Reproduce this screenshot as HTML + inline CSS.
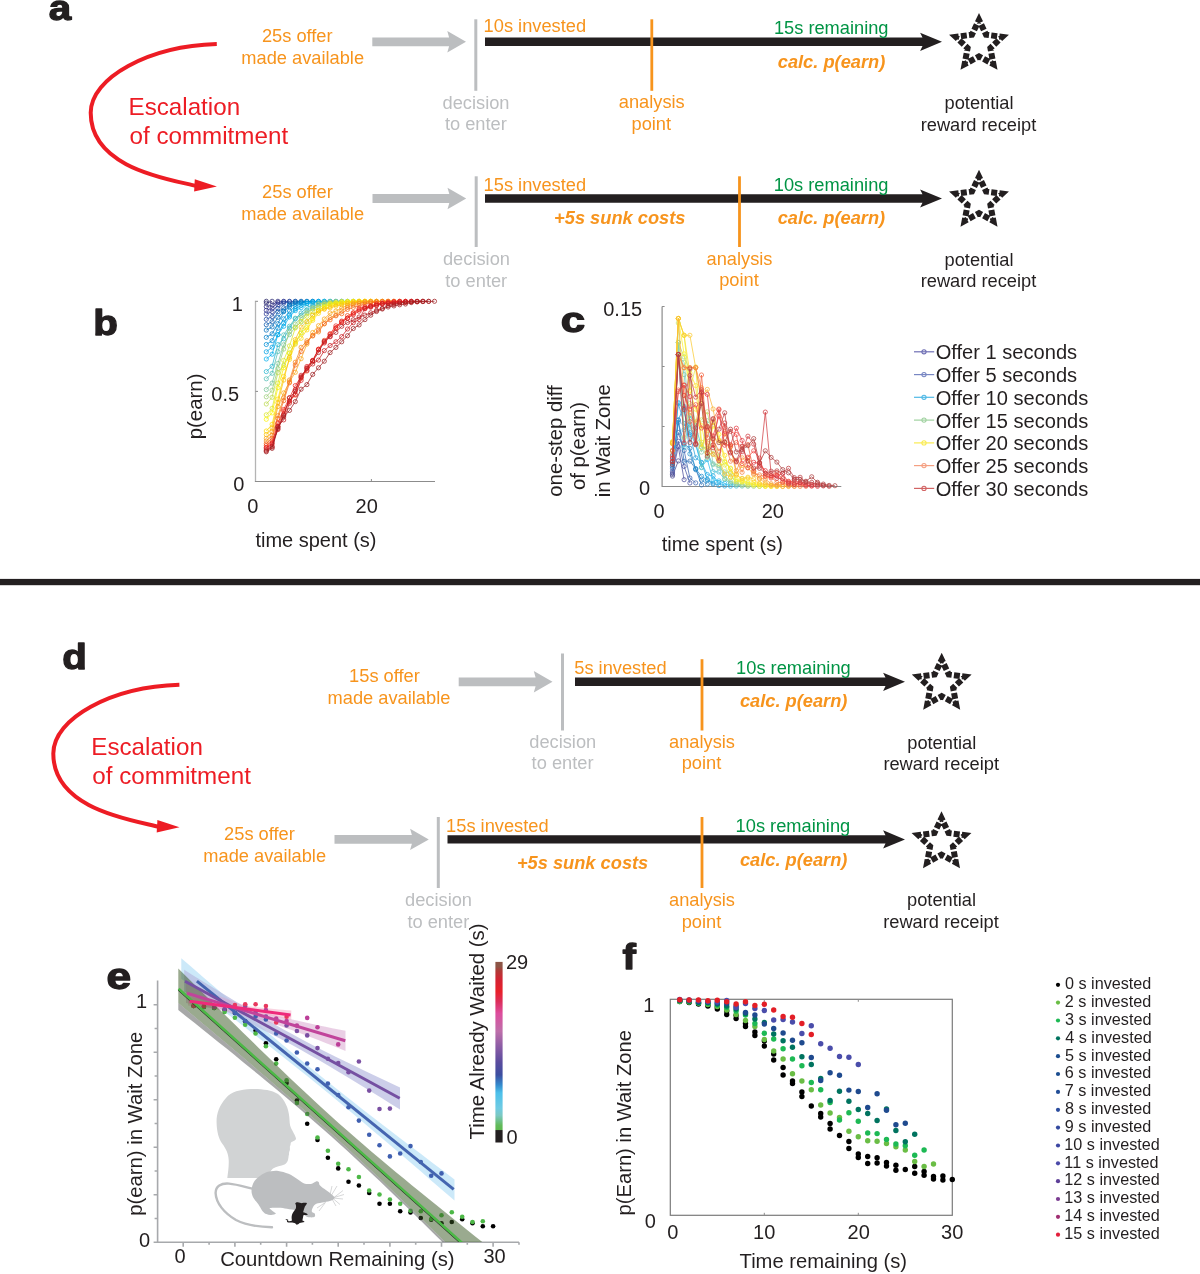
<!DOCTYPE html><html><head><meta charset="utf-8"><style>html,body{margin:0;padding:0;background:#fff;}svg{display:block;will-change:transform}</style></head><body>
<svg width="1200" height="1274" viewBox="0 0 1200 1274" font-family="Liberation Sans, sans-serif">
<rect width="1200" height="1274" fill="#fff"/>
<text transform="translate(50.00,19.60) scale(1.12,1)" x="-1.05" y="0" font-size="36" font-weight="bold" fill="#231F20" stroke="#231F20" stroke-width="1.3" stroke-linejoin="round">a</text>
<g transform="translate(0,0)">
<path d="M216.8,44 C148.8,46.04 90.7,77.53 90.7,112.8 C90.7,168.45 169.0,179.15 196.5,186" fill="none" stroke="#ED1C24" stroke-width="4"/>
<path d="M216.9,186.5 L194.8,179.3 L194.1,191.6 Z" fill="#ED1C24"/>
</g>
<text x="128.50" y="114.80" font-size="24.2" fill="#ED1C24" >Escalation</text>
<text x="129.50" y="143.50" font-size="24.2" fill="#ED1C24" >of commitment</text>
<text x="261.90" y="41.90" font-size="18.25" fill="#F7941D" >25s offer</text>
<text x="241.30" y="63.70" font-size="18.25" fill="#F7941D" >made available</text>
<path d="M372.3,37.4 L449.10,37.4 L447.30,31.099999999999998 L466,41.8 L447.30,52.5 L449.10,46.199999999999996 L372.3,46.199999999999996 Z" fill="#BCBEC0"/>
<rect x="474.30" y="19.30" width="3" height="71.50" fill="#BCBEC0"/>
<text x="442.57" y="108.60" font-size="18.25" fill="#BCBEC0" >decision</text>
<text x="444.90" y="130.10" font-size="18.25" fill="#BCBEC0" >to enter</text>
<path d="M485,37.599999999999994 L922.50,37.599999999999994 L920.10,32.699999999999996 L942,41.8 L920.10,50.9 L922.50,46.0 L485,46.0 Z" fill="#231F20"/>
<text x="483.60" y="31.80" font-size="18.25" fill="#F7941D" >10s invested</text>
<rect x="650.40" y="19.30" width="2.8" height="71.50" fill="#F7941D"/>
<text x="618.82" y="108.30" font-size="18.25" fill="#F7941D" >analysis</text>
<text x="631.52" y="129.70" font-size="18.25" fill="#F7941D" >point</text>
<text x="773.90" y="34.20" font-size="18.25" fill="#009444" >15s remaining</text>
<text x="777.75" y="67.90" font-size="18.25" font-weight="bold" font-style="italic" fill="#F7941D" >calc. p(earn)</text>
<path d="M980.763,23.598 L986.053,34.692 L1002.301,36.829 L990.413,48.108 L993.401,64.221 L979.000,56.400 L964.599,64.221 L967.587,48.108 L955.699,36.829 L971.947,34.692 L979.000,19.900 L980.763,23.598" fill="none" stroke="#231F20" stroke-width="6.0" stroke-miterlimit="10" stroke-dasharray="0 1.097 6.0 1.097"/>
<text x="944.55" y="109.10" font-size="18.25" fill="#231F20" >potential</text>
<text x="920.67" y="130.70" font-size="18.25" fill="#231F20" >reward receipt</text>
<text x="262.10" y="198.30" font-size="18.25" fill="#F7941D" >25s offer</text>
<text x="241.30" y="220.10" font-size="18.25" fill="#F7941D" >made available</text>
<path d="M372.5,194.1 L449.30,194.1 L447.50,187.8 L466.2,198.5 L447.50,209.2 L449.30,202.9 L372.5,202.9 Z" fill="#BCBEC0"/>
<rect x="474.70" y="176.30" width="3" height="70.70" fill="#BCBEC0"/>
<text x="442.97" y="265.00" font-size="18.25" fill="#BCBEC0" >decision</text>
<text x="445.30" y="286.50" font-size="18.25" fill="#BCBEC0" >to enter</text>
<path d="M485,194.3 L922.50,194.3 L920.10,189.4 L942,198.5 L920.10,207.6 L922.50,202.7 L485,202.7 Z" fill="#231F20"/>
<text x="483.60" y="190.80" font-size="18.25" fill="#F7941D" >15s invested</text>
<text x="554.10" y="224.20" font-size="18.25" font-weight="bold" font-style="italic" fill="#F7941D" >+5s sunk costs</text>
<rect x="738.10" y="176.30" width="2.8" height="70.70" fill="#F7941D"/>
<text x="706.52" y="265.00" font-size="18.25" fill="#F7941D" >analysis</text>
<text x="719.23" y="286.40" font-size="18.25" fill="#F7941D" >point</text>
<text x="773.80" y="190.70" font-size="18.25" fill="#009444" >10s remaining</text>
<text x="777.65" y="223.80" font-size="18.25" font-weight="bold" font-style="italic" fill="#F7941D" >calc. p(earn)</text>
<path d="M980.763,180.398 L986.053,191.492 L1002.301,193.629 L990.413,204.908 L993.401,221.021 L979.000,213.200 L964.599,221.021 L967.587,204.908 L955.699,193.629 L971.947,191.492 L979.000,176.700 L980.763,180.398" fill="none" stroke="#231F20" stroke-width="6.0" stroke-miterlimit="10" stroke-dasharray="0 1.097 6.0 1.097"/>
<text x="944.55" y="265.60" font-size="18.25" fill="#231F20" >potential</text>
<text x="920.67" y="287.20" font-size="18.25" fill="#231F20" >reward receipt</text>
<rect x="0" y="578.9" width="1200" height="6.3" fill="#231F20"/>
<text transform="translate(63.75,668.75) scale(1.12,1)" x="-1.45" y="0" font-size="36" font-weight="bold" fill="#231F20" stroke="#231F20" stroke-width="1.3" stroke-linejoin="round">d</text>
<g transform="translate(-37.4,640.8)">
<path d="M216.8,44 C148.8,46.04 90.7,77.53 90.7,112.8 C90.7,168.45 169.0,179.15 196.5,186" fill="none" stroke="#ED1C24" stroke-width="4"/>
<path d="M216.9,186.5 L194.8,179.3 L194.1,191.6 Z" fill="#ED1C24"/>
</g>
<text x="91.25" y="755.30" font-size="24.2" fill="#ED1C24" >Escalation</text>
<text x="92.25" y="784.30" font-size="24.2" fill="#ED1C24" >of commitment</text>
<text x="349.10" y="682.00" font-size="18.25" fill="#F7941D" >15s offer</text>
<text x="327.60" y="703.80" font-size="18.25" fill="#F7941D" >made available</text>
<path d="M458.7,677.4 L535.60,677.4 L533.80,671.0999999999999 L552.5,681.8 L533.80,692.5 L535.60,686.1999999999999 L458.7,686.1999999999999 Z" fill="#BCBEC0"/>
<rect x="561.00" y="653.50" width="3" height="77.00" fill="#BCBEC0"/>
<text x="529.27" y="747.50" font-size="18.25" fill="#BCBEC0" >decision</text>
<text x="531.60" y="769.00" font-size="18.25" fill="#BCBEC0" >to enter</text>
<path d="M575,677.5999999999999 L885.50,677.5999999999999 L883.10,672.6999999999999 L905,681.8 L883.10,690.9 L885.50,686.0 L575,686.0 Z" fill="#231F20"/>
<text x="574.25" y="674.20" font-size="18.25" fill="#F7941D" >5s invested</text>
<rect x="700.60" y="659.20" width="2.8" height="71.30" fill="#F7941D"/>
<text x="669.02" y="748.00" font-size="18.25" fill="#F7941D" >analysis</text>
<text x="681.73" y="769.40" font-size="18.25" fill="#F7941D" >point</text>
<text x="736.10" y="674.20" font-size="18.25" fill="#009444" >10s remaining</text>
<text x="739.95" y="707.10" font-size="18.25" font-weight="bold" font-style="italic" fill="#F7941D" >calc. p(earn)</text>
<path d="M943.463,663.398 L948.753,674.492 L965.001,676.629 L953.113,687.908 L956.101,704.021 L941.700,696.200 L927.299,704.021 L930.287,687.908 L918.399,676.629 L934.647,674.492 L941.700,659.700 L943.463,663.398" fill="none" stroke="#231F20" stroke-width="6.0" stroke-miterlimit="10" stroke-dasharray="0 1.097 6.0 1.097"/>
<text x="907.25" y="748.70" font-size="18.25" fill="#231F20" >potential</text>
<text x="883.38" y="770.30" font-size="18.25" fill="#231F20" >reward receipt</text>
<text x="224.10" y="840.00" font-size="18.25" fill="#F7941D" >25s offer</text>
<text x="203.30" y="861.80" font-size="18.25" fill="#F7941D" >made available</text>
<path d="M334.5,835.0 L411.90,835.0 L410.10,828.6999999999999 L428.8,839.4 L410.10,850.1 L411.90,843.8 L334.5,843.8 Z" fill="#BCBEC0"/>
<rect x="436.80" y="817.00" width="3" height="71.00" fill="#BCBEC0"/>
<text x="405.07" y="906.20" font-size="18.25" fill="#BCBEC0" >decision</text>
<text x="407.40" y="927.70" font-size="18.25" fill="#BCBEC0" >to enter</text>
<path d="M447.5,835.1999999999999 L885.50,835.1999999999999 L883.10,830.3 L905,839.4 L883.10,848.5 L885.50,843.6 L447.5,843.6 Z" fill="#231F20"/>
<text x="446.10" y="831.80" font-size="18.25" fill="#F7941D" >15s invested</text>
<text x="516.90" y="869.30" font-size="18.25" font-weight="bold" font-style="italic" fill="#F7941D" >+5s sunk costs</text>
<rect x="700.60" y="817.00" width="2.8" height="71.00" fill="#F7941D"/>
<text x="669.02" y="906.20" font-size="18.25" fill="#F7941D" >analysis</text>
<text x="681.73" y="927.60" font-size="18.25" fill="#F7941D" >point</text>
<text x="735.60" y="831.80" font-size="18.25" fill="#009444" >10s remaining</text>
<text x="739.95" y="865.90" font-size="18.25" font-weight="bold" font-style="italic" fill="#F7941D" >calc. p(earn)</text>
<path d="M943.263,821.898 L948.553,832.992 L964.801,835.129 L952.913,846.408 L955.901,862.521 L941.500,854.700 L927.099,862.521 L930.087,846.408 L918.199,835.129 L934.447,832.992 L941.500,818.200 L943.263,821.898" fill="none" stroke="#231F20" stroke-width="6.0" stroke-miterlimit="10" stroke-dasharray="0 1.097 6.0 1.097"/>
<text x="907.05" y="906.20" font-size="18.25" fill="#231F20" >potential</text>
<text x="883.17" y="927.80" font-size="18.25" fill="#231F20" >reward receipt</text>
<text transform="translate(95.75,335.25) scale(1.12,1)" x="-2.35" y="0" font-size="36" font-weight="bold" fill="#231F20" stroke="#231F20" stroke-width="1.3" stroke-linejoin="round">b</text>
<path d="M255.5,300.8 L255.5,481.5" fill="none" stroke="#B4B4B4" stroke-width="1.3"/>
<path d="M254.9,481.5 L435,481.5" fill="none" stroke="#8C8C8C" stroke-width="1.2"/>
<path d="M255.5,391.4 h2.5 M255.5,301.3 h2.5 M371.4,481.5 v-2.5" stroke="#8C8C8C" stroke-width="1"/>
<text x="231.70" y="311.00" font-size="20" fill="#231F20" >1</text>
<text x="211.35" y="401.20" font-size="20" fill="#231F20" >0.5</text>
<text x="233.30" y="491.00" font-size="20" fill="#231F20" >0</text>
<text x="247.35" y="513.00" font-size="20" fill="#231F20" >0</text>
<text x="355.60" y="513.00" font-size="20" fill="#231F20" >20</text>
<text x="255.40" y="546.70" font-size="20" fill="#231F20" >time spent (s)</text>
<text transform="translate(202.30,406.40) rotate(-90)" x="-32.88" y="0" font-size="20.4" fill="#231F20">p(earn)</text>
<path d="M266.3,301.3" fill="none" stroke="#262262" stroke-width="0.75"/>
<path d="M268.4,301.3 a2.1,2.1 0 1,0 -4.2,0 a2.1,2.1 0 1,0 4.2,0 " fill="none" stroke="#262262" stroke-width="0.75"/>
<path d="M266.3,303.1 L272.1,301.3" fill="none" stroke="#28266F" stroke-width="0.75"/>
<path d="M268.4,303.1 a2.1,2.1 0 1,0 -4.2,0 a2.1,2.1 0 1,0 4.2,0 M274.2,301.3 a2.1,2.1 0 1,0 -4.2,0 a2.1,2.1 0 1,0 4.2,0 " fill="none" stroke="#28266F" stroke-width="0.75"/>
<path d="M266.3,306.7 L272.1,305.1 L277.9,301.3" fill="none" stroke="#2A2A7C" stroke-width="0.75"/>
<path d="M268.4,306.7 a2.1,2.1 0 1,0 -4.2,0 a2.1,2.1 0 1,0 4.2,0 M274.2,305.1 a2.1,2.1 0 1,0 -4.2,0 a2.1,2.1 0 1,0 4.2,0 M280.0,301.3 a2.1,2.1 0 1,0 -4.2,0 a2.1,2.1 0 1,0 4.2,0 " fill="none" stroke="#2A2A7C" stroke-width="0.75"/>
<path d="M266.3,310.3 L272.1,308.3 L277.9,302.3 L283.7,301.3" fill="none" stroke="#2D2E8A" stroke-width="0.75"/>
<path d="M268.4,310.3 a2.1,2.1 0 1,0 -4.2,0 a2.1,2.1 0 1,0 4.2,0 M274.2,308.3 a2.1,2.1 0 1,0 -4.2,0 a2.1,2.1 0 1,0 4.2,0 M280.0,302.3 a2.1,2.1 0 1,0 -4.2,0 a2.1,2.1 0 1,0 4.2,0 M285.8,301.3 a2.1,2.1 0 1,0 -4.2,0 a2.1,2.1 0 1,0 4.2,0 " fill="none" stroke="#2D2E8A" stroke-width="0.75"/>
<path d="M266.3,313.9 L272.1,311.6 L277.9,304.8 L283.7,301.8 L289.5,301.3" fill="none" stroke="#293896" stroke-width="0.75"/>
<path d="M268.4,313.9 a2.1,2.1 0 1,0 -4.2,0 a2.1,2.1 0 1,0 4.2,0 M274.2,311.6 a2.1,2.1 0 1,0 -4.2,0 a2.1,2.1 0 1,0 4.2,0 M280.0,304.8 a2.1,2.1 0 1,0 -4.2,0 a2.1,2.1 0 1,0 4.2,0 M285.8,301.8 a2.1,2.1 0 1,0 -4.2,0 a2.1,2.1 0 1,0 4.2,0 M291.6,301.3 a2.1,2.1 0 1,0 -4.2,0 a2.1,2.1 0 1,0 4.2,0 " fill="none" stroke="#293896" stroke-width="0.75"/>
<path d="M266.3,319.3 L272.1,316.6 L277.9,308.5 L283.7,303.1 L289.5,301.8 L295.3,301.3" fill="none" stroke="#1D4AA2" stroke-width="0.75"/>
<path d="M268.4,319.3 a2.1,2.1 0 1,0 -4.2,0 a2.1,2.1 0 1,0 4.2,0 M274.2,316.6 a2.1,2.1 0 1,0 -4.2,0 a2.1,2.1 0 1,0 4.2,0 M280.0,308.5 a2.1,2.1 0 1,0 -4.2,0 a2.1,2.1 0 1,0 4.2,0 M285.8,303.1 a2.1,2.1 0 1,0 -4.2,0 a2.1,2.1 0 1,0 4.2,0 M291.6,301.8 a2.1,2.1 0 1,0 -4.2,0 a2.1,2.1 0 1,0 4.2,0 M297.4,301.3 a2.1,2.1 0 1,0 -4.2,0 a2.1,2.1 0 1,0 4.2,0 " fill="none" stroke="#1D4AA2" stroke-width="0.75"/>
<path d="M266.3,324.7 L272.1,321.7 L277.9,311.8 L283.7,308.0 L289.5,304.2 L295.3,301.5 L301.1,301.3" fill="none" stroke="#105CAE" stroke-width="0.75"/>
<path d="M268.4,324.7 a2.1,2.1 0 1,0 -4.2,0 a2.1,2.1 0 1,0 4.2,0 M274.2,321.7 a2.1,2.1 0 1,0 -4.2,0 a2.1,2.1 0 1,0 4.2,0 M280.0,311.8 a2.1,2.1 0 1,0 -4.2,0 a2.1,2.1 0 1,0 4.2,0 M285.8,308.0 a2.1,2.1 0 1,0 -4.2,0 a2.1,2.1 0 1,0 4.2,0 M291.6,304.2 a2.1,2.1 0 1,0 -4.2,0 a2.1,2.1 0 1,0 4.2,0 M297.4,301.5 a2.1,2.1 0 1,0 -4.2,0 a2.1,2.1 0 1,0 4.2,0 M303.2,301.3 a2.1,2.1 0 1,0 -4.2,0 a2.1,2.1 0 1,0 4.2,0 " fill="none" stroke="#105CAE" stroke-width="0.75"/>
<path d="M266.3,330.1 L272.1,326.9 L277.9,317.3 L283.7,310.9 L289.5,305.1 L295.3,302.6 L301.1,301.7 L306.9,301.3" fill="none" stroke="#036EB9" stroke-width="0.75"/>
<path d="M268.4,330.1 a2.1,2.1 0 1,0 -4.2,0 a2.1,2.1 0 1,0 4.2,0 M274.2,326.9 a2.1,2.1 0 1,0 -4.2,0 a2.1,2.1 0 1,0 4.2,0 M280.0,317.3 a2.1,2.1 0 1,0 -4.2,0 a2.1,2.1 0 1,0 4.2,0 M285.8,310.9 a2.1,2.1 0 1,0 -4.2,0 a2.1,2.1 0 1,0 4.2,0 M291.6,305.1 a2.1,2.1 0 1,0 -4.2,0 a2.1,2.1 0 1,0 4.2,0 M297.4,302.6 a2.1,2.1 0 1,0 -4.2,0 a2.1,2.1 0 1,0 4.2,0 M303.2,301.7 a2.1,2.1 0 1,0 -4.2,0 a2.1,2.1 0 1,0 4.2,0 M309.0,301.3 a2.1,2.1 0 1,0 -4.2,0 a2.1,2.1 0 1,0 4.2,0 " fill="none" stroke="#036EB9" stroke-width="0.75"/>
<path d="M266.3,337.3 L272.1,333.8 L277.9,323.7 L283.7,311.7 L289.5,306.8 L295.3,304.2 L301.1,302.6 L306.9,301.7 L312.7,301.3" fill="none" stroke="#007EC7" stroke-width="0.75"/>
<path d="M268.4,337.3 a2.1,2.1 0 1,0 -4.2,0 a2.1,2.1 0 1,0 4.2,0 M274.2,333.8 a2.1,2.1 0 1,0 -4.2,0 a2.1,2.1 0 1,0 4.2,0 M280.0,323.7 a2.1,2.1 0 1,0 -4.2,0 a2.1,2.1 0 1,0 4.2,0 M285.8,311.7 a2.1,2.1 0 1,0 -4.2,0 a2.1,2.1 0 1,0 4.2,0 M291.6,306.8 a2.1,2.1 0 1,0 -4.2,0 a2.1,2.1 0 1,0 4.2,0 M297.4,304.2 a2.1,2.1 0 1,0 -4.2,0 a2.1,2.1 0 1,0 4.2,0 M303.2,302.6 a2.1,2.1 0 1,0 -4.2,0 a2.1,2.1 0 1,0 4.2,0 M309.0,301.7 a2.1,2.1 0 1,0 -4.2,0 a2.1,2.1 0 1,0 4.2,0 M314.8,301.3 a2.1,2.1 0 1,0 -4.2,0 a2.1,2.1 0 1,0 4.2,0 " fill="none" stroke="#007EC7" stroke-width="0.75"/>
<path d="M266.3,344.5 L272.1,340.7 L277.9,328.2 L283.7,318.8 L289.5,311.0 L295.3,306.6 L301.1,303.0 L306.9,301.9 L312.7,301.4 L318.5,301.3" fill="none" stroke="#008FD5" stroke-width="0.75"/>
<path d="M268.4,344.5 a2.1,2.1 0 1,0 -4.2,0 a2.1,2.1 0 1,0 4.2,0 M274.2,340.7 a2.1,2.1 0 1,0 -4.2,0 a2.1,2.1 0 1,0 4.2,0 M280.0,328.2 a2.1,2.1 0 1,0 -4.2,0 a2.1,2.1 0 1,0 4.2,0 M285.8,318.8 a2.1,2.1 0 1,0 -4.2,0 a2.1,2.1 0 1,0 4.2,0 M291.6,311.0 a2.1,2.1 0 1,0 -4.2,0 a2.1,2.1 0 1,0 4.2,0 M297.4,306.6 a2.1,2.1 0 1,0 -4.2,0 a2.1,2.1 0 1,0 4.2,0 M303.2,303.0 a2.1,2.1 0 1,0 -4.2,0 a2.1,2.1 0 1,0 4.2,0 M309.0,301.9 a2.1,2.1 0 1,0 -4.2,0 a2.1,2.1 0 1,0 4.2,0 M314.8,301.4 a2.1,2.1 0 1,0 -4.2,0 a2.1,2.1 0 1,0 4.2,0 M320.6,301.3 a2.1,2.1 0 1,0 -4.2,0 a2.1,2.1 0 1,0 4.2,0 " fill="none" stroke="#008FD5" stroke-width="0.75"/>
<path d="M266.3,351.8 L272.1,347.2 L277.9,334.6 L283.7,323.3 L289.5,315.2 L295.3,308.9 L301.1,305.3 L306.9,303.5 L312.7,302.0 L318.5,301.4 L324.3,301.3" fill="none" stroke="#00A0E3" stroke-width="0.75"/>
<path d="M268.4,351.8 a2.1,2.1 0 1,0 -4.2,0 a2.1,2.1 0 1,0 4.2,0 M274.2,347.2 a2.1,2.1 0 1,0 -4.2,0 a2.1,2.1 0 1,0 4.2,0 M280.0,334.6 a2.1,2.1 0 1,0 -4.2,0 a2.1,2.1 0 1,0 4.2,0 M285.8,323.3 a2.1,2.1 0 1,0 -4.2,0 a2.1,2.1 0 1,0 4.2,0 M291.6,315.2 a2.1,2.1 0 1,0 -4.2,0 a2.1,2.1 0 1,0 4.2,0 M297.4,308.9 a2.1,2.1 0 1,0 -4.2,0 a2.1,2.1 0 1,0 4.2,0 M303.2,305.3 a2.1,2.1 0 1,0 -4.2,0 a2.1,2.1 0 1,0 4.2,0 M309.0,303.5 a2.1,2.1 0 1,0 -4.2,0 a2.1,2.1 0 1,0 4.2,0 M314.8,302.0 a2.1,2.1 0 1,0 -4.2,0 a2.1,2.1 0 1,0 4.2,0 M320.6,301.4 a2.1,2.1 0 1,0 -4.2,0 a2.1,2.1 0 1,0 4.2,0 M326.4,301.3 a2.1,2.1 0 1,0 -4.2,0 a2.1,2.1 0 1,0 4.2,0 " fill="none" stroke="#00A0E3" stroke-width="0.75"/>
<path d="M266.3,359.0 L272.1,354.2 L277.9,334.8 L283.7,326.3 L289.5,317.0 L295.3,310.6 L301.1,307.7 L306.9,303.6 L312.7,302.7 L318.5,301.8 L324.3,301.3 L330.1,301.3" fill="none" stroke="#05AFEC" stroke-width="0.75"/>
<path d="M268.4,359.0 a2.1,2.1 0 1,0 -4.2,0 a2.1,2.1 0 1,0 4.2,0 M274.2,354.2 a2.1,2.1 0 1,0 -4.2,0 a2.1,2.1 0 1,0 4.2,0 M280.0,334.8 a2.1,2.1 0 1,0 -4.2,0 a2.1,2.1 0 1,0 4.2,0 M285.8,326.3 a2.1,2.1 0 1,0 -4.2,0 a2.1,2.1 0 1,0 4.2,0 M291.6,317.0 a2.1,2.1 0 1,0 -4.2,0 a2.1,2.1 0 1,0 4.2,0 M297.4,310.6 a2.1,2.1 0 1,0 -4.2,0 a2.1,2.1 0 1,0 4.2,0 M303.2,307.7 a2.1,2.1 0 1,0 -4.2,0 a2.1,2.1 0 1,0 4.2,0 M309.0,303.6 a2.1,2.1 0 1,0 -4.2,0 a2.1,2.1 0 1,0 4.2,0 M314.8,302.7 a2.1,2.1 0 1,0 -4.2,0 a2.1,2.1 0 1,0 4.2,0 M320.6,301.8 a2.1,2.1 0 1,0 -4.2,0 a2.1,2.1 0 1,0 4.2,0 M326.4,301.3 a2.1,2.1 0 1,0 -4.2,0 a2.1,2.1 0 1,0 4.2,0 M332.2,301.3 a2.1,2.1 0 1,0 -4.2,0 a2.1,2.1 0 1,0 4.2,0 " fill="none" stroke="#05AFEC" stroke-width="0.75"/>
<path d="M266.3,371.6 L272.1,366.3 L277.9,344.6 L283.7,338.8 L289.5,328.1 L295.3,318.9 L301.1,313.0 L306.9,307.3 L312.7,305.1 L318.5,302.9 L324.3,301.8 L330.1,301.4 L335.9,301.3" fill="none" stroke="#2BB6D0" stroke-width="0.75"/>
<path d="M268.4,371.6 a2.1,2.1 0 1,0 -4.2,0 a2.1,2.1 0 1,0 4.2,0 M274.2,366.3 a2.1,2.1 0 1,0 -4.2,0 a2.1,2.1 0 1,0 4.2,0 M280.0,344.6 a2.1,2.1 0 1,0 -4.2,0 a2.1,2.1 0 1,0 4.2,0 M285.8,338.8 a2.1,2.1 0 1,0 -4.2,0 a2.1,2.1 0 1,0 4.2,0 M291.6,328.1 a2.1,2.1 0 1,0 -4.2,0 a2.1,2.1 0 1,0 4.2,0 M297.4,318.9 a2.1,2.1 0 1,0 -4.2,0 a2.1,2.1 0 1,0 4.2,0 M303.2,313.0 a2.1,2.1 0 1,0 -4.2,0 a2.1,2.1 0 1,0 4.2,0 M309.0,307.3 a2.1,2.1 0 1,0 -4.2,0 a2.1,2.1 0 1,0 4.2,0 M314.8,305.1 a2.1,2.1 0 1,0 -4.2,0 a2.1,2.1 0 1,0 4.2,0 M320.6,302.9 a2.1,2.1 0 1,0 -4.2,0 a2.1,2.1 0 1,0 4.2,0 M326.4,301.8 a2.1,2.1 0 1,0 -4.2,0 a2.1,2.1 0 1,0 4.2,0 M332.2,301.4 a2.1,2.1 0 1,0 -4.2,0 a2.1,2.1 0 1,0 4.2,0 M338.0,301.3 a2.1,2.1 0 1,0 -4.2,0 a2.1,2.1 0 1,0 4.2,0 " fill="none" stroke="#2BB6D0" stroke-width="0.75"/>
<path d="M266.3,378.8 L272.1,373.3 L277.9,351.7 L283.7,334.9 L289.5,326.2 L295.3,318.2 L301.1,315.4 L306.9,310.5 L312.7,307.1 L318.5,303.9 L324.3,302.2 L330.1,301.6 L335.9,301.4 L341.7,301.3" fill="none" stroke="#52BDB5" stroke-width="0.75"/>
<path d="M268.4,378.8 a2.1,2.1 0 1,0 -4.2,0 a2.1,2.1 0 1,0 4.2,0 M274.2,373.3 a2.1,2.1 0 1,0 -4.2,0 a2.1,2.1 0 1,0 4.2,0 M280.0,351.7 a2.1,2.1 0 1,0 -4.2,0 a2.1,2.1 0 1,0 4.2,0 M285.8,334.9 a2.1,2.1 0 1,0 -4.2,0 a2.1,2.1 0 1,0 4.2,0 M291.6,326.2 a2.1,2.1 0 1,0 -4.2,0 a2.1,2.1 0 1,0 4.2,0 M297.4,318.2 a2.1,2.1 0 1,0 -4.2,0 a2.1,2.1 0 1,0 4.2,0 M303.2,315.4 a2.1,2.1 0 1,0 -4.2,0 a2.1,2.1 0 1,0 4.2,0 M309.0,310.5 a2.1,2.1 0 1,0 -4.2,0 a2.1,2.1 0 1,0 4.2,0 M314.8,307.1 a2.1,2.1 0 1,0 -4.2,0 a2.1,2.1 0 1,0 4.2,0 M320.6,303.9 a2.1,2.1 0 1,0 -4.2,0 a2.1,2.1 0 1,0 4.2,0 M326.4,302.2 a2.1,2.1 0 1,0 -4.2,0 a2.1,2.1 0 1,0 4.2,0 M332.2,301.6 a2.1,2.1 0 1,0 -4.2,0 a2.1,2.1 0 1,0 4.2,0 M338.0,301.4 a2.1,2.1 0 1,0 -4.2,0 a2.1,2.1 0 1,0 4.2,0 M343.8,301.3 a2.1,2.1 0 1,0 -4.2,0 a2.1,2.1 0 1,0 4.2,0 " fill="none" stroke="#52BDB5" stroke-width="0.75"/>
<path d="M266.3,389.6 L272.1,383.1 L277.9,363.4 L283.7,344.8 L289.5,334.6 L295.3,327.2 L301.1,322.1 L306.9,312.2 L312.7,308.9 L318.5,306.1 L324.3,303.9 L330.1,301.9 L335.9,301.5 L341.7,301.3 L347.5,301.3" fill="none" stroke="#79C49A" stroke-width="0.75"/>
<path d="M268.4,389.6 a2.1,2.1 0 1,0 -4.2,0 a2.1,2.1 0 1,0 4.2,0 M274.2,383.1 a2.1,2.1 0 1,0 -4.2,0 a2.1,2.1 0 1,0 4.2,0 M280.0,363.4 a2.1,2.1 0 1,0 -4.2,0 a2.1,2.1 0 1,0 4.2,0 M285.8,344.8 a2.1,2.1 0 1,0 -4.2,0 a2.1,2.1 0 1,0 4.2,0 M291.6,334.6 a2.1,2.1 0 1,0 -4.2,0 a2.1,2.1 0 1,0 4.2,0 M297.4,327.2 a2.1,2.1 0 1,0 -4.2,0 a2.1,2.1 0 1,0 4.2,0 M303.2,322.1 a2.1,2.1 0 1,0 -4.2,0 a2.1,2.1 0 1,0 4.2,0 M309.0,312.2 a2.1,2.1 0 1,0 -4.2,0 a2.1,2.1 0 1,0 4.2,0 M314.8,308.9 a2.1,2.1 0 1,0 -4.2,0 a2.1,2.1 0 1,0 4.2,0 M320.6,306.1 a2.1,2.1 0 1,0 -4.2,0 a2.1,2.1 0 1,0 4.2,0 M326.4,303.9 a2.1,2.1 0 1,0 -4.2,0 a2.1,2.1 0 1,0 4.2,0 M332.2,301.9 a2.1,2.1 0 1,0 -4.2,0 a2.1,2.1 0 1,0 4.2,0 M338.0,301.5 a2.1,2.1 0 1,0 -4.2,0 a2.1,2.1 0 1,0 4.2,0 M343.8,301.3 a2.1,2.1 0 1,0 -4.2,0 a2.1,2.1 0 1,0 4.2,0 M349.6,301.3 a2.1,2.1 0 1,0 -4.2,0 a2.1,2.1 0 1,0 4.2,0 " fill="none" stroke="#79C49A" stroke-width="0.75"/>
<path d="M266.3,396.8 L272.1,390.2 L277.9,368.6 L283.7,349.1 L289.5,331.6 L295.3,324.1 L301.1,317.8 L306.9,313.4 L312.7,308.1 L318.5,304.1 L324.3,302.9 L330.1,302.1 L335.9,301.7 L341.7,301.4 L347.5,301.3 L353.3,301.3" fill="none" stroke="#9CCE79" stroke-width="0.75"/>
<path d="M268.4,396.8 a2.1,2.1 0 1,0 -4.2,0 a2.1,2.1 0 1,0 4.2,0 M274.2,390.2 a2.1,2.1 0 1,0 -4.2,0 a2.1,2.1 0 1,0 4.2,0 M280.0,368.6 a2.1,2.1 0 1,0 -4.2,0 a2.1,2.1 0 1,0 4.2,0 M285.8,349.1 a2.1,2.1 0 1,0 -4.2,0 a2.1,2.1 0 1,0 4.2,0 M291.6,331.6 a2.1,2.1 0 1,0 -4.2,0 a2.1,2.1 0 1,0 4.2,0 M297.4,324.1 a2.1,2.1 0 1,0 -4.2,0 a2.1,2.1 0 1,0 4.2,0 M303.2,317.8 a2.1,2.1 0 1,0 -4.2,0 a2.1,2.1 0 1,0 4.2,0 M309.0,313.4 a2.1,2.1 0 1,0 -4.2,0 a2.1,2.1 0 1,0 4.2,0 M314.8,308.1 a2.1,2.1 0 1,0 -4.2,0 a2.1,2.1 0 1,0 4.2,0 M320.6,304.1 a2.1,2.1 0 1,0 -4.2,0 a2.1,2.1 0 1,0 4.2,0 M326.4,302.9 a2.1,2.1 0 1,0 -4.2,0 a2.1,2.1 0 1,0 4.2,0 M332.2,302.1 a2.1,2.1 0 1,0 -4.2,0 a2.1,2.1 0 1,0 4.2,0 M338.0,301.7 a2.1,2.1 0 1,0 -4.2,0 a2.1,2.1 0 1,0 4.2,0 M343.8,301.4 a2.1,2.1 0 1,0 -4.2,0 a2.1,2.1 0 1,0 4.2,0 M349.6,301.3 a2.1,2.1 0 1,0 -4.2,0 a2.1,2.1 0 1,0 4.2,0 M355.4,301.3 a2.1,2.1 0 1,0 -4.2,0 a2.1,2.1 0 1,0 4.2,0 " fill="none" stroke="#9CCE79" stroke-width="0.75"/>
<path d="M266.3,404.0 L272.1,397.3 L277.9,372.8 L283.7,365.4 L289.5,352.9 L295.3,343.2 L301.1,333.2 L306.9,322.0 L312.7,314.9 L318.5,310.3 L324.3,306.7 L330.1,304.0 L335.9,303.2 L341.7,302.0 L347.5,301.5 L353.3,301.3 L359.1,301.3" fill="none" stroke="#BCD952" stroke-width="0.75"/>
<path d="M268.4,404.0 a2.1,2.1 0 1,0 -4.2,0 a2.1,2.1 0 1,0 4.2,0 M274.2,397.3 a2.1,2.1 0 1,0 -4.2,0 a2.1,2.1 0 1,0 4.2,0 M280.0,372.8 a2.1,2.1 0 1,0 -4.2,0 a2.1,2.1 0 1,0 4.2,0 M285.8,365.4 a2.1,2.1 0 1,0 -4.2,0 a2.1,2.1 0 1,0 4.2,0 M291.6,352.9 a2.1,2.1 0 1,0 -4.2,0 a2.1,2.1 0 1,0 4.2,0 M297.4,343.2 a2.1,2.1 0 1,0 -4.2,0 a2.1,2.1 0 1,0 4.2,0 M303.2,333.2 a2.1,2.1 0 1,0 -4.2,0 a2.1,2.1 0 1,0 4.2,0 M309.0,322.0 a2.1,2.1 0 1,0 -4.2,0 a2.1,2.1 0 1,0 4.2,0 M314.8,314.9 a2.1,2.1 0 1,0 -4.2,0 a2.1,2.1 0 1,0 4.2,0 M320.6,310.3 a2.1,2.1 0 1,0 -4.2,0 a2.1,2.1 0 1,0 4.2,0 M326.4,306.7 a2.1,2.1 0 1,0 -4.2,0 a2.1,2.1 0 1,0 4.2,0 M332.2,304.0 a2.1,2.1 0 1,0 -4.2,0 a2.1,2.1 0 1,0 4.2,0 M338.0,303.2 a2.1,2.1 0 1,0 -4.2,0 a2.1,2.1 0 1,0 4.2,0 M343.8,302.0 a2.1,2.1 0 1,0 -4.2,0 a2.1,2.1 0 1,0 4.2,0 M349.6,301.5 a2.1,2.1 0 1,0 -4.2,0 a2.1,2.1 0 1,0 4.2,0 M355.4,301.3 a2.1,2.1 0 1,0 -4.2,0 a2.1,2.1 0 1,0 4.2,0 M361.2,301.3 a2.1,2.1 0 1,0 -4.2,0 a2.1,2.1 0 1,0 4.2,0 " fill="none" stroke="#BCD952" stroke-width="0.75"/>
<path d="M266.3,414.8 L272.1,408.3 L277.9,383.1 L283.7,360.4 L289.5,345.9 L295.3,328.0 L301.1,321.3 L306.9,316.3 L312.7,311.4 L318.5,308.0 L324.3,304.8 L330.1,303.4 L335.9,302.6 L341.7,301.9 L347.5,301.6 L353.3,301.3 L359.1,301.3 L364.9,301.3" fill="none" stroke="#DBE52B" stroke-width="0.75"/>
<path d="M268.4,414.8 a2.1,2.1 0 1,0 -4.2,0 a2.1,2.1 0 1,0 4.2,0 M274.2,408.3 a2.1,2.1 0 1,0 -4.2,0 a2.1,2.1 0 1,0 4.2,0 M280.0,383.1 a2.1,2.1 0 1,0 -4.2,0 a2.1,2.1 0 1,0 4.2,0 M285.8,360.4 a2.1,2.1 0 1,0 -4.2,0 a2.1,2.1 0 1,0 4.2,0 M291.6,345.9 a2.1,2.1 0 1,0 -4.2,0 a2.1,2.1 0 1,0 4.2,0 M297.4,328.0 a2.1,2.1 0 1,0 -4.2,0 a2.1,2.1 0 1,0 4.2,0 M303.2,321.3 a2.1,2.1 0 1,0 -4.2,0 a2.1,2.1 0 1,0 4.2,0 M309.0,316.3 a2.1,2.1 0 1,0 -4.2,0 a2.1,2.1 0 1,0 4.2,0 M314.8,311.4 a2.1,2.1 0 1,0 -4.2,0 a2.1,2.1 0 1,0 4.2,0 M320.6,308.0 a2.1,2.1 0 1,0 -4.2,0 a2.1,2.1 0 1,0 4.2,0 M326.4,304.8 a2.1,2.1 0 1,0 -4.2,0 a2.1,2.1 0 1,0 4.2,0 M332.2,303.4 a2.1,2.1 0 1,0 -4.2,0 a2.1,2.1 0 1,0 4.2,0 M338.0,302.6 a2.1,2.1 0 1,0 -4.2,0 a2.1,2.1 0 1,0 4.2,0 M343.8,301.9 a2.1,2.1 0 1,0 -4.2,0 a2.1,2.1 0 1,0 4.2,0 M349.6,301.6 a2.1,2.1 0 1,0 -4.2,0 a2.1,2.1 0 1,0 4.2,0 M355.4,301.3 a2.1,2.1 0 1,0 -4.2,0 a2.1,2.1 0 1,0 4.2,0 M361.2,301.3 a2.1,2.1 0 1,0 -4.2,0 a2.1,2.1 0 1,0 4.2,0 M367.0,301.3 a2.1,2.1 0 1,0 -4.2,0 a2.1,2.1 0 1,0 4.2,0 " fill="none" stroke="#DBE52B" stroke-width="0.75"/>
<path d="M266.3,419.3 L272.1,412.9 L277.9,387.7 L283.7,367.8 L289.5,353.4 L295.3,341.8 L301.1,332.7 L306.9,327.7 L312.7,318.6 L318.5,310.8 L324.3,307.1 L330.1,304.3 L335.9,303.3 L341.7,302.5 L347.5,301.9 L353.3,301.6 L359.1,301.3 L364.9,301.3 L370.7,301.3" fill="none" stroke="#FBF105" stroke-width="0.75"/>
<path d="M268.4,419.3 a2.1,2.1 0 1,0 -4.2,0 a2.1,2.1 0 1,0 4.2,0 M274.2,412.9 a2.1,2.1 0 1,0 -4.2,0 a2.1,2.1 0 1,0 4.2,0 M280.0,387.7 a2.1,2.1 0 1,0 -4.2,0 a2.1,2.1 0 1,0 4.2,0 M285.8,367.8 a2.1,2.1 0 1,0 -4.2,0 a2.1,2.1 0 1,0 4.2,0 M291.6,353.4 a2.1,2.1 0 1,0 -4.2,0 a2.1,2.1 0 1,0 4.2,0 M297.4,341.8 a2.1,2.1 0 1,0 -4.2,0 a2.1,2.1 0 1,0 4.2,0 M303.2,332.7 a2.1,2.1 0 1,0 -4.2,0 a2.1,2.1 0 1,0 4.2,0 M309.0,327.7 a2.1,2.1 0 1,0 -4.2,0 a2.1,2.1 0 1,0 4.2,0 M314.8,318.6 a2.1,2.1 0 1,0 -4.2,0 a2.1,2.1 0 1,0 4.2,0 M320.6,310.8 a2.1,2.1 0 1,0 -4.2,0 a2.1,2.1 0 1,0 4.2,0 M326.4,307.1 a2.1,2.1 0 1,0 -4.2,0 a2.1,2.1 0 1,0 4.2,0 M332.2,304.3 a2.1,2.1 0 1,0 -4.2,0 a2.1,2.1 0 1,0 4.2,0 M338.0,303.3 a2.1,2.1 0 1,0 -4.2,0 a2.1,2.1 0 1,0 4.2,0 M343.8,302.5 a2.1,2.1 0 1,0 -4.2,0 a2.1,2.1 0 1,0 4.2,0 M349.6,301.9 a2.1,2.1 0 1,0 -4.2,0 a2.1,2.1 0 1,0 4.2,0 M355.4,301.6 a2.1,2.1 0 1,0 -4.2,0 a2.1,2.1 0 1,0 4.2,0 M361.2,301.3 a2.1,2.1 0 1,0 -4.2,0 a2.1,2.1 0 1,0 4.2,0 M367.0,301.3 a2.1,2.1 0 1,0 -4.2,0 a2.1,2.1 0 1,0 4.2,0 M372.8,301.3 a2.1,2.1 0 1,0 -4.2,0 a2.1,2.1 0 1,0 4.2,0 " fill="none" stroke="#FBF105" stroke-width="0.75"/>
<path d="M266.3,431.0 L272.1,424.3 L277.9,399.1 L283.7,376.4 L289.5,359.4 L295.3,344.2 L301.1,338.3 L306.9,329.9 L312.7,320.3 L318.5,313.3 L324.3,308.7 L330.1,306.5 L335.9,304.7 L341.7,303.7 L347.5,302.5 L353.3,301.9 L359.1,301.4 L364.9,301.3 L370.7,301.3 L376.5,301.3" fill="none" stroke="#FDDB07" stroke-width="0.75"/>
<path d="M268.4,431.0 a2.1,2.1 0 1,0 -4.2,0 a2.1,2.1 0 1,0 4.2,0 M274.2,424.3 a2.1,2.1 0 1,0 -4.2,0 a2.1,2.1 0 1,0 4.2,0 M280.0,399.1 a2.1,2.1 0 1,0 -4.2,0 a2.1,2.1 0 1,0 4.2,0 M285.8,376.4 a2.1,2.1 0 1,0 -4.2,0 a2.1,2.1 0 1,0 4.2,0 M291.6,359.4 a2.1,2.1 0 1,0 -4.2,0 a2.1,2.1 0 1,0 4.2,0 M297.4,344.2 a2.1,2.1 0 1,0 -4.2,0 a2.1,2.1 0 1,0 4.2,0 M303.2,338.3 a2.1,2.1 0 1,0 -4.2,0 a2.1,2.1 0 1,0 4.2,0 M309.0,329.9 a2.1,2.1 0 1,0 -4.2,0 a2.1,2.1 0 1,0 4.2,0 M314.8,320.3 a2.1,2.1 0 1,0 -4.2,0 a2.1,2.1 0 1,0 4.2,0 M320.6,313.3 a2.1,2.1 0 1,0 -4.2,0 a2.1,2.1 0 1,0 4.2,0 M326.4,308.7 a2.1,2.1 0 1,0 -4.2,0 a2.1,2.1 0 1,0 4.2,0 M332.2,306.5 a2.1,2.1 0 1,0 -4.2,0 a2.1,2.1 0 1,0 4.2,0 M338.0,304.7 a2.1,2.1 0 1,0 -4.2,0 a2.1,2.1 0 1,0 4.2,0 M343.8,303.7 a2.1,2.1 0 1,0 -4.2,0 a2.1,2.1 0 1,0 4.2,0 M349.6,302.5 a2.1,2.1 0 1,0 -4.2,0 a2.1,2.1 0 1,0 4.2,0 M355.4,301.9 a2.1,2.1 0 1,0 -4.2,0 a2.1,2.1 0 1,0 4.2,0 M361.2,301.4 a2.1,2.1 0 1,0 -4.2,0 a2.1,2.1 0 1,0 4.2,0 M367.0,301.3 a2.1,2.1 0 1,0 -4.2,0 a2.1,2.1 0 1,0 4.2,0 M372.8,301.3 a2.1,2.1 0 1,0 -4.2,0 a2.1,2.1 0 1,0 4.2,0 M378.6,301.3 a2.1,2.1 0 1,0 -4.2,0 a2.1,2.1 0 1,0 4.2,0 " fill="none" stroke="#FDDB07" stroke-width="0.75"/>
<path d="M266.3,434.6 L272.1,428.1 L277.9,402.8 L283.7,380.1 L289.5,357.4 L295.3,339.6 L301.1,327.1 L306.9,321.5 L312.7,315.2 L318.5,311.1 L324.3,309.2 L330.1,307.8 L335.9,306.1 L341.7,304.8 L347.5,303.5 L353.3,302.3 L359.1,301.9 L364.9,301.5 L370.7,301.3 L376.5,301.3 L382.3,301.3" fill="none" stroke="#FBC10F" stroke-width="0.75"/>
<path d="M268.4,434.6 a2.1,2.1 0 1,0 -4.2,0 a2.1,2.1 0 1,0 4.2,0 M274.2,428.1 a2.1,2.1 0 1,0 -4.2,0 a2.1,2.1 0 1,0 4.2,0 M280.0,402.8 a2.1,2.1 0 1,0 -4.2,0 a2.1,2.1 0 1,0 4.2,0 M285.8,380.1 a2.1,2.1 0 1,0 -4.2,0 a2.1,2.1 0 1,0 4.2,0 M291.6,357.4 a2.1,2.1 0 1,0 -4.2,0 a2.1,2.1 0 1,0 4.2,0 M297.4,339.6 a2.1,2.1 0 1,0 -4.2,0 a2.1,2.1 0 1,0 4.2,0 M303.2,327.1 a2.1,2.1 0 1,0 -4.2,0 a2.1,2.1 0 1,0 4.2,0 M309.0,321.5 a2.1,2.1 0 1,0 -4.2,0 a2.1,2.1 0 1,0 4.2,0 M314.8,315.2 a2.1,2.1 0 1,0 -4.2,0 a2.1,2.1 0 1,0 4.2,0 M320.6,311.1 a2.1,2.1 0 1,0 -4.2,0 a2.1,2.1 0 1,0 4.2,0 M326.4,309.2 a2.1,2.1 0 1,0 -4.2,0 a2.1,2.1 0 1,0 4.2,0 M332.2,307.8 a2.1,2.1 0 1,0 -4.2,0 a2.1,2.1 0 1,0 4.2,0 M338.0,306.1 a2.1,2.1 0 1,0 -4.2,0 a2.1,2.1 0 1,0 4.2,0 M343.8,304.8 a2.1,2.1 0 1,0 -4.2,0 a2.1,2.1 0 1,0 4.2,0 M349.6,303.5 a2.1,2.1 0 1,0 -4.2,0 a2.1,2.1 0 1,0 4.2,0 M355.4,302.3 a2.1,2.1 0 1,0 -4.2,0 a2.1,2.1 0 1,0 4.2,0 M361.2,301.9 a2.1,2.1 0 1,0 -4.2,0 a2.1,2.1 0 1,0 4.2,0 M367.0,301.5 a2.1,2.1 0 1,0 -4.2,0 a2.1,2.1 0 1,0 4.2,0 M372.8,301.3 a2.1,2.1 0 1,0 -4.2,0 a2.1,2.1 0 1,0 4.2,0 M378.6,301.3 a2.1,2.1 0 1,0 -4.2,0 a2.1,2.1 0 1,0 4.2,0 M384.4,301.3 a2.1,2.1 0 1,0 -4.2,0 a2.1,2.1 0 1,0 4.2,0 " fill="none" stroke="#FBC10F" stroke-width="0.75"/>
<path d="M266.3,438.3 L272.1,431.8 L277.9,406.6 L283.7,392.9 L289.5,381.9 L295.3,372.3 L301.1,358.7 L306.9,344.1 L312.7,332.5 L318.5,325.7 L324.3,319.0 L330.1,313.0 L335.9,311.1 L341.7,308.0 L347.5,305.2 L353.3,303.4 L359.1,302.2 L364.9,301.7 L370.7,301.5 L376.5,301.3 L382.3,301.3 L388.1,301.3" fill="none" stroke="#F9A717" stroke-width="0.75"/>
<path d="M268.4,438.3 a2.1,2.1 0 1,0 -4.2,0 a2.1,2.1 0 1,0 4.2,0 M274.2,431.8 a2.1,2.1 0 1,0 -4.2,0 a2.1,2.1 0 1,0 4.2,0 M280.0,406.6 a2.1,2.1 0 1,0 -4.2,0 a2.1,2.1 0 1,0 4.2,0 M285.8,392.9 a2.1,2.1 0 1,0 -4.2,0 a2.1,2.1 0 1,0 4.2,0 M291.6,381.9 a2.1,2.1 0 1,0 -4.2,0 a2.1,2.1 0 1,0 4.2,0 M297.4,372.3 a2.1,2.1 0 1,0 -4.2,0 a2.1,2.1 0 1,0 4.2,0 M303.2,358.7 a2.1,2.1 0 1,0 -4.2,0 a2.1,2.1 0 1,0 4.2,0 M309.0,344.1 a2.1,2.1 0 1,0 -4.2,0 a2.1,2.1 0 1,0 4.2,0 M314.8,332.5 a2.1,2.1 0 1,0 -4.2,0 a2.1,2.1 0 1,0 4.2,0 M320.6,325.7 a2.1,2.1 0 1,0 -4.2,0 a2.1,2.1 0 1,0 4.2,0 M326.4,319.0 a2.1,2.1 0 1,0 -4.2,0 a2.1,2.1 0 1,0 4.2,0 M332.2,313.0 a2.1,2.1 0 1,0 -4.2,0 a2.1,2.1 0 1,0 4.2,0 M338.0,311.1 a2.1,2.1 0 1,0 -4.2,0 a2.1,2.1 0 1,0 4.2,0 M343.8,308.0 a2.1,2.1 0 1,0 -4.2,0 a2.1,2.1 0 1,0 4.2,0 M349.6,305.2 a2.1,2.1 0 1,0 -4.2,0 a2.1,2.1 0 1,0 4.2,0 M355.4,303.4 a2.1,2.1 0 1,0 -4.2,0 a2.1,2.1 0 1,0 4.2,0 M361.2,302.2 a2.1,2.1 0 1,0 -4.2,0 a2.1,2.1 0 1,0 4.2,0 M367.0,301.7 a2.1,2.1 0 1,0 -4.2,0 a2.1,2.1 0 1,0 4.2,0 M372.8,301.5 a2.1,2.1 0 1,0 -4.2,0 a2.1,2.1 0 1,0 4.2,0 M378.6,301.3 a2.1,2.1 0 1,0 -4.2,0 a2.1,2.1 0 1,0 4.2,0 M384.4,301.3 a2.1,2.1 0 1,0 -4.2,0 a2.1,2.1 0 1,0 4.2,0 M390.2,301.3 a2.1,2.1 0 1,0 -4.2,0 a2.1,2.1 0 1,0 4.2,0 " fill="none" stroke="#F9A717" stroke-width="0.75"/>
<path d="M266.3,441.0 L272.1,435.5 L277.9,415.7 L283.7,397.8 L289.5,380.0 L295.3,362.2 L301.1,347.3 L306.9,340.8 L312.7,336.0 L318.5,331.9 L324.3,323.9 L330.1,317.6 L335.9,315.2 L341.7,310.9 L347.5,307.1 L353.3,304.7 L359.1,303.5 L364.9,302.4 L370.7,301.9 L376.5,301.7 L382.3,301.4 L388.1,301.3 L393.9,301.3" fill="none" stroke="#F68C1D" stroke-width="0.75"/>
<path d="M268.4,441.0 a2.1,2.1 0 1,0 -4.2,0 a2.1,2.1 0 1,0 4.2,0 M274.2,435.5 a2.1,2.1 0 1,0 -4.2,0 a2.1,2.1 0 1,0 4.2,0 M280.0,415.7 a2.1,2.1 0 1,0 -4.2,0 a2.1,2.1 0 1,0 4.2,0 M285.8,397.8 a2.1,2.1 0 1,0 -4.2,0 a2.1,2.1 0 1,0 4.2,0 M291.6,380.0 a2.1,2.1 0 1,0 -4.2,0 a2.1,2.1 0 1,0 4.2,0 M297.4,362.2 a2.1,2.1 0 1,0 -4.2,0 a2.1,2.1 0 1,0 4.2,0 M303.2,347.3 a2.1,2.1 0 1,0 -4.2,0 a2.1,2.1 0 1,0 4.2,0 M309.0,340.8 a2.1,2.1 0 1,0 -4.2,0 a2.1,2.1 0 1,0 4.2,0 M314.8,336.0 a2.1,2.1 0 1,0 -4.2,0 a2.1,2.1 0 1,0 4.2,0 M320.6,331.9 a2.1,2.1 0 1,0 -4.2,0 a2.1,2.1 0 1,0 4.2,0 M326.4,323.9 a2.1,2.1 0 1,0 -4.2,0 a2.1,2.1 0 1,0 4.2,0 M332.2,317.6 a2.1,2.1 0 1,0 -4.2,0 a2.1,2.1 0 1,0 4.2,0 M338.0,315.2 a2.1,2.1 0 1,0 -4.2,0 a2.1,2.1 0 1,0 4.2,0 M343.8,310.9 a2.1,2.1 0 1,0 -4.2,0 a2.1,2.1 0 1,0 4.2,0 M349.6,307.1 a2.1,2.1 0 1,0 -4.2,0 a2.1,2.1 0 1,0 4.2,0 M355.4,304.7 a2.1,2.1 0 1,0 -4.2,0 a2.1,2.1 0 1,0 4.2,0 M361.2,303.5 a2.1,2.1 0 1,0 -4.2,0 a2.1,2.1 0 1,0 4.2,0 M367.0,302.4 a2.1,2.1 0 1,0 -4.2,0 a2.1,2.1 0 1,0 4.2,0 M372.8,301.9 a2.1,2.1 0 1,0 -4.2,0 a2.1,2.1 0 1,0 4.2,0 M378.6,301.7 a2.1,2.1 0 1,0 -4.2,0 a2.1,2.1 0 1,0 4.2,0 M384.4,301.4 a2.1,2.1 0 1,0 -4.2,0 a2.1,2.1 0 1,0 4.2,0 M390.2,301.3 a2.1,2.1 0 1,0 -4.2,0 a2.1,2.1 0 1,0 4.2,0 M396.0,301.3 a2.1,2.1 0 1,0 -4.2,0 a2.1,2.1 0 1,0 4.2,0 " fill="none" stroke="#F68C1D" stroke-width="0.75"/>
<path d="M266.3,443.7 L272.1,438.3 L277.9,418.5 L283.7,400.7 L289.5,382.8 L295.3,365.0 L301.1,351.6 L306.9,342.6 L312.7,335.5 L318.5,330.2 L324.3,323.6 L330.1,319.8 L335.9,315.8 L341.7,313.7 L347.5,309.4 L353.3,307.4 L359.1,305.7 L364.9,304.2 L370.7,302.8 L376.5,302.2 L382.3,301.6 L388.1,301.4 L393.9,301.3 L399.7,301.3" fill="none" stroke="#F46B1F" stroke-width="0.75"/>
<path d="M268.4,443.7 a2.1,2.1 0 1,0 -4.2,0 a2.1,2.1 0 1,0 4.2,0 M274.2,438.3 a2.1,2.1 0 1,0 -4.2,0 a2.1,2.1 0 1,0 4.2,0 M280.0,418.5 a2.1,2.1 0 1,0 -4.2,0 a2.1,2.1 0 1,0 4.2,0 M285.8,400.7 a2.1,2.1 0 1,0 -4.2,0 a2.1,2.1 0 1,0 4.2,0 M291.6,382.8 a2.1,2.1 0 1,0 -4.2,0 a2.1,2.1 0 1,0 4.2,0 M297.4,365.0 a2.1,2.1 0 1,0 -4.2,0 a2.1,2.1 0 1,0 4.2,0 M303.2,351.6 a2.1,2.1 0 1,0 -4.2,0 a2.1,2.1 0 1,0 4.2,0 M309.0,342.6 a2.1,2.1 0 1,0 -4.2,0 a2.1,2.1 0 1,0 4.2,0 M314.8,335.5 a2.1,2.1 0 1,0 -4.2,0 a2.1,2.1 0 1,0 4.2,0 M320.6,330.2 a2.1,2.1 0 1,0 -4.2,0 a2.1,2.1 0 1,0 4.2,0 M326.4,323.6 a2.1,2.1 0 1,0 -4.2,0 a2.1,2.1 0 1,0 4.2,0 M332.2,319.8 a2.1,2.1 0 1,0 -4.2,0 a2.1,2.1 0 1,0 4.2,0 M338.0,315.8 a2.1,2.1 0 1,0 -4.2,0 a2.1,2.1 0 1,0 4.2,0 M343.8,313.7 a2.1,2.1 0 1,0 -4.2,0 a2.1,2.1 0 1,0 4.2,0 M349.6,309.4 a2.1,2.1 0 1,0 -4.2,0 a2.1,2.1 0 1,0 4.2,0 M355.4,307.4 a2.1,2.1 0 1,0 -4.2,0 a2.1,2.1 0 1,0 4.2,0 M361.2,305.7 a2.1,2.1 0 1,0 -4.2,0 a2.1,2.1 0 1,0 4.2,0 M367.0,304.2 a2.1,2.1 0 1,0 -4.2,0 a2.1,2.1 0 1,0 4.2,0 M372.8,302.8 a2.1,2.1 0 1,0 -4.2,0 a2.1,2.1 0 1,0 4.2,0 M378.6,302.2 a2.1,2.1 0 1,0 -4.2,0 a2.1,2.1 0 1,0 4.2,0 M384.4,301.6 a2.1,2.1 0 1,0 -4.2,0 a2.1,2.1 0 1,0 4.2,0 M390.2,301.4 a2.1,2.1 0 1,0 -4.2,0 a2.1,2.1 0 1,0 4.2,0 M396.0,301.3 a2.1,2.1 0 1,0 -4.2,0 a2.1,2.1 0 1,0 4.2,0 M401.8,301.3 a2.1,2.1 0 1,0 -4.2,0 a2.1,2.1 0 1,0 4.2,0 " fill="none" stroke="#F46B1F" stroke-width="0.75"/>
<path d="M266.3,445.5 L272.1,440.8 L277.9,426.3 L283.7,411.1 L289.5,401.3 L295.3,395.1 L301.1,378.3 L306.9,371.0 L312.7,360.9 L318.5,349.3 L324.3,340.4 L330.1,334.5 L335.9,327.9 L341.7,321.9 L347.5,315.6 L353.3,313.3 L359.1,309.7 L364.9,307.8 L370.7,306.2 L376.5,304.1 L382.3,302.9 L388.1,302.1 L393.9,301.6 L399.7,301.3 L405.5,301.3" fill="none" stroke="#F14A21" stroke-width="0.75"/>
<path d="M268.4,445.5 a2.1,2.1 0 1,0 -4.2,0 a2.1,2.1 0 1,0 4.2,0 M274.2,440.8 a2.1,2.1 0 1,0 -4.2,0 a2.1,2.1 0 1,0 4.2,0 M280.0,426.3 a2.1,2.1 0 1,0 -4.2,0 a2.1,2.1 0 1,0 4.2,0 M285.8,411.1 a2.1,2.1 0 1,0 -4.2,0 a2.1,2.1 0 1,0 4.2,0 M291.6,401.3 a2.1,2.1 0 1,0 -4.2,0 a2.1,2.1 0 1,0 4.2,0 M297.4,395.1 a2.1,2.1 0 1,0 -4.2,0 a2.1,2.1 0 1,0 4.2,0 M303.2,378.3 a2.1,2.1 0 1,0 -4.2,0 a2.1,2.1 0 1,0 4.2,0 M309.0,371.0 a2.1,2.1 0 1,0 -4.2,0 a2.1,2.1 0 1,0 4.2,0 M314.8,360.9 a2.1,2.1 0 1,0 -4.2,0 a2.1,2.1 0 1,0 4.2,0 M320.6,349.3 a2.1,2.1 0 1,0 -4.2,0 a2.1,2.1 0 1,0 4.2,0 M326.4,340.4 a2.1,2.1 0 1,0 -4.2,0 a2.1,2.1 0 1,0 4.2,0 M332.2,334.5 a2.1,2.1 0 1,0 -4.2,0 a2.1,2.1 0 1,0 4.2,0 M338.0,327.9 a2.1,2.1 0 1,0 -4.2,0 a2.1,2.1 0 1,0 4.2,0 M343.8,321.9 a2.1,2.1 0 1,0 -4.2,0 a2.1,2.1 0 1,0 4.2,0 M349.6,315.6 a2.1,2.1 0 1,0 -4.2,0 a2.1,2.1 0 1,0 4.2,0 M355.4,313.3 a2.1,2.1 0 1,0 -4.2,0 a2.1,2.1 0 1,0 4.2,0 M361.2,309.7 a2.1,2.1 0 1,0 -4.2,0 a2.1,2.1 0 1,0 4.2,0 M367.0,307.8 a2.1,2.1 0 1,0 -4.2,0 a2.1,2.1 0 1,0 4.2,0 M372.8,306.2 a2.1,2.1 0 1,0 -4.2,0 a2.1,2.1 0 1,0 4.2,0 M378.6,304.1 a2.1,2.1 0 1,0 -4.2,0 a2.1,2.1 0 1,0 4.2,0 M384.4,302.9 a2.1,2.1 0 1,0 -4.2,0 a2.1,2.1 0 1,0 4.2,0 M390.2,302.1 a2.1,2.1 0 1,0 -4.2,0 a2.1,2.1 0 1,0 4.2,0 M396.0,301.6 a2.1,2.1 0 1,0 -4.2,0 a2.1,2.1 0 1,0 4.2,0 M401.8,301.3 a2.1,2.1 0 1,0 -4.2,0 a2.1,2.1 0 1,0 4.2,0 M407.6,301.3 a2.1,2.1 0 1,0 -4.2,0 a2.1,2.1 0 1,0 4.2,0 " fill="none" stroke="#F14A21" stroke-width="0.75"/>
<path d="M266.3,447.3 L272.1,443.0 L277.9,423.2 L283.7,409.5 L289.5,397.9 L295.3,385.6 L301.1,376.8 L306.9,368.0 L312.7,360.4 L318.5,349.9 L324.3,342.0 L330.1,333.7 L335.9,325.9 L341.7,322.5 L347.5,318.1 L353.3,312.7 L359.1,308.4 L364.9,306.9 L370.7,305.6 L376.5,303.9 L382.3,303.2 L388.1,302.5 L393.9,302.1 L399.7,301.6 L405.5,301.4 L411.3,301.3" fill="none" stroke="#EE2823" stroke-width="0.75"/>
<path d="M268.4,447.3 a2.1,2.1 0 1,0 -4.2,0 a2.1,2.1 0 1,0 4.2,0 M274.2,443.0 a2.1,2.1 0 1,0 -4.2,0 a2.1,2.1 0 1,0 4.2,0 M280.0,423.2 a2.1,2.1 0 1,0 -4.2,0 a2.1,2.1 0 1,0 4.2,0 M285.8,409.5 a2.1,2.1 0 1,0 -4.2,0 a2.1,2.1 0 1,0 4.2,0 M291.6,397.9 a2.1,2.1 0 1,0 -4.2,0 a2.1,2.1 0 1,0 4.2,0 M297.4,385.6 a2.1,2.1 0 1,0 -4.2,0 a2.1,2.1 0 1,0 4.2,0 M303.2,376.8 a2.1,2.1 0 1,0 -4.2,0 a2.1,2.1 0 1,0 4.2,0 M309.0,368.0 a2.1,2.1 0 1,0 -4.2,0 a2.1,2.1 0 1,0 4.2,0 M314.8,360.4 a2.1,2.1 0 1,0 -4.2,0 a2.1,2.1 0 1,0 4.2,0 M320.6,349.9 a2.1,2.1 0 1,0 -4.2,0 a2.1,2.1 0 1,0 4.2,0 M326.4,342.0 a2.1,2.1 0 1,0 -4.2,0 a2.1,2.1 0 1,0 4.2,0 M332.2,333.7 a2.1,2.1 0 1,0 -4.2,0 a2.1,2.1 0 1,0 4.2,0 M338.0,325.9 a2.1,2.1 0 1,0 -4.2,0 a2.1,2.1 0 1,0 4.2,0 M343.8,322.5 a2.1,2.1 0 1,0 -4.2,0 a2.1,2.1 0 1,0 4.2,0 M349.6,318.1 a2.1,2.1 0 1,0 -4.2,0 a2.1,2.1 0 1,0 4.2,0 M355.4,312.7 a2.1,2.1 0 1,0 -4.2,0 a2.1,2.1 0 1,0 4.2,0 M361.2,308.4 a2.1,2.1 0 1,0 -4.2,0 a2.1,2.1 0 1,0 4.2,0 M367.0,306.9 a2.1,2.1 0 1,0 -4.2,0 a2.1,2.1 0 1,0 4.2,0 M372.8,305.6 a2.1,2.1 0 1,0 -4.2,0 a2.1,2.1 0 1,0 4.2,0 M378.6,303.9 a2.1,2.1 0 1,0 -4.2,0 a2.1,2.1 0 1,0 4.2,0 M384.4,303.2 a2.1,2.1 0 1,0 -4.2,0 a2.1,2.1 0 1,0 4.2,0 M390.2,302.5 a2.1,2.1 0 1,0 -4.2,0 a2.1,2.1 0 1,0 4.2,0 M396.0,302.1 a2.1,2.1 0 1,0 -4.2,0 a2.1,2.1 0 1,0 4.2,0 M401.8,301.6 a2.1,2.1 0 1,0 -4.2,0 a2.1,2.1 0 1,0 4.2,0 M407.6,301.4 a2.1,2.1 0 1,0 -4.2,0 a2.1,2.1 0 1,0 4.2,0 M413.4,301.3 a2.1,2.1 0 1,0 -4.2,0 a2.1,2.1 0 1,0 4.2,0 " fill="none" stroke="#EE2823" stroke-width="0.75"/>
<path d="M266.3,448.2 L272.1,443.9 L277.9,429.6 L283.7,414.4 L289.5,400.9 L295.3,394.4 L301.1,380.4 L306.9,366.5 L312.7,360.7 L318.5,349.2 L324.3,343.0 L330.1,336.8 L335.9,328.0 L341.7,321.1 L347.5,318.3 L353.3,314.7 L359.1,311.2 L364.9,308.8 L370.7,307.2 L376.5,305.6 L382.3,303.7 L388.1,303.1 L393.9,302.2 L399.7,301.6 L405.5,301.5 L411.3,301.3 L417.1,301.3" fill="none" stroke="#DF1D23" stroke-width="0.75"/>
<path d="M268.4,448.2 a2.1,2.1 0 1,0 -4.2,0 a2.1,2.1 0 1,0 4.2,0 M274.2,443.9 a2.1,2.1 0 1,0 -4.2,0 a2.1,2.1 0 1,0 4.2,0 M280.0,429.6 a2.1,2.1 0 1,0 -4.2,0 a2.1,2.1 0 1,0 4.2,0 M285.8,414.4 a2.1,2.1 0 1,0 -4.2,0 a2.1,2.1 0 1,0 4.2,0 M291.6,400.9 a2.1,2.1 0 1,0 -4.2,0 a2.1,2.1 0 1,0 4.2,0 M297.4,394.4 a2.1,2.1 0 1,0 -4.2,0 a2.1,2.1 0 1,0 4.2,0 M303.2,380.4 a2.1,2.1 0 1,0 -4.2,0 a2.1,2.1 0 1,0 4.2,0 M309.0,366.5 a2.1,2.1 0 1,0 -4.2,0 a2.1,2.1 0 1,0 4.2,0 M314.8,360.7 a2.1,2.1 0 1,0 -4.2,0 a2.1,2.1 0 1,0 4.2,0 M320.6,349.2 a2.1,2.1 0 1,0 -4.2,0 a2.1,2.1 0 1,0 4.2,0 M326.4,343.0 a2.1,2.1 0 1,0 -4.2,0 a2.1,2.1 0 1,0 4.2,0 M332.2,336.8 a2.1,2.1 0 1,0 -4.2,0 a2.1,2.1 0 1,0 4.2,0 M338.0,328.0 a2.1,2.1 0 1,0 -4.2,0 a2.1,2.1 0 1,0 4.2,0 M343.8,321.1 a2.1,2.1 0 1,0 -4.2,0 a2.1,2.1 0 1,0 4.2,0 M349.6,318.3 a2.1,2.1 0 1,0 -4.2,0 a2.1,2.1 0 1,0 4.2,0 M355.4,314.7 a2.1,2.1 0 1,0 -4.2,0 a2.1,2.1 0 1,0 4.2,0 M361.2,311.2 a2.1,2.1 0 1,0 -4.2,0 a2.1,2.1 0 1,0 4.2,0 M367.0,308.8 a2.1,2.1 0 1,0 -4.2,0 a2.1,2.1 0 1,0 4.2,0 M372.8,307.2 a2.1,2.1 0 1,0 -4.2,0 a2.1,2.1 0 1,0 4.2,0 M378.6,305.6 a2.1,2.1 0 1,0 -4.2,0 a2.1,2.1 0 1,0 4.2,0 M384.4,303.7 a2.1,2.1 0 1,0 -4.2,0 a2.1,2.1 0 1,0 4.2,0 M390.2,303.1 a2.1,2.1 0 1,0 -4.2,0 a2.1,2.1 0 1,0 4.2,0 M396.0,302.2 a2.1,2.1 0 1,0 -4.2,0 a2.1,2.1 0 1,0 4.2,0 M401.8,301.6 a2.1,2.1 0 1,0 -4.2,0 a2.1,2.1 0 1,0 4.2,0 M407.6,301.5 a2.1,2.1 0 1,0 -4.2,0 a2.1,2.1 0 1,0 4.2,0 M413.4,301.3 a2.1,2.1 0 1,0 -4.2,0 a2.1,2.1 0 1,0 4.2,0 M419.2,301.3 a2.1,2.1 0 1,0 -4.2,0 a2.1,2.1 0 1,0 4.2,0 " fill="none" stroke="#DF1D23" stroke-width="0.75"/>
<path d="M266.3,450.0 L272.1,446.3 L277.9,426.4 L283.7,419.9 L289.5,403.2 L295.3,389.8 L301.1,375.3 L306.9,370.2 L312.7,364.0 L318.5,360.1 L324.3,350.6 L330.1,345.5 L335.9,341.8 L341.7,336.6 L347.5,329.0 L353.3,322.7 L359.1,319.6 L364.9,308.4 L370.7,306.5 L376.5,305.2 L382.3,304.1 L388.1,303.6 L393.9,303.3 L399.7,302.7 L405.5,302.1 L411.3,301.8 L417.1,301.4 L422.9,301.3" fill="none" stroke="#CA1D23" stroke-width="0.75"/>
<path d="M268.4,450.0 a2.1,2.1 0 1,0 -4.2,0 a2.1,2.1 0 1,0 4.2,0 M274.2,446.3 a2.1,2.1 0 1,0 -4.2,0 a2.1,2.1 0 1,0 4.2,0 M280.0,426.4 a2.1,2.1 0 1,0 -4.2,0 a2.1,2.1 0 1,0 4.2,0 M285.8,419.9 a2.1,2.1 0 1,0 -4.2,0 a2.1,2.1 0 1,0 4.2,0 M291.6,403.2 a2.1,2.1 0 1,0 -4.2,0 a2.1,2.1 0 1,0 4.2,0 M297.4,389.8 a2.1,2.1 0 1,0 -4.2,0 a2.1,2.1 0 1,0 4.2,0 M303.2,375.3 a2.1,2.1 0 1,0 -4.2,0 a2.1,2.1 0 1,0 4.2,0 M309.0,370.2 a2.1,2.1 0 1,0 -4.2,0 a2.1,2.1 0 1,0 4.2,0 M314.8,364.0 a2.1,2.1 0 1,0 -4.2,0 a2.1,2.1 0 1,0 4.2,0 M320.6,360.1 a2.1,2.1 0 1,0 -4.2,0 a2.1,2.1 0 1,0 4.2,0 M326.4,350.6 a2.1,2.1 0 1,0 -4.2,0 a2.1,2.1 0 1,0 4.2,0 M332.2,345.5 a2.1,2.1 0 1,0 -4.2,0 a2.1,2.1 0 1,0 4.2,0 M338.0,341.8 a2.1,2.1 0 1,0 -4.2,0 a2.1,2.1 0 1,0 4.2,0 M343.8,336.6 a2.1,2.1 0 1,0 -4.2,0 a2.1,2.1 0 1,0 4.2,0 M349.6,329.0 a2.1,2.1 0 1,0 -4.2,0 a2.1,2.1 0 1,0 4.2,0 M355.4,322.7 a2.1,2.1 0 1,0 -4.2,0 a2.1,2.1 0 1,0 4.2,0 M361.2,319.6 a2.1,2.1 0 1,0 -4.2,0 a2.1,2.1 0 1,0 4.2,0 M367.0,308.4 a2.1,2.1 0 1,0 -4.2,0 a2.1,2.1 0 1,0 4.2,0 M372.8,306.5 a2.1,2.1 0 1,0 -4.2,0 a2.1,2.1 0 1,0 4.2,0 M378.6,305.2 a2.1,2.1 0 1,0 -4.2,0 a2.1,2.1 0 1,0 4.2,0 M384.4,304.1 a2.1,2.1 0 1,0 -4.2,0 a2.1,2.1 0 1,0 4.2,0 M390.2,303.6 a2.1,2.1 0 1,0 -4.2,0 a2.1,2.1 0 1,0 4.2,0 M396.0,303.3 a2.1,2.1 0 1,0 -4.2,0 a2.1,2.1 0 1,0 4.2,0 M401.8,302.7 a2.1,2.1 0 1,0 -4.2,0 a2.1,2.1 0 1,0 4.2,0 M407.6,302.1 a2.1,2.1 0 1,0 -4.2,0 a2.1,2.1 0 1,0 4.2,0 M413.4,301.8 a2.1,2.1 0 1,0 -4.2,0 a2.1,2.1 0 1,0 4.2,0 M419.2,301.4 a2.1,2.1 0 1,0 -4.2,0 a2.1,2.1 0 1,0 4.2,0 M425.0,301.3 a2.1,2.1 0 1,0 -4.2,0 a2.1,2.1 0 1,0 4.2,0 " fill="none" stroke="#CA1D23" stroke-width="0.75"/>
<path d="M266.3,450.9 L272.1,447.1 L277.9,427.3 L283.7,415.5 L289.5,397.8 L295.3,391.4 L301.1,377.2 L306.9,368.3 L312.7,361.1 L318.5,352.5 L324.3,341.4 L330.1,336.2 L335.9,332.4 L341.7,326.3 L347.5,322.5 L353.3,319.8 L359.1,317.0 L364.9,315.1 L370.7,312.8 L376.5,310.4 L382.3,308.4 L388.1,305.7 L393.9,304.4 L399.7,303.0 L405.5,302.3 L411.3,301.7 L417.1,301.5 L422.9,301.3 L428.7,301.3" fill="none" stroke="#B41E22" stroke-width="0.75"/>
<path d="M268.4,450.9 a2.1,2.1 0 1,0 -4.2,0 a2.1,2.1 0 1,0 4.2,0 M274.2,447.1 a2.1,2.1 0 1,0 -4.2,0 a2.1,2.1 0 1,0 4.2,0 M280.0,427.3 a2.1,2.1 0 1,0 -4.2,0 a2.1,2.1 0 1,0 4.2,0 M285.8,415.5 a2.1,2.1 0 1,0 -4.2,0 a2.1,2.1 0 1,0 4.2,0 M291.6,397.8 a2.1,2.1 0 1,0 -4.2,0 a2.1,2.1 0 1,0 4.2,0 M297.4,391.4 a2.1,2.1 0 1,0 -4.2,0 a2.1,2.1 0 1,0 4.2,0 M303.2,377.2 a2.1,2.1 0 1,0 -4.2,0 a2.1,2.1 0 1,0 4.2,0 M309.0,368.3 a2.1,2.1 0 1,0 -4.2,0 a2.1,2.1 0 1,0 4.2,0 M314.8,361.1 a2.1,2.1 0 1,0 -4.2,0 a2.1,2.1 0 1,0 4.2,0 M320.6,352.5 a2.1,2.1 0 1,0 -4.2,0 a2.1,2.1 0 1,0 4.2,0 M326.4,341.4 a2.1,2.1 0 1,0 -4.2,0 a2.1,2.1 0 1,0 4.2,0 M332.2,336.2 a2.1,2.1 0 1,0 -4.2,0 a2.1,2.1 0 1,0 4.2,0 M338.0,332.4 a2.1,2.1 0 1,0 -4.2,0 a2.1,2.1 0 1,0 4.2,0 M343.8,326.3 a2.1,2.1 0 1,0 -4.2,0 a2.1,2.1 0 1,0 4.2,0 M349.6,322.5 a2.1,2.1 0 1,0 -4.2,0 a2.1,2.1 0 1,0 4.2,0 M355.4,319.8 a2.1,2.1 0 1,0 -4.2,0 a2.1,2.1 0 1,0 4.2,0 M361.2,317.0 a2.1,2.1 0 1,0 -4.2,0 a2.1,2.1 0 1,0 4.2,0 M367.0,315.1 a2.1,2.1 0 1,0 -4.2,0 a2.1,2.1 0 1,0 4.2,0 M372.8,312.8 a2.1,2.1 0 1,0 -4.2,0 a2.1,2.1 0 1,0 4.2,0 M378.6,310.4 a2.1,2.1 0 1,0 -4.2,0 a2.1,2.1 0 1,0 4.2,0 M384.4,308.4 a2.1,2.1 0 1,0 -4.2,0 a2.1,2.1 0 1,0 4.2,0 M390.2,305.7 a2.1,2.1 0 1,0 -4.2,0 a2.1,2.1 0 1,0 4.2,0 M396.0,304.4 a2.1,2.1 0 1,0 -4.2,0 a2.1,2.1 0 1,0 4.2,0 M401.8,303.0 a2.1,2.1 0 1,0 -4.2,0 a2.1,2.1 0 1,0 4.2,0 M407.6,302.3 a2.1,2.1 0 1,0 -4.2,0 a2.1,2.1 0 1,0 4.2,0 M413.4,301.7 a2.1,2.1 0 1,0 -4.2,0 a2.1,2.1 0 1,0 4.2,0 M419.2,301.5 a2.1,2.1 0 1,0 -4.2,0 a2.1,2.1 0 1,0 4.2,0 M425.0,301.3 a2.1,2.1 0 1,0 -4.2,0 a2.1,2.1 0 1,0 4.2,0 M430.8,301.3 a2.1,2.1 0 1,0 -4.2,0 a2.1,2.1 0 1,0 4.2,0 " fill="none" stroke="#B41E22" stroke-width="0.75"/>
<path d="M266.3,451.8 L272.1,448.4 L277.9,428.6 L283.7,417.0 L289.5,410.4 L295.3,401.6 L301.1,389.2 L306.9,384.6 L312.7,374.4 L318.5,367.8 L324.3,361.2 L330.1,352.6 L335.9,347.4 L341.7,341.8 L347.5,335.7 L353.3,328.5 L359.1,324.9 L364.9,319.6 L370.7,315.2 L376.5,311.5 L382.3,309.0 L388.1,307.0 L393.9,305.9 L399.7,304.8 L405.5,304.0 L411.3,302.6 L417.1,301.9 L422.9,301.6 L428.7,301.4 L434.5,301.3" fill="none" stroke="#9E1F21" stroke-width="0.75"/>
<path d="M268.4,451.8 a2.1,2.1 0 1,0 -4.2,0 a2.1,2.1 0 1,0 4.2,0 M274.2,448.4 a2.1,2.1 0 1,0 -4.2,0 a2.1,2.1 0 1,0 4.2,0 M280.0,428.6 a2.1,2.1 0 1,0 -4.2,0 a2.1,2.1 0 1,0 4.2,0 M285.8,417.0 a2.1,2.1 0 1,0 -4.2,0 a2.1,2.1 0 1,0 4.2,0 M291.6,410.4 a2.1,2.1 0 1,0 -4.2,0 a2.1,2.1 0 1,0 4.2,0 M297.4,401.6 a2.1,2.1 0 1,0 -4.2,0 a2.1,2.1 0 1,0 4.2,0 M303.2,389.2 a2.1,2.1 0 1,0 -4.2,0 a2.1,2.1 0 1,0 4.2,0 M309.0,384.6 a2.1,2.1 0 1,0 -4.2,0 a2.1,2.1 0 1,0 4.2,0 M314.8,374.4 a2.1,2.1 0 1,0 -4.2,0 a2.1,2.1 0 1,0 4.2,0 M320.6,367.8 a2.1,2.1 0 1,0 -4.2,0 a2.1,2.1 0 1,0 4.2,0 M326.4,361.2 a2.1,2.1 0 1,0 -4.2,0 a2.1,2.1 0 1,0 4.2,0 M332.2,352.6 a2.1,2.1 0 1,0 -4.2,0 a2.1,2.1 0 1,0 4.2,0 M338.0,347.4 a2.1,2.1 0 1,0 -4.2,0 a2.1,2.1 0 1,0 4.2,0 M343.8,341.8 a2.1,2.1 0 1,0 -4.2,0 a2.1,2.1 0 1,0 4.2,0 M349.6,335.7 a2.1,2.1 0 1,0 -4.2,0 a2.1,2.1 0 1,0 4.2,0 M355.4,328.5 a2.1,2.1 0 1,0 -4.2,0 a2.1,2.1 0 1,0 4.2,0 M361.2,324.9 a2.1,2.1 0 1,0 -4.2,0 a2.1,2.1 0 1,0 4.2,0 M367.0,319.6 a2.1,2.1 0 1,0 -4.2,0 a2.1,2.1 0 1,0 4.2,0 M372.8,315.2 a2.1,2.1 0 1,0 -4.2,0 a2.1,2.1 0 1,0 4.2,0 M378.6,311.5 a2.1,2.1 0 1,0 -4.2,0 a2.1,2.1 0 1,0 4.2,0 M384.4,309.0 a2.1,2.1 0 1,0 -4.2,0 a2.1,2.1 0 1,0 4.2,0 M390.2,307.0 a2.1,2.1 0 1,0 -4.2,0 a2.1,2.1 0 1,0 4.2,0 M396.0,305.9 a2.1,2.1 0 1,0 -4.2,0 a2.1,2.1 0 1,0 4.2,0 M401.8,304.8 a2.1,2.1 0 1,0 -4.2,0 a2.1,2.1 0 1,0 4.2,0 M407.6,304.0 a2.1,2.1 0 1,0 -4.2,0 a2.1,2.1 0 1,0 4.2,0 M413.4,302.6 a2.1,2.1 0 1,0 -4.2,0 a2.1,2.1 0 1,0 4.2,0 M419.2,301.9 a2.1,2.1 0 1,0 -4.2,0 a2.1,2.1 0 1,0 4.2,0 M425.0,301.6 a2.1,2.1 0 1,0 -4.2,0 a2.1,2.1 0 1,0 4.2,0 M430.8,301.4 a2.1,2.1 0 1,0 -4.2,0 a2.1,2.1 0 1,0 4.2,0 M436.6,301.3 a2.1,2.1 0 1,0 -4.2,0 a2.1,2.1 0 1,0 4.2,0 " fill="none" stroke="#9E1F21" stroke-width="0.75"/>
<text transform="translate(562.50,331.50) scale(1.22,1)" x="-1.40" y="0" font-size="36" font-weight="bold" fill="#231F20" stroke="#231F20" stroke-width="1.3" stroke-linejoin="round">c</text>
<path d="M662.1,306.5 L662.1,486.5 L841.3,486.5" fill="none" stroke="#8C8C8C" stroke-width="1.2"/>
<path d="M662.1,426.5 h2.5 M662.1,366.5 h2.5 M662.1,306.5 h2.5 M777.5,486.5 v-2.5" stroke="#8C8C8C" stroke-width="1"/>
<text x="603.25" y="316.30" font-size="20" fill="#231F20" >0.15</text>
<text x="639.00" y="495.00" font-size="20" fill="#231F20" >0</text>
<text x="653.45" y="517.70" font-size="20" fill="#231F20" >0</text>
<text x="761.70" y="517.70" font-size="20" fill="#231F20" >20</text>
<text x="661.80" y="551.00" font-size="20" fill="#231F20" >time spent (s)</text>
<text transform="translate(562.00,440.60) rotate(-90)" x="-56.07" y="0" font-size="20.3" fill="#231F20">one-step diff</text>
<text transform="translate(585.00,446.20) rotate(-90)" x="-43.77" y="0" font-size="20.3" fill="#231F20">of p(earn)</text>
<text transform="translate(609.80,440.40) rotate(-90)" x="-56.80" y="0" font-size="20.3" fill="#231F20">in Wait Zone</text>
<path d="M672.5,474.5" fill="none" stroke="#484785" stroke-width="0.75"/>
<path d="M674.6,474.5 a2.1,2.1 0 1,0 -4.2,0 a2.1,2.1 0 1,0 4.2,0 " fill="none" stroke="#484785" stroke-width="0.75"/>
<path d="M672.5,476.1 L678.3,460.9" fill="none" stroke="#4A4A90" stroke-width="0.75"/>
<path d="M674.6,476.1 a2.1,2.1 0 1,0 -4.2,0 a2.1,2.1 0 1,0 4.2,0 M680.4,460.9 a2.1,2.1 0 1,0 -4.2,0 a2.1,2.1 0 1,0 4.2,0 " fill="none" stroke="#4A4A90" stroke-width="0.75"/>
<path d="M672.5,473.1 L678.3,446.7 L684.1,479.7" fill="none" stroke="#4C4E9B" stroke-width="0.75"/>
<path d="M674.6,473.1 a2.1,2.1 0 1,0 -4.2,0 a2.1,2.1 0 1,0 4.2,0 M680.4,446.7 a2.1,2.1 0 1,0 -4.2,0 a2.1,2.1 0 1,0 4.2,0 M686.2,479.7 a2.1,2.1 0 1,0 -4.2,0 a2.1,2.1 0 1,0 4.2,0 " fill="none" stroke="#4C4E9B" stroke-width="0.75"/>
<path d="M672.5,471.4 L678.3,441.2 L684.1,466.4 L689.9,483.0" fill="none" stroke="#4956A6" stroke-width="0.75"/>
<path d="M674.6,471.4 a2.1,2.1 0 1,0 -4.2,0 a2.1,2.1 0 1,0 4.2,0 M680.4,441.2 a2.1,2.1 0 1,0 -4.2,0 a2.1,2.1 0 1,0 4.2,0 M686.2,466.4 a2.1,2.1 0 1,0 -4.2,0 a2.1,2.1 0 1,0 4.2,0 M692.0,483.0 a2.1,2.1 0 1,0 -4.2,0 a2.1,2.1 0 1,0 4.2,0 " fill="none" stroke="#4956A6" stroke-width="0.75"/>
<path d="M672.5,468.5 L678.3,432.5 L684.1,450.5 L689.9,478.0 L695.7,482.9" fill="none" stroke="#3F65B0" stroke-width="0.75"/>
<path d="M674.6,468.5 a2.1,2.1 0 1,0 -4.2,0 a2.1,2.1 0 1,0 4.2,0 M680.4,432.5 a2.1,2.1 0 1,0 -4.2,0 a2.1,2.1 0 1,0 4.2,0 M686.2,450.5 a2.1,2.1 0 1,0 -4.2,0 a2.1,2.1 0 1,0 4.2,0 M692.0,478.0 a2.1,2.1 0 1,0 -4.2,0 a2.1,2.1 0 1,0 4.2,0 M697.8,482.9 a2.1,2.1 0 1,0 -4.2,0 a2.1,2.1 0 1,0 4.2,0 " fill="none" stroke="#3F65B0" stroke-width="0.75"/>
<path d="M672.5,466.5 L678.3,420.4 L684.1,461.3 L689.9,461.1 L695.7,468.8 L701.5,484.9" fill="none" stroke="#3474BA" stroke-width="0.75"/>
<path d="M674.6,466.5 a2.1,2.1 0 1,0 -4.2,0 a2.1,2.1 0 1,0 4.2,0 M680.4,420.4 a2.1,2.1 0 1,0 -4.2,0 a2.1,2.1 0 1,0 4.2,0 M686.2,461.3 a2.1,2.1 0 1,0 -4.2,0 a2.1,2.1 0 1,0 4.2,0 M692.0,461.1 a2.1,2.1 0 1,0 -4.2,0 a2.1,2.1 0 1,0 4.2,0 M697.8,468.8 a2.1,2.1 0 1,0 -4.2,0 a2.1,2.1 0 1,0 4.2,0 M703.6,484.9 a2.1,2.1 0 1,0 -4.2,0 a2.1,2.1 0 1,0 4.2,0 " fill="none" stroke="#3474BA" stroke-width="0.75"/>
<path d="M672.5,465.0 L678.3,422.3 L684.1,444.0 L689.9,448.3 L695.7,469.7 L701.5,480.1 L707.3,484.1" fill="none" stroke="#2983C4" stroke-width="0.75"/>
<path d="M674.6,465.0 a2.1,2.1 0 1,0 -4.2,0 a2.1,2.1 0 1,0 4.2,0 M680.4,422.3 a2.1,2.1 0 1,0 -4.2,0 a2.1,2.1 0 1,0 4.2,0 M686.2,444.0 a2.1,2.1 0 1,0 -4.2,0 a2.1,2.1 0 1,0 4.2,0 M692.0,448.3 a2.1,2.1 0 1,0 -4.2,0 a2.1,2.1 0 1,0 4.2,0 M697.8,469.7 a2.1,2.1 0 1,0 -4.2,0 a2.1,2.1 0 1,0 4.2,0 M703.6,480.1 a2.1,2.1 0 1,0 -4.2,0 a2.1,2.1 0 1,0 4.2,0 M709.4,484.1 a2.1,2.1 0 1,0 -4.2,0 a2.1,2.1 0 1,0 4.2,0 " fill="none" stroke="#2983C4" stroke-width="0.75"/>
<path d="M672.5,462.7 L678.3,419.8 L684.1,406.5 L689.9,453.9 L695.7,468.8 L701.5,476.3 L707.3,480.0 L713.1,484.1" fill="none" stroke="#2692CF" stroke-width="0.75"/>
<path d="M674.6,462.7 a2.1,2.1 0 1,0 -4.2,0 a2.1,2.1 0 1,0 4.2,0 M680.4,419.8 a2.1,2.1 0 1,0 -4.2,0 a2.1,2.1 0 1,0 4.2,0 M686.2,406.5 a2.1,2.1 0 1,0 -4.2,0 a2.1,2.1 0 1,0 4.2,0 M692.0,453.9 a2.1,2.1 0 1,0 -4.2,0 a2.1,2.1 0 1,0 4.2,0 M697.8,468.8 a2.1,2.1 0 1,0 -4.2,0 a2.1,2.1 0 1,0 4.2,0 M703.6,476.3 a2.1,2.1 0 1,0 -4.2,0 a2.1,2.1 0 1,0 4.2,0 M709.4,480.0 a2.1,2.1 0 1,0 -4.2,0 a2.1,2.1 0 1,0 4.2,0 M715.2,484.1 a2.1,2.1 0 1,0 -4.2,0 a2.1,2.1 0 1,0 4.2,0 " fill="none" stroke="#2692CF" stroke-width="0.75"/>
<path d="M672.5,460.8 L678.3,403.5 L684.1,423.4 L689.9,434.6 L695.7,457.8 L701.5,462.4 L707.3,479.3 L713.1,483.1 L718.9,485.6" fill="none" stroke="#26A0DB" stroke-width="0.75"/>
<path d="M674.6,460.8 a2.1,2.1 0 1,0 -4.2,0 a2.1,2.1 0 1,0 4.2,0 M680.4,403.5 a2.1,2.1 0 1,0 -4.2,0 a2.1,2.1 0 1,0 4.2,0 M686.2,423.4 a2.1,2.1 0 1,0 -4.2,0 a2.1,2.1 0 1,0 4.2,0 M692.0,434.6 a2.1,2.1 0 1,0 -4.2,0 a2.1,2.1 0 1,0 4.2,0 M697.8,457.8 a2.1,2.1 0 1,0 -4.2,0 a2.1,2.1 0 1,0 4.2,0 M703.6,462.4 a2.1,2.1 0 1,0 -4.2,0 a2.1,2.1 0 1,0 4.2,0 M709.4,479.3 a2.1,2.1 0 1,0 -4.2,0 a2.1,2.1 0 1,0 4.2,0 M715.2,483.1 a2.1,2.1 0 1,0 -4.2,0 a2.1,2.1 0 1,0 4.2,0 M721.0,485.6 a2.1,2.1 0 1,0 -4.2,0 a2.1,2.1 0 1,0 4.2,0 " fill="none" stroke="#26A0DB" stroke-width="0.75"/>
<path d="M672.5,456.5 L678.3,402.5 L684.1,410.9 L689.9,432.7 L695.7,444.5 L701.5,462.8 L707.3,474.5 L713.1,476.0 L718.9,482.6 L724.7,486.0" fill="none" stroke="#26AEE7" stroke-width="0.75"/>
<path d="M674.6,456.5 a2.1,2.1 0 1,0 -4.2,0 a2.1,2.1 0 1,0 4.2,0 M680.4,402.5 a2.1,2.1 0 1,0 -4.2,0 a2.1,2.1 0 1,0 4.2,0 M686.2,410.9 a2.1,2.1 0 1,0 -4.2,0 a2.1,2.1 0 1,0 4.2,0 M692.0,432.7 a2.1,2.1 0 1,0 -4.2,0 a2.1,2.1 0 1,0 4.2,0 M697.8,444.5 a2.1,2.1 0 1,0 -4.2,0 a2.1,2.1 0 1,0 4.2,0 M703.6,462.8 a2.1,2.1 0 1,0 -4.2,0 a2.1,2.1 0 1,0 4.2,0 M709.4,474.5 a2.1,2.1 0 1,0 -4.2,0 a2.1,2.1 0 1,0 4.2,0 M715.2,476.0 a2.1,2.1 0 1,0 -4.2,0 a2.1,2.1 0 1,0 4.2,0 M721.0,482.6 a2.1,2.1 0 1,0 -4.2,0 a2.1,2.1 0 1,0 4.2,0 M726.8,486.0 a2.1,2.1 0 1,0 -4.2,0 a2.1,2.1 0 1,0 4.2,0 " fill="none" stroke="#26AEE7" stroke-width="0.75"/>
<path d="M672.5,455.0 L678.3,357.0 L684.1,429.9 L689.9,424.4 L695.7,443.9 L701.5,467.2 L707.3,459.6 L713.1,480.0 L718.9,480.9 L724.7,483.3 L730.5,486.2" fill="none" stroke="#2ABBEE" stroke-width="0.75"/>
<path d="M674.6,455.0 a2.1,2.1 0 1,0 -4.2,0 a2.1,2.1 0 1,0 4.2,0 M680.4,357.0 a2.1,2.1 0 1,0 -4.2,0 a2.1,2.1 0 1,0 4.2,0 M686.2,429.9 a2.1,2.1 0 1,0 -4.2,0 a2.1,2.1 0 1,0 4.2,0 M692.0,424.4 a2.1,2.1 0 1,0 -4.2,0 a2.1,2.1 0 1,0 4.2,0 M697.8,443.9 a2.1,2.1 0 1,0 -4.2,0 a2.1,2.1 0 1,0 4.2,0 M703.6,467.2 a2.1,2.1 0 1,0 -4.2,0 a2.1,2.1 0 1,0 4.2,0 M709.4,459.6 a2.1,2.1 0 1,0 -4.2,0 a2.1,2.1 0 1,0 4.2,0 M715.2,480.0 a2.1,2.1 0 1,0 -4.2,0 a2.1,2.1 0 1,0 4.2,0 M721.0,480.9 a2.1,2.1 0 1,0 -4.2,0 a2.1,2.1 0 1,0 4.2,0 M726.8,483.3 a2.1,2.1 0 1,0 -4.2,0 a2.1,2.1 0 1,0 4.2,0 M732.6,486.2 a2.1,2.1 0 1,0 -4.2,0 a2.1,2.1 0 1,0 4.2,0 " fill="none" stroke="#2ABBEE" stroke-width="0.75"/>
<path d="M672.5,451.1 L678.3,342.5 L684.1,447.6 L689.9,415.5 L695.7,425.4 L701.5,447.1 L707.3,448.4 L713.1,471.6 L718.9,472.0 L724.7,479.3 L730.5,483.6 L736.3,486.1" fill="none" stroke="#4BC1D7" stroke-width="0.75"/>
<path d="M674.6,451.1 a2.1,2.1 0 1,0 -4.2,0 a2.1,2.1 0 1,0 4.2,0 M680.4,342.5 a2.1,2.1 0 1,0 -4.2,0 a2.1,2.1 0 1,0 4.2,0 M686.2,447.6 a2.1,2.1 0 1,0 -4.2,0 a2.1,2.1 0 1,0 4.2,0 M692.0,415.5 a2.1,2.1 0 1,0 -4.2,0 a2.1,2.1 0 1,0 4.2,0 M697.8,425.4 a2.1,2.1 0 1,0 -4.2,0 a2.1,2.1 0 1,0 4.2,0 M703.6,447.1 a2.1,2.1 0 1,0 -4.2,0 a2.1,2.1 0 1,0 4.2,0 M709.4,448.4 a2.1,2.1 0 1,0 -4.2,0 a2.1,2.1 0 1,0 4.2,0 M715.2,471.6 a2.1,2.1 0 1,0 -4.2,0 a2.1,2.1 0 1,0 4.2,0 M721.0,472.0 a2.1,2.1 0 1,0 -4.2,0 a2.1,2.1 0 1,0 4.2,0 M726.8,479.3 a2.1,2.1 0 1,0 -4.2,0 a2.1,2.1 0 1,0 4.2,0 M732.6,483.6 a2.1,2.1 0 1,0 -4.2,0 a2.1,2.1 0 1,0 4.2,0 M738.4,486.1 a2.1,2.1 0 1,0 -4.2,0 a2.1,2.1 0 1,0 4.2,0 " fill="none" stroke="#4BC1D7" stroke-width="0.75"/>
<path d="M672.5,450.2 L678.3,342.5 L684.1,374.6 L689.9,428.3 L695.7,433.3 L701.5,467.7 L707.3,454.0 L713.1,463.7 L718.9,465.5 L724.7,474.8 L730.5,482.9 L736.3,484.8 L742.1,486.1" fill="none" stroke="#6CC7C0" stroke-width="0.75"/>
<path d="M674.6,450.2 a2.1,2.1 0 1,0 -4.2,0 a2.1,2.1 0 1,0 4.2,0 M680.4,342.5 a2.1,2.1 0 1,0 -4.2,0 a2.1,2.1 0 1,0 4.2,0 M686.2,374.6 a2.1,2.1 0 1,0 -4.2,0 a2.1,2.1 0 1,0 4.2,0 M692.0,428.3 a2.1,2.1 0 1,0 -4.2,0 a2.1,2.1 0 1,0 4.2,0 M697.8,433.3 a2.1,2.1 0 1,0 -4.2,0 a2.1,2.1 0 1,0 4.2,0 M703.6,467.7 a2.1,2.1 0 1,0 -4.2,0 a2.1,2.1 0 1,0 4.2,0 M709.4,454.0 a2.1,2.1 0 1,0 -4.2,0 a2.1,2.1 0 1,0 4.2,0 M715.2,463.7 a2.1,2.1 0 1,0 -4.2,0 a2.1,2.1 0 1,0 4.2,0 M721.0,465.5 a2.1,2.1 0 1,0 -4.2,0 a2.1,2.1 0 1,0 4.2,0 M726.8,474.8 a2.1,2.1 0 1,0 -4.2,0 a2.1,2.1 0 1,0 4.2,0 M732.6,482.9 a2.1,2.1 0 1,0 -4.2,0 a2.1,2.1 0 1,0 4.2,0 M738.4,484.8 a2.1,2.1 0 1,0 -4.2,0 a2.1,2.1 0 1,0 4.2,0 M744.2,486.1 a2.1,2.1 0 1,0 -4.2,0 a2.1,2.1 0 1,0 4.2,0 " fill="none" stroke="#6CC7C0" stroke-width="0.75"/>
<path d="M672.5,443.1 L678.3,355.6 L684.1,362.3 L689.9,419.1 L695.7,437.2 L701.5,452.1 L707.3,420.8 L713.1,464.6 L718.9,468.0 L724.7,471.9 L730.5,473.1 L736.3,484.0 L742.1,485.0 L747.9,486.3" fill="none" stroke="#8DCDA9" stroke-width="0.75"/>
<path d="M674.6,443.1 a2.1,2.1 0 1,0 -4.2,0 a2.1,2.1 0 1,0 4.2,0 M680.4,355.6 a2.1,2.1 0 1,0 -4.2,0 a2.1,2.1 0 1,0 4.2,0 M686.2,362.3 a2.1,2.1 0 1,0 -4.2,0 a2.1,2.1 0 1,0 4.2,0 M692.0,419.1 a2.1,2.1 0 1,0 -4.2,0 a2.1,2.1 0 1,0 4.2,0 M697.8,437.2 a2.1,2.1 0 1,0 -4.2,0 a2.1,2.1 0 1,0 4.2,0 M703.6,452.1 a2.1,2.1 0 1,0 -4.2,0 a2.1,2.1 0 1,0 4.2,0 M709.4,420.8 a2.1,2.1 0 1,0 -4.2,0 a2.1,2.1 0 1,0 4.2,0 M715.2,464.6 a2.1,2.1 0 1,0 -4.2,0 a2.1,2.1 0 1,0 4.2,0 M721.0,468.0 a2.1,2.1 0 1,0 -4.2,0 a2.1,2.1 0 1,0 4.2,0 M726.8,471.9 a2.1,2.1 0 1,0 -4.2,0 a2.1,2.1 0 1,0 4.2,0 M732.6,473.1 a2.1,2.1 0 1,0 -4.2,0 a2.1,2.1 0 1,0 4.2,0 M738.4,484.0 a2.1,2.1 0 1,0 -4.2,0 a2.1,2.1 0 1,0 4.2,0 M744.2,485.0 a2.1,2.1 0 1,0 -4.2,0 a2.1,2.1 0 1,0 4.2,0 M750.0,486.3 a2.1,2.1 0 1,0 -4.2,0 a2.1,2.1 0 1,0 4.2,0 " fill="none" stroke="#8DCDA9" stroke-width="0.75"/>
<path d="M672.5,442.4 L678.3,342.5 L684.1,356.9 L689.9,370.0 L695.7,436.2 L701.5,444.7 L707.3,457.6 L713.1,451.1 L718.9,459.5 L724.7,478.8 L730.5,481.3 L736.3,483.3 L742.1,484.9 L747.9,485.8 L753.7,486.4" fill="none" stroke="#ABD58D" stroke-width="0.75"/>
<path d="M674.6,442.4 a2.1,2.1 0 1,0 -4.2,0 a2.1,2.1 0 1,0 4.2,0 M680.4,342.5 a2.1,2.1 0 1,0 -4.2,0 a2.1,2.1 0 1,0 4.2,0 M686.2,356.9 a2.1,2.1 0 1,0 -4.2,0 a2.1,2.1 0 1,0 4.2,0 M692.0,370.0 a2.1,2.1 0 1,0 -4.2,0 a2.1,2.1 0 1,0 4.2,0 M697.8,436.2 a2.1,2.1 0 1,0 -4.2,0 a2.1,2.1 0 1,0 4.2,0 M703.6,444.7 a2.1,2.1 0 1,0 -4.2,0 a2.1,2.1 0 1,0 4.2,0 M709.4,457.6 a2.1,2.1 0 1,0 -4.2,0 a2.1,2.1 0 1,0 4.2,0 M715.2,451.1 a2.1,2.1 0 1,0 -4.2,0 a2.1,2.1 0 1,0 4.2,0 M721.0,459.5 a2.1,2.1 0 1,0 -4.2,0 a2.1,2.1 0 1,0 4.2,0 M726.8,478.8 a2.1,2.1 0 1,0 -4.2,0 a2.1,2.1 0 1,0 4.2,0 M732.6,481.3 a2.1,2.1 0 1,0 -4.2,0 a2.1,2.1 0 1,0 4.2,0 M738.4,483.3 a2.1,2.1 0 1,0 -4.2,0 a2.1,2.1 0 1,0 4.2,0 M744.2,484.9 a2.1,2.1 0 1,0 -4.2,0 a2.1,2.1 0 1,0 4.2,0 M750.0,485.8 a2.1,2.1 0 1,0 -4.2,0 a2.1,2.1 0 1,0 4.2,0 M755.8,486.4 a2.1,2.1 0 1,0 -4.2,0 a2.1,2.1 0 1,0 4.2,0 " fill="none" stroke="#ABD58D" stroke-width="0.75"/>
<path d="M672.5,441.8 L678.3,323.0 L684.1,437.5 L689.9,403.5 L695.7,421.6 L701.5,419.9 L707.3,411.8 L713.1,439.3 L718.9,456.4 L724.7,462.0 L730.5,468.6 L736.3,481.6 L742.1,478.5 L747.9,483.0 L753.7,485.2 L759.5,486.4" fill="none" stroke="#C6DF6C" stroke-width="0.75"/>
<path d="M674.6,441.8 a2.1,2.1 0 1,0 -4.2,0 a2.1,2.1 0 1,0 4.2,0 M680.4,323.0 a2.1,2.1 0 1,0 -4.2,0 a2.1,2.1 0 1,0 4.2,0 M686.2,437.5 a2.1,2.1 0 1,0 -4.2,0 a2.1,2.1 0 1,0 4.2,0 M692.0,403.5 a2.1,2.1 0 1,0 -4.2,0 a2.1,2.1 0 1,0 4.2,0 M697.8,421.6 a2.1,2.1 0 1,0 -4.2,0 a2.1,2.1 0 1,0 4.2,0 M703.6,419.9 a2.1,2.1 0 1,0 -4.2,0 a2.1,2.1 0 1,0 4.2,0 M709.4,411.8 a2.1,2.1 0 1,0 -4.2,0 a2.1,2.1 0 1,0 4.2,0 M715.2,439.3 a2.1,2.1 0 1,0 -4.2,0 a2.1,2.1 0 1,0 4.2,0 M721.0,456.4 a2.1,2.1 0 1,0 -4.2,0 a2.1,2.1 0 1,0 4.2,0 M726.8,462.0 a2.1,2.1 0 1,0 -4.2,0 a2.1,2.1 0 1,0 4.2,0 M732.6,468.6 a2.1,2.1 0 1,0 -4.2,0 a2.1,2.1 0 1,0 4.2,0 M738.4,481.6 a2.1,2.1 0 1,0 -4.2,0 a2.1,2.1 0 1,0 4.2,0 M744.2,478.5 a2.1,2.1 0 1,0 -4.2,0 a2.1,2.1 0 1,0 4.2,0 M750.0,483.0 a2.1,2.1 0 1,0 -4.2,0 a2.1,2.1 0 1,0 4.2,0 M755.8,485.2 a2.1,2.1 0 1,0 -4.2,0 a2.1,2.1 0 1,0 4.2,0 M761.6,486.4 a2.1,2.1 0 1,0 -4.2,0 a2.1,2.1 0 1,0 4.2,0 " fill="none" stroke="#C6DF6C" stroke-width="0.75"/>
<path d="M672.5,443.1 L678.3,318.5 L684.1,335.3 L689.9,390.3 L695.7,366.9 L701.5,442.2 L707.3,453.0 L713.1,453.9 L718.9,463.9 L724.7,465.0 L730.5,477.2 L736.3,481.1 L742.1,482.0 L747.9,484.3 L753.7,485.1 L759.5,486.3 L765.3,486.4" fill="none" stroke="#E1E94B" stroke-width="0.75"/>
<path d="M674.6,443.1 a2.1,2.1 0 1,0 -4.2,0 a2.1,2.1 0 1,0 4.2,0 M680.4,318.5 a2.1,2.1 0 1,0 -4.2,0 a2.1,2.1 0 1,0 4.2,0 M686.2,335.3 a2.1,2.1 0 1,0 -4.2,0 a2.1,2.1 0 1,0 4.2,0 M692.0,390.3 a2.1,2.1 0 1,0 -4.2,0 a2.1,2.1 0 1,0 4.2,0 M697.8,366.9 a2.1,2.1 0 1,0 -4.2,0 a2.1,2.1 0 1,0 4.2,0 M703.6,442.2 a2.1,2.1 0 1,0 -4.2,0 a2.1,2.1 0 1,0 4.2,0 M709.4,453.0 a2.1,2.1 0 1,0 -4.2,0 a2.1,2.1 0 1,0 4.2,0 M715.2,453.9 a2.1,2.1 0 1,0 -4.2,0 a2.1,2.1 0 1,0 4.2,0 M721.0,463.9 a2.1,2.1 0 1,0 -4.2,0 a2.1,2.1 0 1,0 4.2,0 M726.8,465.0 a2.1,2.1 0 1,0 -4.2,0 a2.1,2.1 0 1,0 4.2,0 M732.6,477.2 a2.1,2.1 0 1,0 -4.2,0 a2.1,2.1 0 1,0 4.2,0 M738.4,481.1 a2.1,2.1 0 1,0 -4.2,0 a2.1,2.1 0 1,0 4.2,0 M744.2,482.0 a2.1,2.1 0 1,0 -4.2,0 a2.1,2.1 0 1,0 4.2,0 M750.0,484.3 a2.1,2.1 0 1,0 -4.2,0 a2.1,2.1 0 1,0 4.2,0 M755.8,485.1 a2.1,2.1 0 1,0 -4.2,0 a2.1,2.1 0 1,0 4.2,0 M761.6,486.3 a2.1,2.1 0 1,0 -4.2,0 a2.1,2.1 0 1,0 4.2,0 M767.4,486.4 a2.1,2.1 0 1,0 -4.2,0 a2.1,2.1 0 1,0 4.2,0 " fill="none" stroke="#E1E94B" stroke-width="0.75"/>
<path d="M672.5,443.7 L678.3,318.5 L684.1,353.9 L689.9,391.1 L695.7,409.2 L701.5,425.7 L707.3,453.2 L713.1,426.1 L718.9,434.4 L724.7,461.9 L730.5,468.1 L736.3,479.4 L742.1,481.7 L747.9,482.2 L753.7,484.4 L759.5,484.8 L765.3,486.3 L771.1,486.5" fill="none" stroke="#FCF32A" stroke-width="0.75"/>
<path d="M674.6,443.7 a2.1,2.1 0 1,0 -4.2,0 a2.1,2.1 0 1,0 4.2,0 M680.4,318.5 a2.1,2.1 0 1,0 -4.2,0 a2.1,2.1 0 1,0 4.2,0 M686.2,353.9 a2.1,2.1 0 1,0 -4.2,0 a2.1,2.1 0 1,0 4.2,0 M692.0,391.1 a2.1,2.1 0 1,0 -4.2,0 a2.1,2.1 0 1,0 4.2,0 M697.8,409.2 a2.1,2.1 0 1,0 -4.2,0 a2.1,2.1 0 1,0 4.2,0 M703.6,425.7 a2.1,2.1 0 1,0 -4.2,0 a2.1,2.1 0 1,0 4.2,0 M709.4,453.2 a2.1,2.1 0 1,0 -4.2,0 a2.1,2.1 0 1,0 4.2,0 M715.2,426.1 a2.1,2.1 0 1,0 -4.2,0 a2.1,2.1 0 1,0 4.2,0 M721.0,434.4 a2.1,2.1 0 1,0 -4.2,0 a2.1,2.1 0 1,0 4.2,0 M726.8,461.9 a2.1,2.1 0 1,0 -4.2,0 a2.1,2.1 0 1,0 4.2,0 M732.6,468.1 a2.1,2.1 0 1,0 -4.2,0 a2.1,2.1 0 1,0 4.2,0 M738.4,479.4 a2.1,2.1 0 1,0 -4.2,0 a2.1,2.1 0 1,0 4.2,0 M744.2,481.7 a2.1,2.1 0 1,0 -4.2,0 a2.1,2.1 0 1,0 4.2,0 M750.0,482.2 a2.1,2.1 0 1,0 -4.2,0 a2.1,2.1 0 1,0 4.2,0 M755.8,484.4 a2.1,2.1 0 1,0 -4.2,0 a2.1,2.1 0 1,0 4.2,0 M761.6,484.8 a2.1,2.1 0 1,0 -4.2,0 a2.1,2.1 0 1,0 4.2,0 M767.4,486.3 a2.1,2.1 0 1,0 -4.2,0 a2.1,2.1 0 1,0 4.2,0 M773.2,486.5 a2.1,2.1 0 1,0 -4.2,0 a2.1,2.1 0 1,0 4.2,0 " fill="none" stroke="#FCF32A" stroke-width="0.75"/>
<path d="M672.5,441.8 L678.3,318.5 L684.1,335.3 L689.9,373.0 L695.7,385.6 L701.5,447.4 L707.3,430.5 L713.1,422.3 L718.9,440.1 L724.7,455.3 L730.5,472.2 L736.3,474.4 L742.1,480.2 L747.9,478.0 L753.7,482.4 L759.5,483.7 L765.3,485.7 L771.1,486.3 L776.9,486.5" fill="none" stroke="#FDE12C" stroke-width="0.75"/>
<path d="M674.6,441.8 a2.1,2.1 0 1,0 -4.2,0 a2.1,2.1 0 1,0 4.2,0 M680.4,318.5 a2.1,2.1 0 1,0 -4.2,0 a2.1,2.1 0 1,0 4.2,0 M686.2,335.3 a2.1,2.1 0 1,0 -4.2,0 a2.1,2.1 0 1,0 4.2,0 M692.0,373.0 a2.1,2.1 0 1,0 -4.2,0 a2.1,2.1 0 1,0 4.2,0 M697.8,385.6 a2.1,2.1 0 1,0 -4.2,0 a2.1,2.1 0 1,0 4.2,0 M703.6,447.4 a2.1,2.1 0 1,0 -4.2,0 a2.1,2.1 0 1,0 4.2,0 M709.4,430.5 a2.1,2.1 0 1,0 -4.2,0 a2.1,2.1 0 1,0 4.2,0 M715.2,422.3 a2.1,2.1 0 1,0 -4.2,0 a2.1,2.1 0 1,0 4.2,0 M721.0,440.1 a2.1,2.1 0 1,0 -4.2,0 a2.1,2.1 0 1,0 4.2,0 M726.8,455.3 a2.1,2.1 0 1,0 -4.2,0 a2.1,2.1 0 1,0 4.2,0 M732.6,472.2 a2.1,2.1 0 1,0 -4.2,0 a2.1,2.1 0 1,0 4.2,0 M738.4,474.4 a2.1,2.1 0 1,0 -4.2,0 a2.1,2.1 0 1,0 4.2,0 M744.2,480.2 a2.1,2.1 0 1,0 -4.2,0 a2.1,2.1 0 1,0 4.2,0 M750.0,478.0 a2.1,2.1 0 1,0 -4.2,0 a2.1,2.1 0 1,0 4.2,0 M755.8,482.4 a2.1,2.1 0 1,0 -4.2,0 a2.1,2.1 0 1,0 4.2,0 M761.6,483.7 a2.1,2.1 0 1,0 -4.2,0 a2.1,2.1 0 1,0 4.2,0 M767.4,485.7 a2.1,2.1 0 1,0 -4.2,0 a2.1,2.1 0 1,0 4.2,0 M773.2,486.3 a2.1,2.1 0 1,0 -4.2,0 a2.1,2.1 0 1,0 4.2,0 M779.0,486.5 a2.1,2.1 0 1,0 -4.2,0 a2.1,2.1 0 1,0 4.2,0 " fill="none" stroke="#FDE12C" stroke-width="0.75"/>
<path d="M672.5,442.7 L678.3,318.5 L684.1,335.3 L689.9,335.3 L695.7,367.6 L701.5,403.5 L707.3,448.8 L713.1,444.8 L718.9,459.1 L724.7,474.0 L730.5,476.9 L736.3,475.1 L742.1,478.4 L747.9,477.2 L753.7,478.9 L759.5,483.6 L765.3,484.1 L771.1,485.4 L776.9,486.2 L782.7,486.5" fill="none" stroke="#FBCB33" stroke-width="0.75"/>
<path d="M674.6,442.7 a2.1,2.1 0 1,0 -4.2,0 a2.1,2.1 0 1,0 4.2,0 M680.4,318.5 a2.1,2.1 0 1,0 -4.2,0 a2.1,2.1 0 1,0 4.2,0 M686.2,335.3 a2.1,2.1 0 1,0 -4.2,0 a2.1,2.1 0 1,0 4.2,0 M692.0,335.3 a2.1,2.1 0 1,0 -4.2,0 a2.1,2.1 0 1,0 4.2,0 M697.8,367.6 a2.1,2.1 0 1,0 -4.2,0 a2.1,2.1 0 1,0 4.2,0 M703.6,403.5 a2.1,2.1 0 1,0 -4.2,0 a2.1,2.1 0 1,0 4.2,0 M709.4,448.8 a2.1,2.1 0 1,0 -4.2,0 a2.1,2.1 0 1,0 4.2,0 M715.2,444.8 a2.1,2.1 0 1,0 -4.2,0 a2.1,2.1 0 1,0 4.2,0 M721.0,459.1 a2.1,2.1 0 1,0 -4.2,0 a2.1,2.1 0 1,0 4.2,0 M726.8,474.0 a2.1,2.1 0 1,0 -4.2,0 a2.1,2.1 0 1,0 4.2,0 M732.6,476.9 a2.1,2.1 0 1,0 -4.2,0 a2.1,2.1 0 1,0 4.2,0 M738.4,475.1 a2.1,2.1 0 1,0 -4.2,0 a2.1,2.1 0 1,0 4.2,0 M744.2,478.4 a2.1,2.1 0 1,0 -4.2,0 a2.1,2.1 0 1,0 4.2,0 M750.0,477.2 a2.1,2.1 0 1,0 -4.2,0 a2.1,2.1 0 1,0 4.2,0 M755.8,478.9 a2.1,2.1 0 1,0 -4.2,0 a2.1,2.1 0 1,0 4.2,0 M761.6,483.6 a2.1,2.1 0 1,0 -4.2,0 a2.1,2.1 0 1,0 4.2,0 M767.4,484.1 a2.1,2.1 0 1,0 -4.2,0 a2.1,2.1 0 1,0 4.2,0 M773.2,485.4 a2.1,2.1 0 1,0 -4.2,0 a2.1,2.1 0 1,0 4.2,0 M779.0,486.2 a2.1,2.1 0 1,0 -4.2,0 a2.1,2.1 0 1,0 4.2,0 M784.8,486.5 a2.1,2.1 0 1,0 -4.2,0 a2.1,2.1 0 1,0 4.2,0 " fill="none" stroke="#FBCB33" stroke-width="0.75"/>
<path d="M672.5,443.6 L678.3,318.5 L684.1,395.5 L689.9,412.9 L695.7,423.0 L701.5,395.8 L707.3,389.4 L713.1,409.0 L718.9,441.0 L724.7,442.4 L730.5,446.5 L736.3,473.8 L742.1,465.6 L747.9,467.7 L753.7,474.6 L759.5,478.9 L765.3,482.9 L771.1,485.2 L776.9,485.4 L782.7,486.3 L788.5,486.5" fill="none" stroke="#FAB53A" stroke-width="0.75"/>
<path d="M674.6,443.6 a2.1,2.1 0 1,0 -4.2,0 a2.1,2.1 0 1,0 4.2,0 M680.4,318.5 a2.1,2.1 0 1,0 -4.2,0 a2.1,2.1 0 1,0 4.2,0 M686.2,395.5 a2.1,2.1 0 1,0 -4.2,0 a2.1,2.1 0 1,0 4.2,0 M692.0,412.9 a2.1,2.1 0 1,0 -4.2,0 a2.1,2.1 0 1,0 4.2,0 M697.8,423.0 a2.1,2.1 0 1,0 -4.2,0 a2.1,2.1 0 1,0 4.2,0 M703.6,395.8 a2.1,2.1 0 1,0 -4.2,0 a2.1,2.1 0 1,0 4.2,0 M709.4,389.4 a2.1,2.1 0 1,0 -4.2,0 a2.1,2.1 0 1,0 4.2,0 M715.2,409.0 a2.1,2.1 0 1,0 -4.2,0 a2.1,2.1 0 1,0 4.2,0 M721.0,441.0 a2.1,2.1 0 1,0 -4.2,0 a2.1,2.1 0 1,0 4.2,0 M726.8,442.4 a2.1,2.1 0 1,0 -4.2,0 a2.1,2.1 0 1,0 4.2,0 M732.6,446.5 a2.1,2.1 0 1,0 -4.2,0 a2.1,2.1 0 1,0 4.2,0 M738.4,473.8 a2.1,2.1 0 1,0 -4.2,0 a2.1,2.1 0 1,0 4.2,0 M744.2,465.6 a2.1,2.1 0 1,0 -4.2,0 a2.1,2.1 0 1,0 4.2,0 M750.0,467.7 a2.1,2.1 0 1,0 -4.2,0 a2.1,2.1 0 1,0 4.2,0 M755.8,474.6 a2.1,2.1 0 1,0 -4.2,0 a2.1,2.1 0 1,0 4.2,0 M761.6,478.9 a2.1,2.1 0 1,0 -4.2,0 a2.1,2.1 0 1,0 4.2,0 M767.4,482.9 a2.1,2.1 0 1,0 -4.2,0 a2.1,2.1 0 1,0 4.2,0 M773.2,485.2 a2.1,2.1 0 1,0 -4.2,0 a2.1,2.1 0 1,0 4.2,0 M779.0,485.4 a2.1,2.1 0 1,0 -4.2,0 a2.1,2.1 0 1,0 4.2,0 M784.8,486.3 a2.1,2.1 0 1,0 -4.2,0 a2.1,2.1 0 1,0 4.2,0 M790.6,486.5 a2.1,2.1 0 1,0 -4.2,0 a2.1,2.1 0 1,0 4.2,0 " fill="none" stroke="#FAB53A" stroke-width="0.75"/>
<path d="M672.5,450.2 L678.3,354.5 L684.1,367.7 L689.9,367.7 L695.7,367.7 L701.5,387.8 L707.3,443.0 L713.1,454.4 L718.9,459.0 L724.7,433.2 L730.5,445.0 L736.3,470.7 L742.1,457.8 L747.9,460.7 L753.7,471.1 L759.5,478.2 L765.3,479.0 L771.1,483.7 L776.9,485.2 L782.7,484.3 L788.5,485.9 L794.3,486.4" fill="none" stroke="#F89D3F" stroke-width="0.75"/>
<path d="M674.6,450.2 a2.1,2.1 0 1,0 -4.2,0 a2.1,2.1 0 1,0 4.2,0 M680.4,354.5 a2.1,2.1 0 1,0 -4.2,0 a2.1,2.1 0 1,0 4.2,0 M686.2,367.7 a2.1,2.1 0 1,0 -4.2,0 a2.1,2.1 0 1,0 4.2,0 M692.0,367.7 a2.1,2.1 0 1,0 -4.2,0 a2.1,2.1 0 1,0 4.2,0 M697.8,367.7 a2.1,2.1 0 1,0 -4.2,0 a2.1,2.1 0 1,0 4.2,0 M703.6,387.8 a2.1,2.1 0 1,0 -4.2,0 a2.1,2.1 0 1,0 4.2,0 M709.4,443.0 a2.1,2.1 0 1,0 -4.2,0 a2.1,2.1 0 1,0 4.2,0 M715.2,454.4 a2.1,2.1 0 1,0 -4.2,0 a2.1,2.1 0 1,0 4.2,0 M721.0,459.0 a2.1,2.1 0 1,0 -4.2,0 a2.1,2.1 0 1,0 4.2,0 M726.8,433.2 a2.1,2.1 0 1,0 -4.2,0 a2.1,2.1 0 1,0 4.2,0 M732.6,445.0 a2.1,2.1 0 1,0 -4.2,0 a2.1,2.1 0 1,0 4.2,0 M738.4,470.7 a2.1,2.1 0 1,0 -4.2,0 a2.1,2.1 0 1,0 4.2,0 M744.2,457.8 a2.1,2.1 0 1,0 -4.2,0 a2.1,2.1 0 1,0 4.2,0 M750.0,460.7 a2.1,2.1 0 1,0 -4.2,0 a2.1,2.1 0 1,0 4.2,0 M755.8,471.1 a2.1,2.1 0 1,0 -4.2,0 a2.1,2.1 0 1,0 4.2,0 M761.6,478.2 a2.1,2.1 0 1,0 -4.2,0 a2.1,2.1 0 1,0 4.2,0 M767.4,479.0 a2.1,2.1 0 1,0 -4.2,0 a2.1,2.1 0 1,0 4.2,0 M773.2,483.7 a2.1,2.1 0 1,0 -4.2,0 a2.1,2.1 0 1,0 4.2,0 M779.0,485.2 a2.1,2.1 0 1,0 -4.2,0 a2.1,2.1 0 1,0 4.2,0 M784.8,484.3 a2.1,2.1 0 1,0 -4.2,0 a2.1,2.1 0 1,0 4.2,0 M790.6,485.9 a2.1,2.1 0 1,0 -4.2,0 a2.1,2.1 0 1,0 4.2,0 M796.4,486.4 a2.1,2.1 0 1,0 -4.2,0 a2.1,2.1 0 1,0 4.2,0 " fill="none" stroke="#F89D3F" stroke-width="0.75"/>
<path d="M672.5,451.0 L678.3,354.5 L684.1,367.7 L689.9,367.7 L695.7,367.7 L701.5,397.6 L707.3,426.2 L713.1,439.4 L718.9,451.2 L724.7,442.2 L730.5,461.2 L736.3,460.3 L742.1,472.3 L747.9,458.1 L753.7,473.4 L759.5,474.9 L765.3,476.5 L771.1,477.0 L776.9,482.5 L782.7,482.6 L788.5,485.1 L794.3,486.0 L800.1,486.4" fill="none" stroke="#F58141" stroke-width="0.75"/>
<path d="M674.6,451.0 a2.1,2.1 0 1,0 -4.2,0 a2.1,2.1 0 1,0 4.2,0 M680.4,354.5 a2.1,2.1 0 1,0 -4.2,0 a2.1,2.1 0 1,0 4.2,0 M686.2,367.7 a2.1,2.1 0 1,0 -4.2,0 a2.1,2.1 0 1,0 4.2,0 M692.0,367.7 a2.1,2.1 0 1,0 -4.2,0 a2.1,2.1 0 1,0 4.2,0 M697.8,367.7 a2.1,2.1 0 1,0 -4.2,0 a2.1,2.1 0 1,0 4.2,0 M703.6,397.6 a2.1,2.1 0 1,0 -4.2,0 a2.1,2.1 0 1,0 4.2,0 M709.4,426.2 a2.1,2.1 0 1,0 -4.2,0 a2.1,2.1 0 1,0 4.2,0 M715.2,439.4 a2.1,2.1 0 1,0 -4.2,0 a2.1,2.1 0 1,0 4.2,0 M721.0,451.2 a2.1,2.1 0 1,0 -4.2,0 a2.1,2.1 0 1,0 4.2,0 M726.8,442.2 a2.1,2.1 0 1,0 -4.2,0 a2.1,2.1 0 1,0 4.2,0 M732.6,461.2 a2.1,2.1 0 1,0 -4.2,0 a2.1,2.1 0 1,0 4.2,0 M738.4,460.3 a2.1,2.1 0 1,0 -4.2,0 a2.1,2.1 0 1,0 4.2,0 M744.2,472.3 a2.1,2.1 0 1,0 -4.2,0 a2.1,2.1 0 1,0 4.2,0 M750.0,458.1 a2.1,2.1 0 1,0 -4.2,0 a2.1,2.1 0 1,0 4.2,0 M755.8,473.4 a2.1,2.1 0 1,0 -4.2,0 a2.1,2.1 0 1,0 4.2,0 M761.6,474.9 a2.1,2.1 0 1,0 -4.2,0 a2.1,2.1 0 1,0 4.2,0 M767.4,476.5 a2.1,2.1 0 1,0 -4.2,0 a2.1,2.1 0 1,0 4.2,0 M773.2,477.0 a2.1,2.1 0 1,0 -4.2,0 a2.1,2.1 0 1,0 4.2,0 M779.0,482.5 a2.1,2.1 0 1,0 -4.2,0 a2.1,2.1 0 1,0 4.2,0 M784.8,482.6 a2.1,2.1 0 1,0 -4.2,0 a2.1,2.1 0 1,0 4.2,0 M790.6,485.1 a2.1,2.1 0 1,0 -4.2,0 a2.1,2.1 0 1,0 4.2,0 M796.4,486.0 a2.1,2.1 0 1,0 -4.2,0 a2.1,2.1 0 1,0 4.2,0 M802.2,486.4 a2.1,2.1 0 1,0 -4.2,0 a2.1,2.1 0 1,0 4.2,0 " fill="none" stroke="#F58141" stroke-width="0.75"/>
<path d="M672.5,455.2 L678.3,390.0 L684.1,385.4 L689.9,421.5 L695.7,444.8 L701.5,375.0 L707.3,437.7 L713.1,419.5 L718.9,409.0 L724.7,427.6 L730.5,446.8 L736.3,442.6 L742.1,446.8 L747.9,444.5 L753.7,471.2 L759.5,462.6 L765.3,473.4 L771.1,475.8 L776.9,472.6 L782.7,478.8 L788.5,481.2 L794.3,482.9 L800.1,484.8 L805.9,486.3" fill="none" stroke="#F36543" stroke-width="0.75"/>
<path d="M674.6,455.2 a2.1,2.1 0 1,0 -4.2,0 a2.1,2.1 0 1,0 4.2,0 M680.4,390.0 a2.1,2.1 0 1,0 -4.2,0 a2.1,2.1 0 1,0 4.2,0 M686.2,385.4 a2.1,2.1 0 1,0 -4.2,0 a2.1,2.1 0 1,0 4.2,0 M692.0,421.5 a2.1,2.1 0 1,0 -4.2,0 a2.1,2.1 0 1,0 4.2,0 M697.8,444.8 a2.1,2.1 0 1,0 -4.2,0 a2.1,2.1 0 1,0 4.2,0 M703.6,375.0 a2.1,2.1 0 1,0 -4.2,0 a2.1,2.1 0 1,0 4.2,0 M709.4,437.7 a2.1,2.1 0 1,0 -4.2,0 a2.1,2.1 0 1,0 4.2,0 M715.2,419.5 a2.1,2.1 0 1,0 -4.2,0 a2.1,2.1 0 1,0 4.2,0 M721.0,409.0 a2.1,2.1 0 1,0 -4.2,0 a2.1,2.1 0 1,0 4.2,0 M726.8,427.6 a2.1,2.1 0 1,0 -4.2,0 a2.1,2.1 0 1,0 4.2,0 M732.6,446.8 a2.1,2.1 0 1,0 -4.2,0 a2.1,2.1 0 1,0 4.2,0 M738.4,442.6 a2.1,2.1 0 1,0 -4.2,0 a2.1,2.1 0 1,0 4.2,0 M744.2,446.8 a2.1,2.1 0 1,0 -4.2,0 a2.1,2.1 0 1,0 4.2,0 M750.0,444.5 a2.1,2.1 0 1,0 -4.2,0 a2.1,2.1 0 1,0 4.2,0 M755.8,471.2 a2.1,2.1 0 1,0 -4.2,0 a2.1,2.1 0 1,0 4.2,0 M761.6,462.6 a2.1,2.1 0 1,0 -4.2,0 a2.1,2.1 0 1,0 4.2,0 M767.4,473.4 a2.1,2.1 0 1,0 -4.2,0 a2.1,2.1 0 1,0 4.2,0 M773.2,475.8 a2.1,2.1 0 1,0 -4.2,0 a2.1,2.1 0 1,0 4.2,0 M779.0,472.6 a2.1,2.1 0 1,0 -4.2,0 a2.1,2.1 0 1,0 4.2,0 M784.8,478.8 a2.1,2.1 0 1,0 -4.2,0 a2.1,2.1 0 1,0 4.2,0 M790.6,481.2 a2.1,2.1 0 1,0 -4.2,0 a2.1,2.1 0 1,0 4.2,0 M796.4,482.9 a2.1,2.1 0 1,0 -4.2,0 a2.1,2.1 0 1,0 4.2,0 M802.2,484.8 a2.1,2.1 0 1,0 -4.2,0 a2.1,2.1 0 1,0 4.2,0 M808.0,486.3 a2.1,2.1 0 1,0 -4.2,0 a2.1,2.1 0 1,0 4.2,0 " fill="none" stroke="#F36543" stroke-width="0.75"/>
<path d="M672.5,458.2 L678.3,354.5 L684.1,395.4 L689.9,409.1 L695.7,404.7 L701.5,428.0 L707.3,427.9 L713.1,435.9 L718.9,416.2 L724.7,434.0 L730.5,431.4 L736.3,434.5 L742.1,463.6 L747.9,457.2 L753.7,450.8 L759.5,458.1 L765.3,476.0 L771.1,478.0 L776.9,475.5 L782.7,481.7 L788.5,481.7 L794.3,484.0 L800.1,483.2 L805.9,484.8 L811.7,486.1" fill="none" stroke="#F14944" stroke-width="0.75"/>
<path d="M674.6,458.2 a2.1,2.1 0 1,0 -4.2,0 a2.1,2.1 0 1,0 4.2,0 M680.4,354.5 a2.1,2.1 0 1,0 -4.2,0 a2.1,2.1 0 1,0 4.2,0 M686.2,395.4 a2.1,2.1 0 1,0 -4.2,0 a2.1,2.1 0 1,0 4.2,0 M692.0,409.1 a2.1,2.1 0 1,0 -4.2,0 a2.1,2.1 0 1,0 4.2,0 M697.8,404.7 a2.1,2.1 0 1,0 -4.2,0 a2.1,2.1 0 1,0 4.2,0 M703.6,428.0 a2.1,2.1 0 1,0 -4.2,0 a2.1,2.1 0 1,0 4.2,0 M709.4,427.9 a2.1,2.1 0 1,0 -4.2,0 a2.1,2.1 0 1,0 4.2,0 M715.2,435.9 a2.1,2.1 0 1,0 -4.2,0 a2.1,2.1 0 1,0 4.2,0 M721.0,416.2 a2.1,2.1 0 1,0 -4.2,0 a2.1,2.1 0 1,0 4.2,0 M726.8,434.0 a2.1,2.1 0 1,0 -4.2,0 a2.1,2.1 0 1,0 4.2,0 M732.6,431.4 a2.1,2.1 0 1,0 -4.2,0 a2.1,2.1 0 1,0 4.2,0 M738.4,434.5 a2.1,2.1 0 1,0 -4.2,0 a2.1,2.1 0 1,0 4.2,0 M744.2,463.6 a2.1,2.1 0 1,0 -4.2,0 a2.1,2.1 0 1,0 4.2,0 M750.0,457.2 a2.1,2.1 0 1,0 -4.2,0 a2.1,2.1 0 1,0 4.2,0 M755.8,450.8 a2.1,2.1 0 1,0 -4.2,0 a2.1,2.1 0 1,0 4.2,0 M761.6,458.1 a2.1,2.1 0 1,0 -4.2,0 a2.1,2.1 0 1,0 4.2,0 M767.4,476.0 a2.1,2.1 0 1,0 -4.2,0 a2.1,2.1 0 1,0 4.2,0 M773.2,478.0 a2.1,2.1 0 1,0 -4.2,0 a2.1,2.1 0 1,0 4.2,0 M779.0,475.5 a2.1,2.1 0 1,0 -4.2,0 a2.1,2.1 0 1,0 4.2,0 M784.8,481.7 a2.1,2.1 0 1,0 -4.2,0 a2.1,2.1 0 1,0 4.2,0 M790.6,481.7 a2.1,2.1 0 1,0 -4.2,0 a2.1,2.1 0 1,0 4.2,0 M796.4,484.0 a2.1,2.1 0 1,0 -4.2,0 a2.1,2.1 0 1,0 4.2,0 M802.2,483.2 a2.1,2.1 0 1,0 -4.2,0 a2.1,2.1 0 1,0 4.2,0 M808.0,484.8 a2.1,2.1 0 1,0 -4.2,0 a2.1,2.1 0 1,0 4.2,0 M813.8,486.1 a2.1,2.1 0 1,0 -4.2,0 a2.1,2.1 0 1,0 4.2,0 " fill="none" stroke="#F14944" stroke-width="0.75"/>
<path d="M672.5,458.1 L678.3,391.6 L684.1,385.0 L689.9,396.6 L695.7,443.3 L701.5,392.9 L707.3,394.4 L713.1,447.8 L718.9,409.9 L724.7,445.2 L730.5,445.0 L736.3,428.2 L742.1,440.4 L747.9,467.8 L753.7,462.3 L759.5,463.5 L765.3,470.7 L771.1,475.8 L776.9,475.9 L782.7,473.4 L788.5,482.7 L794.3,480.3 L800.1,482.8 L805.9,485.4 L811.7,485.7 L817.5,486.3" fill="none" stroke="#E43E44" stroke-width="0.75"/>
<path d="M674.6,458.1 a2.1,2.1 0 1,0 -4.2,0 a2.1,2.1 0 1,0 4.2,0 M680.4,391.6 a2.1,2.1 0 1,0 -4.2,0 a2.1,2.1 0 1,0 4.2,0 M686.2,385.0 a2.1,2.1 0 1,0 -4.2,0 a2.1,2.1 0 1,0 4.2,0 M692.0,396.6 a2.1,2.1 0 1,0 -4.2,0 a2.1,2.1 0 1,0 4.2,0 M697.8,443.3 a2.1,2.1 0 1,0 -4.2,0 a2.1,2.1 0 1,0 4.2,0 M703.6,392.9 a2.1,2.1 0 1,0 -4.2,0 a2.1,2.1 0 1,0 4.2,0 M709.4,394.4 a2.1,2.1 0 1,0 -4.2,0 a2.1,2.1 0 1,0 4.2,0 M715.2,447.8 a2.1,2.1 0 1,0 -4.2,0 a2.1,2.1 0 1,0 4.2,0 M721.0,409.9 a2.1,2.1 0 1,0 -4.2,0 a2.1,2.1 0 1,0 4.2,0 M726.8,445.2 a2.1,2.1 0 1,0 -4.2,0 a2.1,2.1 0 1,0 4.2,0 M732.6,445.0 a2.1,2.1 0 1,0 -4.2,0 a2.1,2.1 0 1,0 4.2,0 M738.4,428.2 a2.1,2.1 0 1,0 -4.2,0 a2.1,2.1 0 1,0 4.2,0 M744.2,440.4 a2.1,2.1 0 1,0 -4.2,0 a2.1,2.1 0 1,0 4.2,0 M750.0,467.8 a2.1,2.1 0 1,0 -4.2,0 a2.1,2.1 0 1,0 4.2,0 M755.8,462.3 a2.1,2.1 0 1,0 -4.2,0 a2.1,2.1 0 1,0 4.2,0 M761.6,463.5 a2.1,2.1 0 1,0 -4.2,0 a2.1,2.1 0 1,0 4.2,0 M767.4,470.7 a2.1,2.1 0 1,0 -4.2,0 a2.1,2.1 0 1,0 4.2,0 M773.2,475.8 a2.1,2.1 0 1,0 -4.2,0 a2.1,2.1 0 1,0 4.2,0 M779.0,475.9 a2.1,2.1 0 1,0 -4.2,0 a2.1,2.1 0 1,0 4.2,0 M784.8,473.4 a2.1,2.1 0 1,0 -4.2,0 a2.1,2.1 0 1,0 4.2,0 M790.6,482.7 a2.1,2.1 0 1,0 -4.2,0 a2.1,2.1 0 1,0 4.2,0 M796.4,480.3 a2.1,2.1 0 1,0 -4.2,0 a2.1,2.1 0 1,0 4.2,0 M802.2,482.8 a2.1,2.1 0 1,0 -4.2,0 a2.1,2.1 0 1,0 4.2,0 M808.0,485.4 a2.1,2.1 0 1,0 -4.2,0 a2.1,2.1 0 1,0 4.2,0 M813.8,485.7 a2.1,2.1 0 1,0 -4.2,0 a2.1,2.1 0 1,0 4.2,0 M819.6,486.3 a2.1,2.1 0 1,0 -4.2,0 a2.1,2.1 0 1,0 4.2,0 " fill="none" stroke="#E43E44" stroke-width="0.75"/>
<path d="M672.5,461.8 L678.3,354.5 L684.1,442.9 L689.9,375.5 L695.7,397.1 L701.5,389.8 L707.3,452.7 L713.1,445.0 L718.9,460.7 L724.7,423.0 L730.5,452.9 L736.3,461.9 L742.1,451.7 L747.9,436.2 L753.7,444.1 L759.5,465.8 L765.3,412.1 L771.1,473.7 L776.9,478.3 L782.7,478.6 L788.5,483.6 L794.3,484.3 L800.1,482.5 L805.9,482.9 L811.7,484.4 L817.5,483.5 L823.3,485.9" fill="none" stroke="#D23F44" stroke-width="0.75"/>
<path d="M674.6,461.8 a2.1,2.1 0 1,0 -4.2,0 a2.1,2.1 0 1,0 4.2,0 M680.4,354.5 a2.1,2.1 0 1,0 -4.2,0 a2.1,2.1 0 1,0 4.2,0 M686.2,442.9 a2.1,2.1 0 1,0 -4.2,0 a2.1,2.1 0 1,0 4.2,0 M692.0,375.5 a2.1,2.1 0 1,0 -4.2,0 a2.1,2.1 0 1,0 4.2,0 M697.8,397.1 a2.1,2.1 0 1,0 -4.2,0 a2.1,2.1 0 1,0 4.2,0 M703.6,389.8 a2.1,2.1 0 1,0 -4.2,0 a2.1,2.1 0 1,0 4.2,0 M709.4,452.7 a2.1,2.1 0 1,0 -4.2,0 a2.1,2.1 0 1,0 4.2,0 M715.2,445.0 a2.1,2.1 0 1,0 -4.2,0 a2.1,2.1 0 1,0 4.2,0 M721.0,460.7 a2.1,2.1 0 1,0 -4.2,0 a2.1,2.1 0 1,0 4.2,0 M726.8,423.0 a2.1,2.1 0 1,0 -4.2,0 a2.1,2.1 0 1,0 4.2,0 M732.6,452.9 a2.1,2.1 0 1,0 -4.2,0 a2.1,2.1 0 1,0 4.2,0 M738.4,461.9 a2.1,2.1 0 1,0 -4.2,0 a2.1,2.1 0 1,0 4.2,0 M744.2,451.7 a2.1,2.1 0 1,0 -4.2,0 a2.1,2.1 0 1,0 4.2,0 M750.0,436.2 a2.1,2.1 0 1,0 -4.2,0 a2.1,2.1 0 1,0 4.2,0 M755.8,444.1 a2.1,2.1 0 1,0 -4.2,0 a2.1,2.1 0 1,0 4.2,0 M761.6,465.8 a2.1,2.1 0 1,0 -4.2,0 a2.1,2.1 0 1,0 4.2,0 M767.4,412.1 a2.1,2.1 0 1,0 -4.2,0 a2.1,2.1 0 1,0 4.2,0 M773.2,473.7 a2.1,2.1 0 1,0 -4.2,0 a2.1,2.1 0 1,0 4.2,0 M779.0,478.3 a2.1,2.1 0 1,0 -4.2,0 a2.1,2.1 0 1,0 4.2,0 M784.8,478.6 a2.1,2.1 0 1,0 -4.2,0 a2.1,2.1 0 1,0 4.2,0 M790.6,483.6 a2.1,2.1 0 1,0 -4.2,0 a2.1,2.1 0 1,0 4.2,0 M796.4,484.3 a2.1,2.1 0 1,0 -4.2,0 a2.1,2.1 0 1,0 4.2,0 M802.2,482.5 a2.1,2.1 0 1,0 -4.2,0 a2.1,2.1 0 1,0 4.2,0 M808.0,482.9 a2.1,2.1 0 1,0 -4.2,0 a2.1,2.1 0 1,0 4.2,0 M813.8,484.4 a2.1,2.1 0 1,0 -4.2,0 a2.1,2.1 0 1,0 4.2,0 M819.6,483.5 a2.1,2.1 0 1,0 -4.2,0 a2.1,2.1 0 1,0 4.2,0 M825.4,485.9 a2.1,2.1 0 1,0 -4.2,0 a2.1,2.1 0 1,0 4.2,0 " fill="none" stroke="#D23F44" stroke-width="0.75"/>
<path d="M672.5,461.5 L678.3,354.5 L684.1,408.0 L689.9,368.7 L695.7,444.1 L701.5,391.9 L707.3,426.8 L713.1,438.5 L718.9,429.2 L724.7,412.8 L730.5,451.9 L736.3,461.2 L742.1,446.2 L747.9,461.1 L753.7,468.1 L759.5,468.3 L765.3,473.5 L771.1,471.2 L776.9,470.9 L782.7,473.2 L788.5,468.3 L794.3,477.6 L800.1,477.3 L805.9,482.0 L811.7,482.4 L817.5,485.1 L823.3,485.4 L829.1,486.3" fill="none" stroke="#BF4043" stroke-width="0.75"/>
<path d="M674.6,461.5 a2.1,2.1 0 1,0 -4.2,0 a2.1,2.1 0 1,0 4.2,0 M680.4,354.5 a2.1,2.1 0 1,0 -4.2,0 a2.1,2.1 0 1,0 4.2,0 M686.2,408.0 a2.1,2.1 0 1,0 -4.2,0 a2.1,2.1 0 1,0 4.2,0 M692.0,368.7 a2.1,2.1 0 1,0 -4.2,0 a2.1,2.1 0 1,0 4.2,0 M697.8,444.1 a2.1,2.1 0 1,0 -4.2,0 a2.1,2.1 0 1,0 4.2,0 M703.6,391.9 a2.1,2.1 0 1,0 -4.2,0 a2.1,2.1 0 1,0 4.2,0 M709.4,426.8 a2.1,2.1 0 1,0 -4.2,0 a2.1,2.1 0 1,0 4.2,0 M715.2,438.5 a2.1,2.1 0 1,0 -4.2,0 a2.1,2.1 0 1,0 4.2,0 M721.0,429.2 a2.1,2.1 0 1,0 -4.2,0 a2.1,2.1 0 1,0 4.2,0 M726.8,412.8 a2.1,2.1 0 1,0 -4.2,0 a2.1,2.1 0 1,0 4.2,0 M732.6,451.9 a2.1,2.1 0 1,0 -4.2,0 a2.1,2.1 0 1,0 4.2,0 M738.4,461.2 a2.1,2.1 0 1,0 -4.2,0 a2.1,2.1 0 1,0 4.2,0 M744.2,446.2 a2.1,2.1 0 1,0 -4.2,0 a2.1,2.1 0 1,0 4.2,0 M750.0,461.1 a2.1,2.1 0 1,0 -4.2,0 a2.1,2.1 0 1,0 4.2,0 M755.8,468.1 a2.1,2.1 0 1,0 -4.2,0 a2.1,2.1 0 1,0 4.2,0 M761.6,468.3 a2.1,2.1 0 1,0 -4.2,0 a2.1,2.1 0 1,0 4.2,0 M767.4,473.5 a2.1,2.1 0 1,0 -4.2,0 a2.1,2.1 0 1,0 4.2,0 M773.2,471.2 a2.1,2.1 0 1,0 -4.2,0 a2.1,2.1 0 1,0 4.2,0 M779.0,470.9 a2.1,2.1 0 1,0 -4.2,0 a2.1,2.1 0 1,0 4.2,0 M784.8,473.2 a2.1,2.1 0 1,0 -4.2,0 a2.1,2.1 0 1,0 4.2,0 M790.6,468.3 a2.1,2.1 0 1,0 -4.2,0 a2.1,2.1 0 1,0 4.2,0 M796.4,477.6 a2.1,2.1 0 1,0 -4.2,0 a2.1,2.1 0 1,0 4.2,0 M802.2,477.3 a2.1,2.1 0 1,0 -4.2,0 a2.1,2.1 0 1,0 4.2,0 M808.0,482.0 a2.1,2.1 0 1,0 -4.2,0 a2.1,2.1 0 1,0 4.2,0 M813.8,482.4 a2.1,2.1 0 1,0 -4.2,0 a2.1,2.1 0 1,0 4.2,0 M819.6,485.1 a2.1,2.1 0 1,0 -4.2,0 a2.1,2.1 0 1,0 4.2,0 M825.4,485.4 a2.1,2.1 0 1,0 -4.2,0 a2.1,2.1 0 1,0 4.2,0 M831.2,486.3 a2.1,2.1 0 1,0 -4.2,0 a2.1,2.1 0 1,0 4.2,0 " fill="none" stroke="#BF4043" stroke-width="0.75"/>
<path d="M672.5,464.2 L678.3,354.5 L684.1,409.6 L689.9,442.4 L695.7,428.0 L701.5,403.4 L707.3,456.2 L713.1,418.6 L718.9,442.6 L724.7,442.1 L730.5,429.2 L736.3,451.9 L742.1,449.7 L747.9,445.6 L753.7,438.6 L759.5,462.8 L765.3,450.8 L771.1,457.4 L776.9,462.1 L782.7,469.6 L788.5,472.8 L794.3,479.3 L800.1,479.4 L805.9,481.3 L811.7,476.8 L817.5,482.3 L823.3,484.1 L829.1,485.4 L834.9,485.7" fill="none" stroke="#AD4142" stroke-width="0.75"/>
<path d="M674.6,464.2 a2.1,2.1 0 1,0 -4.2,0 a2.1,2.1 0 1,0 4.2,0 M680.4,354.5 a2.1,2.1 0 1,0 -4.2,0 a2.1,2.1 0 1,0 4.2,0 M686.2,409.6 a2.1,2.1 0 1,0 -4.2,0 a2.1,2.1 0 1,0 4.2,0 M692.0,442.4 a2.1,2.1 0 1,0 -4.2,0 a2.1,2.1 0 1,0 4.2,0 M697.8,428.0 a2.1,2.1 0 1,0 -4.2,0 a2.1,2.1 0 1,0 4.2,0 M703.6,403.4 a2.1,2.1 0 1,0 -4.2,0 a2.1,2.1 0 1,0 4.2,0 M709.4,456.2 a2.1,2.1 0 1,0 -4.2,0 a2.1,2.1 0 1,0 4.2,0 M715.2,418.6 a2.1,2.1 0 1,0 -4.2,0 a2.1,2.1 0 1,0 4.2,0 M721.0,442.6 a2.1,2.1 0 1,0 -4.2,0 a2.1,2.1 0 1,0 4.2,0 M726.8,442.1 a2.1,2.1 0 1,0 -4.2,0 a2.1,2.1 0 1,0 4.2,0 M732.6,429.2 a2.1,2.1 0 1,0 -4.2,0 a2.1,2.1 0 1,0 4.2,0 M738.4,451.9 a2.1,2.1 0 1,0 -4.2,0 a2.1,2.1 0 1,0 4.2,0 M744.2,449.7 a2.1,2.1 0 1,0 -4.2,0 a2.1,2.1 0 1,0 4.2,0 M750.0,445.6 a2.1,2.1 0 1,0 -4.2,0 a2.1,2.1 0 1,0 4.2,0 M755.8,438.6 a2.1,2.1 0 1,0 -4.2,0 a2.1,2.1 0 1,0 4.2,0 M761.6,462.8 a2.1,2.1 0 1,0 -4.2,0 a2.1,2.1 0 1,0 4.2,0 M767.4,450.8 a2.1,2.1 0 1,0 -4.2,0 a2.1,2.1 0 1,0 4.2,0 M773.2,457.4 a2.1,2.1 0 1,0 -4.2,0 a2.1,2.1 0 1,0 4.2,0 M779.0,462.1 a2.1,2.1 0 1,0 -4.2,0 a2.1,2.1 0 1,0 4.2,0 M784.8,469.6 a2.1,2.1 0 1,0 -4.2,0 a2.1,2.1 0 1,0 4.2,0 M790.6,472.8 a2.1,2.1 0 1,0 -4.2,0 a2.1,2.1 0 1,0 4.2,0 M796.4,479.3 a2.1,2.1 0 1,0 -4.2,0 a2.1,2.1 0 1,0 4.2,0 M802.2,479.4 a2.1,2.1 0 1,0 -4.2,0 a2.1,2.1 0 1,0 4.2,0 M808.0,481.3 a2.1,2.1 0 1,0 -4.2,0 a2.1,2.1 0 1,0 4.2,0 M813.8,476.8 a2.1,2.1 0 1,0 -4.2,0 a2.1,2.1 0 1,0 4.2,0 M819.6,482.3 a2.1,2.1 0 1,0 -4.2,0 a2.1,2.1 0 1,0 4.2,0 M825.4,484.1 a2.1,2.1 0 1,0 -4.2,0 a2.1,2.1 0 1,0 4.2,0 M831.2,485.4 a2.1,2.1 0 1,0 -4.2,0 a2.1,2.1 0 1,0 4.2,0 M837.0,485.7 a2.1,2.1 0 1,0 -4.2,0 a2.1,2.1 0 1,0 4.2,0 " fill="none" stroke="#AD4142" stroke-width="0.75"/>
<path d="M914,351.8 H934.2" stroke="#6E6EB4" stroke-width="1.2"/>
<circle cx="924" cy="351.8" r="2.1" fill="none" stroke="#6E6EB4" stroke-width="1.1"/>
<text x="935.65" y="359.20" font-size="20.1" fill="#231F20" >Offer 1 seconds</text>
<path d="M914,374.6 H934.2" stroke="#7887C3" stroke-width="1.2"/>
<circle cx="924" cy="374.6" r="2.1" fill="none" stroke="#7887C3" stroke-width="1.1"/>
<text x="935.65" y="381.97" font-size="20.1" fill="#231F20" >Offer 5 seconds</text>
<path d="M914,397.3 H934.2" stroke="#50B9E6" stroke-width="1.2"/>
<circle cx="924" cy="397.3" r="2.1" fill="none" stroke="#50B9E6" stroke-width="1.1"/>
<text x="935.65" y="404.74" font-size="20.1" fill="#231F20" >Offer 10 seconds</text>
<path d="M914,420.1 H934.2" stroke="#A0D2A0" stroke-width="1.2"/>
<circle cx="924" cy="420.1" r="2.1" fill="none" stroke="#A0D2A0" stroke-width="1.1"/>
<text x="935.65" y="427.51" font-size="20.1" fill="#231F20" >Offer 15 seconds</text>
<path d="M914,442.9 H934.2" stroke="#FAEB50" stroke-width="1.2"/>
<circle cx="924" cy="442.9" r="2.1" fill="none" stroke="#FAEB50" stroke-width="1.1"/>
<text x="935.65" y="450.28" font-size="20.1" fill="#231F20" >Offer 20 seconds</text>
<path d="M914,465.6 H934.2" stroke="#F5A082" stroke-width="1.2"/>
<circle cx="924" cy="465.6" r="2.1" fill="none" stroke="#F5A082" stroke-width="1.1"/>
<text x="935.65" y="473.05" font-size="20.1" fill="#231F20" >Offer 25 seconds</text>
<path d="M914,488.4 H934.2" stroke="#D26464" stroke-width="1.2"/>
<circle cx="924" cy="488.4" r="2.1" fill="none" stroke="#D26464" stroke-width="1.1"/>
<text x="935.65" y="495.82" font-size="20.1" fill="#231F20" >Offer 30 seconds</text>
<text transform="translate(108.10,988.50) scale(1.23,1)" x="-1.40" y="0" font-size="36" font-weight="bold" fill="#231F20" stroke="#231F20" stroke-width="1.3" stroke-linejoin="round">e</text>
<path d="M157.6,980.5 V1242.2 H519" fill="none" stroke="#A7A9AC" stroke-width="1.6"/>
<path d="M157.6,1242.2 h-4 M157.6,1218.5 h-3 M157.6,1194.7 h-4 M157.6,1171.0 h-3 M157.6,1147.2 h-4 M157.6,1123.5 h-3 M157.6,1099.7 h-4 M157.6,1076.0 h-3 M157.6,1052.2 h-4 M157.6,1028.5 h-3 M157.6,1004.7 h-4 M183.2,1242.2 v4.5 M209.1,1242.2 v2.5 M234.9,1242.2 v4.5 M260.7,1242.2 v2.5 M286.6,1242.2 v4.5 M312.4,1242.2 v2.5 M338.2,1242.2 v4.5 M364.0,1242.2 v2.5 M389.9,1242.2 v4.5 M415.7,1242.2 v2.5 M441.5,1242.2 v4.5 M467.3,1242.2 v2.5 M493.1,1242.2 v4.5 M519.0,1242.2 v2.5 " stroke="#A7A9AC" stroke-width="1.6"/>
<text x="136.10" y="1007.90" font-size="20" fill="#231F20" >1</text>
<text x="138.90" y="1247.20" font-size="20" fill="#231F20" >0</text>
<text x="174.45" y="1263.00" font-size="20" fill="#231F20" >0</text>
<text x="483.43" y="1263.00" font-size="20" fill="#231F20" >30</text>
<text x="220.15" y="1266.00" font-size="20.3" fill="#231F20" >Countdown Remaining (s)</text>
<text transform="translate(142.00,1123.50) rotate(-90)" x="-92.33" y="0" font-size="20.3" fill="#231F20">p(earn) in Wait Zone</text>
<defs><linearGradient id="cb" x1="0" y1="1" x2="0" y2="0"><stop offset="0" stop-color="#231F20"/><stop offset="0.066" stop-color="#231F20"/><stop offset="0.072" stop-color="#5DB850"/><stop offset="0.095" stop-color="#62BA5A"/><stop offset="0.15" stop-color="#7BC8C3"/><stop offset="0.19" stop-color="#6FCBE3"/><stop offset="0.275" stop-color="#4CC0EA"/><stop offset="0.32" stop-color="#3489CC"/><stop offset="0.375" stop-color="#3D4EA0"/><stop offset="0.445" stop-color="#5A4C9E"/><stop offset="0.53" stop-color="#8A5CA5"/><stop offset="0.615" stop-color="#BD6FAA"/><stop offset="0.715" stop-color="#DD4D9D"/><stop offset="0.78" stop-color="#DC2E5B"/><stop offset="0.835" stop-color="#E8212A"/><stop offset="0.9" stop-color="#D42232"/><stop offset="0.95" stop-color="#B03A36"/><stop offset="0.975" stop-color="#8D5546"/><stop offset="1" stop-color="#8D5546"/></linearGradient><clipPath id="eclip"><rect x="158" y="940" width="400" height="302"/></clipPath></defs>
<rect x="495.4" y="961.9" width="7.2" height="180.6" fill="url(#cb)"/>
<text x="506.00" y="969.30" font-size="20" fill="#231F20" >29</text>
<text x="506.50" y="1144.00" font-size="20" fill="#231F20" >0</text>
<text transform="translate(483.70,1031.90) rotate(-90)" x="-107.65" y="0" font-size="20.4" fill="#231F20">Time Already Waited (s)</text>
<path d="M251.2,1089.1 C240,1089.5 231,1092 226,1098 C219,1106 216.3,1114 216.6,1123 C216.8,1131 218.5,1139 222.5,1144 C226,1149 228.3,1153 228.7,1160 C229,1167 228,1172 227.3,1178 L268,1178 C269,1174 270,1171 273,1168.5 C276,1166.5 281,1166 284.5,1164.5 C288,1162.5 288.3,1159 288.6,1156 C289.5,1154 288.6,1152.5 289.5,1151 C290.5,1149.5 289.3,1147 290.3,1145.5 C291,1144.2 290.2,1142.8 291.5,1142 C293,1141.3 296,1140.5 296,1138.5 C295.5,1136 292.5,1131 291,1128 C289.5,1125 289.7,1121 289.3,1117 C288.5,1108 285,1100 278,1094 C271,1090 262,1089 251.2,1089.1 Z" fill="#D1D3D4"/>
<path d="M252.40,1185.50 C252.88,1184.08 253.48,1182.43 254.50,1181.00 C255.52,1179.57 256.78,1178.25 258.50,1176.90 C260.22,1175.55 262.72,1173.85 264.80,1172.90 C266.88,1171.95 268.75,1171.53 271.00,1171.20 C273.25,1170.87 275.38,1170.48 278.30,1170.90 C281.22,1171.32 285.47,1172.43 288.50,1173.70 C291.53,1174.97 293.98,1176.92 296.50,1178.50 C299.02,1180.08 301.23,1182.28 303.60,1183.20 C305.97,1184.12 308.88,1184.17 310.70,1184.00 C312.52,1183.83 313.45,1182.67 314.50,1182.20 C315.55,1181.73 316.28,1181.20 317.00,1181.20 C317.72,1181.20 318.33,1181.53 318.80,1182.20 C319.27,1182.87 318.90,1184.10 319.80,1185.20 C320.70,1186.30 322.55,1187.55 324.20,1188.80 C325.85,1190.05 327.98,1191.25 329.70,1192.70 C331.42,1194.15 334.23,1196.18 334.50,1197.50 C334.77,1198.82 333.02,1199.82 331.30,1200.60 C329.58,1201.38 326.70,1201.67 324.20,1202.20 C321.70,1202.73 318.15,1203.00 316.30,1203.80 C314.45,1204.60 313.85,1205.72 313.10,1207.00 C312.35,1208.28 311.53,1210.40 311.80,1211.50 C312.07,1212.60 314.23,1212.72 314.70,1213.60 C315.17,1214.48 315.40,1216.18 314.60,1216.80 C313.80,1217.42 311.47,1217.48 309.90,1217.30 C308.33,1217.12 306.78,1216.75 305.20,1215.70 C303.62,1214.65 303.05,1212.07 300.40,1211.00 C297.75,1209.93 292.60,1209.83 289.30,1209.30 C286.00,1208.77 283.82,1208.02 280.60,1207.80 C277.38,1207.58 271.45,1207.57 270.00,1208.00 C268.55,1208.43 270.92,1209.47 271.90,1210.40 C272.88,1211.33 276.03,1212.85 275.90,1213.60 C275.77,1214.35 272.68,1214.82 271.10,1214.90 C269.52,1214.98 267.85,1214.77 266.40,1214.10 C264.95,1213.43 263.72,1212.48 262.40,1210.90 C261.08,1209.32 259.95,1206.70 258.50,1204.60 C257.05,1202.50 254.82,1200.15 253.70,1198.30 C252.58,1196.45 252.15,1194.97 251.80,1193.50 C251.45,1192.03 251.50,1190.83 251.60,1189.50 C251.70,1188.17 251.92,1186.92 252.40,1185.50 Z" fill="#BCBEC0"/>
<path d="M256,1189.5 C247,1187.5 237,1184.2 229,1183.6 C221,1183 215.6,1186 215.6,1193 C216,1203 224,1213 236,1220 C246,1225 260,1227 272,1227.2" fill="none" stroke="#BCBEC0" stroke-width="2.4" stroke-linecap="round"/>
<path d="M334,1197.5 l9,-7 M334,1197.5 l10,-3 M333,1198 l10,1 M333,1198.5 l7,6 M332,1199 l4,7 M330,1195 l2,-9 M331,1196 l6,-10 M326,1202 l-9,6 M325,1203 l-6,8" stroke="#BCBEC0" stroke-width="0.6" fill="none"/>
<path d="M295.2,1203.6 C295.8,1202.4 297.6,1202.1 298.6,1202.6 C299.8,1202.9 301,1203.3 302.2,1203.1 C303.6,1202.6 305.6,1202.5 307,1203 C306.6,1204.6 305.6,1205.6 304.9,1206.6 C304.3,1208.4 303.6,1210.3 303.1,1212.3 C304.6,1212.7 306.4,1213.2 307.9,1214.4 C306.5,1215.2 304.6,1214.7 303.4,1215.2 C303.1,1217.2 302.6,1219.2 302.4,1220.6 C303.2,1221 304.2,1221.3 304.6,1221.9 C302.8,1222.2 301.2,1222.3 299.6,1222.9 C298.6,1223.8 297.6,1224.6 296.6,1224.7 C296,1224 295.4,1223.2 294.4,1222.9 C292.4,1222.6 290.2,1222.5 288.4,1222.6 C287.1,1222.3 286.4,1221.2 287.4,1220.4 C286.6,1220 285.6,1219.8 285.4,1219.4 C286.6,1219 287.8,1219.1 288.2,1219.8 C288.2,1220.6 287.9,1221.1 288.6,1221.3 C289.8,1221.4 291,1221.3 292,1220.6 C291.6,1218.8 291.4,1216.8 292,1214.8 C292.8,1212.2 294.6,1210.2 295.8,1208.4 C296.4,1206.6 296,1205 295.2,1203.6 Z" fill="#231F20"/>
<g clip-path="url(#eclip)">
<path d="M181.3,958.3 L192.7,968.1 L204.1,978.0 L215.5,987.8 L226.8,997.5 L238.2,1007.3 L249.6,1017.0 L261.0,1026.6 L272.4,1036.2 L283.8,1045.7 L295.1,1055.2 L306.5,1064.5 L317.9,1073.8 L329.3,1082.9 L340.7,1092.0 L352.1,1101.0 L363.4,1109.9 L374.8,1118.7 L386.2,1127.5 L397.6,1136.2 L409.0,1144.9 L420.4,1153.6 L431.7,1162.2 L443.1,1170.8 L454.5,1179.5 L454.5,1200.6 L443.1,1190.8 L431.7,1180.9 L420.4,1171.1 L409.0,1161.3 L397.6,1151.6 L386.2,1141.8 L374.8,1132.2 L363.4,1122.5 L352.1,1113.0 L340.7,1103.5 L329.3,1094.1 L317.9,1084.8 L306.5,1075.6 L295.1,1066.5 L283.8,1057.5 L272.4,1048.5 L261.0,1039.7 L249.6,1030.9 L238.2,1022.1 L226.8,1013.4 L215.5,1004.7 L204.1,996.1 L192.7,987.4 L181.3,978.8 Z" fill="#BFE3F7" fill-opacity="0.8"/>
<path d="M184.2,969.8 L193.2,975.4 L202.2,981.0 L211.2,986.5 L220.2,992.0 L229.2,997.5 L238.2,1003.0 L247.1,1008.4 L256.1,1013.7 L265.1,1018.9 L274.1,1024.1 L283.1,1029.2 L292.1,1034.1 L301.1,1039.0 L310.1,1043.7 L319.1,1048.4 L328.1,1052.9 L337.1,1057.4 L346.0,1061.8 L355.0,1066.1 L364.0,1070.5 L373.0,1074.7 L382.0,1079.0 L391.0,1083.2 L400.0,1087.5 L400.0,1109.5 L391.0,1103.9 L382.0,1098.3 L373.0,1092.8 L364.0,1087.3 L355.0,1081.8 L346.0,1076.3 L337.1,1070.9 L328.1,1065.6 L319.1,1060.3 L310.1,1055.2 L301.1,1050.1 L292.1,1045.1 L283.1,1040.3 L274.1,1035.6 L265.1,1030.9 L256.1,1026.4 L247.1,1021.9 L238.2,1017.5 L229.2,1013.1 L220.2,1008.8 L211.2,1004.5 L202.2,1000.3 L193.2,996.0 L184.2,991.8 Z" fill="#B7B9DF" fill-opacity="0.7"/>
<path d="M186.0,982.9 L192.6,985.6 L199.3,988.2 L205.9,990.9 L212.6,993.5 L219.2,996.1 L225.9,998.6 L232.5,1001.1 L239.2,1003.5 L245.8,1005.9 L252.5,1008.2 L259.1,1010.4 L265.8,1012.4 L272.4,1014.4 L279.0,1016.2 L285.7,1017.9 L292.3,1019.5 L299.0,1021.1 L305.6,1022.6 L312.3,1024.0 L318.9,1025.4 L325.6,1026.8 L332.2,1028.2 L338.9,1029.5 L345.5,1030.8 L345.5,1050.9 L338.9,1048.2 L332.2,1045.6 L325.6,1042.9 L318.9,1040.3 L312.3,1037.8 L305.6,1035.2 L299.0,1032.7 L292.3,1030.3 L285.7,1027.9 L279.0,1025.6 L272.4,1023.5 L265.8,1021.4 L259.1,1019.5 L252.5,1017.7 L245.8,1016.0 L239.2,1014.4 L232.5,1012.8 L225.9,1011.3 L219.2,1009.9 L212.6,1008.5 L205.9,1007.1 L199.3,1005.7 L192.6,1004.4 L186.0,1003.1 Z" fill="#D9A8D0" fill-opacity="0.55"/>
<path d="M188.0,996.4 L192.3,997.2 L196.6,998.0 L200.9,998.8 L205.2,999.6 L209.5,1000.3 L213.8,1001.1 L218.1,1001.8 L222.4,1002.5 L226.7,1003.2 L231.0,1003.8 L235.3,1004.5 L239.7,1005.1 L244.0,1005.6 L248.3,1006.2 L252.6,1006.7 L256.9,1007.2 L261.2,1007.7 L265.5,1008.1 L269.8,1008.6 L274.1,1009.0 L278.4,1009.4 L282.7,1009.8 L287.0,1010.2 L291.3,1010.5 L291.3,1019.7 L287.0,1018.9 L282.7,1018.1 L278.4,1017.3 L274.1,1016.5 L269.8,1015.8 L265.5,1015.0 L261.2,1014.3 L256.9,1013.6 L252.6,1012.9 L248.3,1012.3 L244.0,1011.7 L239.7,1011.1 L235.3,1010.5 L231.0,1009.9 L226.7,1009.4 L222.4,1008.9 L218.1,1008.5 L213.8,1008.0 L209.5,1007.6 L205.2,1007.2 L200.9,1006.8 L196.6,1006.4 L192.3,1006.0 L188.0,1005.6 Z" fill="#F4A9C4" fill-opacity="0.5"/>
</g>
<g fill="#000000"><circle cx="193.6" cy="1006.0" r="2.3"/><circle cx="203.9" cy="1007.0" r="2.3"/><circle cx="214.2" cy="1008.0" r="2.3"/><circle cx="224.6" cy="1010.0" r="2.3"/><circle cx="234.9" cy="1013.0" r="2.3"/><circle cx="245.2" cy="1021.2" r="2.3"/><circle cx="255.6" cy="1030.5" r="2.3"/><circle cx="265.9" cy="1043.3" r="2.3"/><circle cx="276.2" cy="1059.2" r="2.3"/><circle cx="286.6" cy="1083.1" r="2.3"/><circle cx="296.9" cy="1100.6" r="2.3"/><circle cx="307.2" cy="1123.8" r="2.3"/><circle cx="317.5" cy="1140.0" r="2.3"/><circle cx="327.9" cy="1157.8" r="2.3"/><circle cx="338.2" cy="1168.4" r="2.3"/><circle cx="348.5" cy="1181.7" r="2.3"/><circle cx="358.9" cy="1185.5" r="2.3"/><circle cx="369.2" cy="1193.0" r="2.3"/><circle cx="379.5" cy="1203.7" r="2.3"/><circle cx="389.9" cy="1203.7" r="2.3"/><circle cx="400.2" cy="1211.3" r="2.3"/><circle cx="410.5" cy="1212.5" r="2.3"/><circle cx="420.8" cy="1218.0" r="2.3"/><circle cx="431.2" cy="1219.7" r="2.3"/><circle cx="441.5" cy="1223.3" r="2.3"/><circle cx="451.8" cy="1222.0" r="2.3"/><circle cx="462.2" cy="1219.2" r="2.3"/><circle cx="472.5" cy="1223.3" r="2.3"/><circle cx="482.8" cy="1226.2" r="2.3"/><circle cx="493.1" cy="1226.2" r="2.3"/></g>
<g fill="#4DB847"><circle cx="193.6" cy="1006.0" r="2.3"/><circle cx="203.9" cy="1007.0" r="2.3"/><circle cx="214.2" cy="1008.0" r="2.3"/><circle cx="224.6" cy="1012.0" r="2.3"/><circle cx="234.9" cy="1017.8" r="2.3"/><circle cx="245.2" cy="1024.7" r="2.3"/><circle cx="255.6" cy="1033.5" r="2.3"/><circle cx="265.9" cy="1046.3" r="2.3"/><circle cx="276.2" cy="1063.6" r="2.3"/><circle cx="286.6" cy="1080.2" r="2.3"/><circle cx="296.9" cy="1103.1" r="2.3"/><circle cx="307.2" cy="1114.0" r="2.3"/><circle cx="317.5" cy="1137.5" r="2.3"/><circle cx="327.9" cy="1150.8" r="2.3"/><circle cx="338.2" cy="1163.8" r="2.3"/><circle cx="348.5" cy="1169.2" r="2.3"/><circle cx="358.9" cy="1177.0" r="2.3"/><circle cx="369.2" cy="1190.5" r="2.3"/><circle cx="379.5" cy="1194.5" r="2.3"/><circle cx="389.9" cy="1199.5" r="2.3"/><circle cx="400.2" cy="1203.7" r="2.3"/><circle cx="410.5" cy="1210.8" r="2.3"/><circle cx="420.8" cy="1211.3" r="2.3"/><circle cx="431.2" cy="1219.0" r="2.3"/><circle cx="441.5" cy="1215.3" r="2.3"/><circle cx="451.8" cy="1212.2" r="2.3"/><circle cx="462.2" cy="1216.7" r="2.3"/><circle cx="472.5" cy="1222.0" r="2.3"/><circle cx="482.8" cy="1221.2" r="2.3"/></g>
<g fill="#3F5FB0"><circle cx="234.9" cy="1013.0" r="2.3"/><circle cx="245.2" cy="1021.0" r="2.3"/><circle cx="255.6" cy="1016.5" r="2.3"/><circle cx="265.9" cy="1019.5" r="2.3"/><circle cx="276.2" cy="1033.5" r="2.3"/><circle cx="286.6" cy="1040.5" r="2.3"/><circle cx="296.9" cy="1052.5" r="2.3"/><circle cx="307.2" cy="1063.5" r="2.3"/><circle cx="317.5" cy="1069.2" r="2.3"/><circle cx="327.9" cy="1083.6" r="2.3"/><circle cx="338.2" cy="1095.0" r="2.3"/><circle cx="348.5" cy="1107.3" r="2.3"/><circle cx="358.9" cy="1120.6" r="2.3"/><circle cx="369.2" cy="1134.7" r="2.3"/><circle cx="379.5" cy="1145.3" r="2.3"/><circle cx="389.9" cy="1156.4" r="2.3"/><circle cx="400.2" cy="1153.5" r="2.3"/><circle cx="410.5" cy="1146.1" r="2.3"/><circle cx="420.8" cy="1162.0" r="2.3"/><circle cx="431.2" cy="1175.7" r="2.3"/><circle cx="441.5" cy="1173.4" r="2.3"/></g>
<g fill="#7A4FA2"><circle cx="224.6" cy="1009.0" r="2.3"/><circle cx="245.2" cy="1006.0" r="2.3"/><circle cx="255.6" cy="1012.0" r="2.3"/><circle cx="265.9" cy="1016.5" r="2.3"/><circle cx="286.6" cy="1025.5" r="2.3"/><circle cx="296.9" cy="1031.0" r="2.3"/><circle cx="307.2" cy="1035.4" r="2.3"/><circle cx="317.5" cy="1048.1" r="2.3"/><circle cx="327.9" cy="1058.8" r="2.3"/><circle cx="338.2" cy="1063.1" r="2.3"/><circle cx="348.5" cy="1072.2" r="2.3"/><circle cx="358.9" cy="1061.5" r="2.3"/><circle cx="369.2" cy="1090.6" r="2.3"/><circle cx="379.5" cy="1109.0" r="2.3"/><circle cx="389.9" cy="1108.6" r="2.3"/></g>
<g fill="#BC3E98"><circle cx="214.2" cy="1007.0" r="2.3"/><circle cx="265.9" cy="1010.0" r="2.3"/><circle cx="276.2" cy="1018.5" r="2.3"/><circle cx="286.6" cy="1021.1" r="2.3"/><circle cx="296.9" cy="1025.6" r="2.3"/><circle cx="307.2" cy="1017.9" r="2.3"/><circle cx="317.5" cy="1027.3" r="2.3"/><circle cx="338.2" cy="1044.4" r="2.3"/></g>
<g fill="#E8385E"><circle cx="193.6" cy="1006.0" r="2.3"/><circle cx="203.9" cy="1006.0" r="2.3"/><circle cx="234.9" cy="1005.0" r="2.3"/><circle cx="245.2" cy="1004.2" r="2.3"/><circle cx="255.6" cy="1004.2" r="2.3"/><circle cx="265.9" cy="1006.0" r="2.3"/><circle cx="276.2" cy="1022.5" r="2.3"/><circle cx="286.6" cy="1016.8" r="2.3"/></g>
<g clip-path="url(#eclip)">
<path d="M178.3,968.5 L186.3,976.6 L194.4,984.6 L202.4,992.5 L210.5,1000.5 L218.5,1008.5 L226.6,1016.4 L234.6,1024.3 L242.6,1032.2 L250.7,1040.1 L258.7,1048.0 L266.8,1055.8 L274.8,1063.5 L282.9,1071.2 L290.9,1078.9 L298.9,1086.5 L307.0,1094.1 L315.0,1101.5 L323.1,1108.9 L331.1,1116.2 L339.1,1123.4 L347.2,1130.5 L355.2,1137.6 L363.3,1144.5 L371.3,1151.4 L379.4,1158.2 L387.4,1165.0 L395.4,1171.7 L403.5,1178.3 L411.5,1184.9 L419.6,1191.5 L427.6,1198.0 L435.7,1204.6 L443.7,1211.1 L451.7,1217.5 L459.8,1224.0 L467.8,1230.5 L475.9,1236.9 L483.9,1243.3 L492.0,1249.7 L500.0,1256.1 L500.0,1296.5 L492.0,1288.5 L483.9,1280.5 L475.9,1272.5 L467.8,1264.5 L459.8,1256.5 L451.7,1248.6 L443.7,1240.6 L435.7,1232.7 L427.6,1224.8 L419.6,1216.9 L411.5,1209.1 L403.5,1201.3 L395.4,1193.5 L387.4,1185.8 L379.4,1178.1 L371.3,1170.5 L363.3,1163.0 L355.2,1155.5 L347.2,1148.1 L339.1,1140.8 L331.1,1133.6 L323.1,1126.5 L315.0,1119.5 L307.0,1112.5 L298.9,1105.6 L290.9,1098.8 L282.9,1091.7 L274.8,1084.7 L266.8,1077.8 L258.7,1070.9 L250.7,1064.0 L242.6,1057.1 L234.6,1050.3 L226.6,1043.5 L218.5,1036.7 L210.5,1029.9 L202.4,1023.2 L194.4,1016.4 L186.3,1009.7 L178.3,1003.0 Z" fill="rgb(53,85,31)" fill-opacity="0.5"/>
<path d="M178.3,1003.0 L186.3,1009.7 L194.4,1016.4 L202.4,1023.2 L210.5,1029.9 L218.5,1036.7 L226.6,1043.5 L234.6,1050.3 L242.6,1057.1 L250.7,1064.0 L258.7,1070.9 L266.8,1077.8 L274.8,1084.7 L282.9,1091.7 L290.9,1098.8 L298.9,1105.6 L307.0,1112.5 L315.0,1119.5 L323.1,1126.5 L331.1,1133.6 L339.1,1140.8 L347.2,1148.1 L355.2,1155.5 L363.3,1163.0 L371.3,1170.5 L379.4,1178.1 L387.4,1185.8 L395.4,1193.5 L403.5,1201.3 L411.5,1209.1 L419.6,1216.9 L427.6,1224.8 L435.7,1232.7 L443.7,1240.6 L451.7,1248.6 L459.8,1256.5 L467.8,1264.5 L475.9,1272.5 L483.9,1280.5 L492.0,1288.5 L500.0,1296.5 L500.0,1299.2 L492.0,1291.2 L483.9,1283.2 L475.9,1275.2 L467.8,1267.2 L459.8,1259.2 L451.7,1251.3 L443.7,1243.3 L435.7,1235.4 L427.6,1227.5 L419.6,1219.6 L411.5,1211.8 L403.5,1204.0 L395.4,1196.2 L387.4,1188.5 L379.4,1180.8 L371.3,1173.2 L363.3,1165.7 L355.2,1158.2 L347.2,1150.8 L339.1,1143.5 L331.1,1136.3 L323.1,1129.2 L315.0,1122.2 L307.0,1115.2 L298.9,1108.3 L290.9,1101.5 L282.9,1094.8 L274.8,1088.1 L266.8,1081.4 L258.7,1074.8 L250.7,1068.2 L242.6,1061.7 L234.6,1055.1 L226.6,1048.6 L218.5,1042.2 L210.5,1035.7 L202.4,1029.3 L194.4,1022.8 L186.3,1016.4 L178.3,1010.0 Z" fill="rgb(79,81,81)" fill-opacity="0.5"/>
</g>
<g clip-path="url(#eclip)" stroke-linecap="butt">
<path d="M178.3,990.1 L480,1260.6" stroke="#231F20" stroke-width="1.2"/>
<path d="M178.6,988.8 L480,1259.0" stroke="#4DB847" stroke-width="2.6"/>
<path d="M196.9,981.2 L453.7,1189.4" stroke="#4565B0" stroke-width="3"/>
<path d="M185,981.25 L399.7,1098.3" stroke="#7550A2" stroke-width="3"/>
<path d="M187,993.3 L345.3,1040.8" stroke="#C1449B" stroke-width="3"/>
<path d="M189.6,1001.25 L290.6,1015" stroke="#EE2A7B" stroke-width="3"/>
</g>
<text transform="translate(623.25,968.50) scale(1.12,1)" x="-0.60" y="0" font-size="36" font-weight="bold" fill="#231F20" stroke="#231F20" stroke-width="1.3" stroke-linejoin="round">f</text>
<rect x="670.3" y="999.3" width="282.0" height="216.0" fill="none" stroke="#7A7A7A" stroke-width="1.2"/>
<path d="M764.3,1215.3 v-2.5 M764.3,999.3 v2.5 M858.3,1215.3 v-2.5 M858.3,999.3 v2.5 " stroke="#8C8C8C" stroke-width="1"/>
<text x="643.20" y="1012.00" font-size="20" fill="#231F20" >1</text>
<text x="644.70" y="1228.00" font-size="20" fill="#231F20" >0</text>
<text x="667.25" y="1239.30" font-size="20" fill="#231F20" >0</text>
<text x="753.05" y="1239.30" font-size="20" fill="#231F20" >10</text>
<text x="847.60" y="1239.30" font-size="20" fill="#231F20" >20</text>
<text x="941.12" y="1239.30" font-size="20" fill="#231F20" >30</text>
<text x="739.55" y="1268.00" font-size="20.2" fill="#231F20" >Time remaining (s)</text>
<text transform="translate(631.00,1122.50) rotate(-90)" x="-92.98" y="0" font-size="20.2" fill="#231F20">p(Earn) in Wait Zone</text>
<circle cx="1058" cy="984.8" r="2.1" fill="#000000"/>
<text x="1064.95" y="989.10" font-size="16.2" fill="#231F20" >0 s invested</text>
<circle cx="1058" cy="1002.6" r="2.1" fill="#6ABD45"/>
<text x="1064.80" y="1006.95" font-size="16.2" fill="#231F20" >2 s invested</text>
<circle cx="1058" cy="1020.5" r="2.1" fill="#1DB954"/>
<text x="1065.00" y="1024.80" font-size="16.2" fill="#231F20" >3 s invested</text>
<circle cx="1058" cy="1038.3" r="2.1" fill="#00735F"/>
<text x="1065.25" y="1042.65" font-size="16.2" fill="#231F20" >4 s invested</text>
<circle cx="1058" cy="1056.2" r="2.1" fill="#1B4D8F"/>
<text x="1064.95" y="1060.50" font-size="16.2" fill="#231F20" >5 s invested</text>
<circle cx="1058" cy="1074.0" r="2.1" fill="#1B4D8F"/>
<text x="1064.80" y="1078.35" font-size="16.2" fill="#231F20" >6 s invested</text>
<circle cx="1058" cy="1091.9" r="2.1" fill="#224E97"/>
<text x="1064.75" y="1096.20" font-size="16.2" fill="#231F20" >7 s invested</text>
<circle cx="1058" cy="1109.8" r="2.1" fill="#2B4C9E"/>
<text x="1064.90" y="1114.05" font-size="16.2" fill="#231F20" >8 s invested</text>
<circle cx="1058" cy="1127.6" r="2.1" fill="#33499F"/>
<text x="1064.85" y="1131.90" font-size="16.2" fill="#231F20" >9 s invested</text>
<circle cx="1058" cy="1145.5" r="2.1" fill="#3C47A2"/>
<text x="1064.35" y="1149.75" font-size="16.2" fill="#231F20" >10 s invested</text>
<circle cx="1058" cy="1163.3" r="2.1" fill="#4A49A8"/>
<text x="1064.35" y="1167.60" font-size="16.2" fill="#231F20" >11 s invested</text>
<circle cx="1058" cy="1181.2" r="2.1" fill="#5D3F98"/>
<text x="1064.35" y="1185.45" font-size="16.2" fill="#231F20" >12 s invested</text>
<circle cx="1058" cy="1199.0" r="2.1" fill="#7A3B91"/>
<text x="1064.35" y="1203.30" font-size="16.2" fill="#231F20" >13 s invested</text>
<circle cx="1058" cy="1216.8" r="2.1" fill="#A02F72"/>
<text x="1064.35" y="1221.15" font-size="16.2" fill="#231F20" >14 s invested</text>
<circle cx="1058" cy="1234.7" r="2.1" fill="#E31E3B"/>
<text x="1064.35" y="1239.00" font-size="16.2" fill="#231F20" >15 s invested</text>
<g fill="#000000"><circle cx="679.7" cy="1001.5" r="2.7"/><circle cx="689.1" cy="1002.5" r="2.7"/><circle cx="698.5" cy="1004.0" r="2.7"/><circle cx="707.9" cy="1006.0" r="2.7"/><circle cx="717.3" cy="1009.0" r="2.7"/><circle cx="726.7" cy="1014.5" r="2.7"/><circle cx="736.1" cy="1018.5" r="2.7"/><circle cx="745.5" cy="1026.5" r="2.7"/><circle cx="754.9" cy="1035.5" r="2.7"/><circle cx="764.3" cy="1046.0" r="2.7"/><circle cx="773.7" cy="1060.0" r="2.7"/><circle cx="783.1" cy="1075.0" r="2.7"/><circle cx="792.5" cy="1083.5" r="2.7"/><circle cx="801.9" cy="1096.5" r="2.7"/><circle cx="820.7" cy="1117.0" r="2.7"/><circle cx="830.1" cy="1129.0" r="2.7"/><circle cx="848.9" cy="1148.5" r="2.7"/><circle cx="858.3" cy="1157.5" r="2.7"/><circle cx="867.7" cy="1163.5" r="2.7"/><circle cx="877.1" cy="1163.0" r="2.7"/><circle cx="886.5" cy="1166.0" r="2.7"/><circle cx="895.9" cy="1170.2" r="2.7"/><circle cx="914.7" cy="1173.2" r="2.7"/><circle cx="924.1" cy="1175.2" r="2.7"/><circle cx="933.5" cy="1179.0" r="2.7"/><circle cx="942.9" cy="1180.0" r="2.7"/></g>
<g fill="#000000"><circle cx="679.7" cy="1001.0" r="2.7"/><circle cx="689.1" cy="1002.0" r="2.7"/><circle cx="698.5" cy="1003.0" r="2.7"/><circle cx="707.9" cy="1004.5" r="2.7"/><circle cx="717.3" cy="1007.0" r="2.7"/><circle cx="726.7" cy="1011.0" r="2.7"/><circle cx="736.1" cy="1015.5" r="2.7"/><circle cx="745.5" cy="1023.5" r="2.7"/><circle cx="754.9" cy="1032.0" r="2.7"/><circle cx="764.3" cy="1041.0" r="2.7"/><circle cx="773.7" cy="1054.0" r="2.7"/><circle cx="783.1" cy="1067.5" r="2.7"/><circle cx="792.5" cy="1081.0" r="2.7"/><circle cx="801.9" cy="1092.0" r="2.7"/><circle cx="811.3" cy="1106.0" r="2.7"/><circle cx="820.7" cy="1113.5" r="2.7"/><circle cx="830.1" cy="1123.5" r="2.7"/><circle cx="839.5" cy="1135.5" r="2.7"/><circle cx="848.9" cy="1141.5" r="2.7"/><circle cx="858.3" cy="1154.0" r="2.7"/><circle cx="867.7" cy="1156.5" r="2.7"/><circle cx="877.1" cy="1157.8" r="2.7"/><circle cx="886.5" cy="1162.5" r="2.7"/><circle cx="895.9" cy="1165.2" r="2.7"/><circle cx="905.3" cy="1169.5" r="2.7"/><circle cx="914.7" cy="1166.5" r="2.7"/><circle cx="924.1" cy="1171.5" r="2.7"/><circle cx="933.5" cy="1176.5" r="2.7"/><circle cx="942.9" cy="1176.0" r="2.7"/><circle cx="952.3" cy="1179.5" r="2.7"/></g>
<g fill="#6ABD45"><circle cx="679.7" cy="1001.5" r="2.7"/><circle cx="689.1" cy="1002.0" r="2.7"/><circle cx="698.5" cy="1003.0" r="2.7"/><circle cx="707.9" cy="1004.5" r="2.7"/><circle cx="717.3" cy="1006.5" r="2.7"/><circle cx="726.7" cy="1010.0" r="2.7"/><circle cx="736.1" cy="1014.5" r="2.7"/><circle cx="745.5" cy="1020.5" r="2.7"/><circle cx="754.9" cy="1026.5" r="2.7"/><circle cx="764.3" cy="1039.5" r="2.7"/><circle cx="773.7" cy="1051.0" r="2.7"/><circle cx="783.1" cy="1059.0" r="2.7"/><circle cx="792.5" cy="1073.8" r="2.7"/><circle cx="801.9" cy="1081.0" r="2.7"/><circle cx="811.3" cy="1089.7" r="2.7"/><circle cx="820.7" cy="1105.0" r="2.7"/><circle cx="830.1" cy="1113.0" r="2.7"/><circle cx="839.5" cy="1117.5" r="2.7"/><circle cx="848.9" cy="1131.2" r="2.7"/><circle cx="858.3" cy="1136.7" r="2.7"/><circle cx="867.7" cy="1140.8" r="2.7"/><circle cx="877.1" cy="1141.3" r="2.7"/><circle cx="886.5" cy="1143.5" r="2.7"/><circle cx="895.9" cy="1146.8" r="2.7"/><circle cx="905.3" cy="1150.0" r="2.7"/><circle cx="914.7" cy="1161.5" r="2.7"/><circle cx="924.1" cy="1166.5" r="2.7"/><circle cx="933.5" cy="1164.0" r="2.7"/></g>
<g fill="#1DB954"><circle cx="679.7" cy="1001.0" r="2.7"/><circle cx="689.1" cy="1001.5" r="2.7"/><circle cx="698.5" cy="1003.0" r="2.7"/><circle cx="707.9" cy="1003.5" r="2.7"/><circle cx="717.3" cy="1005.0" r="2.7"/><circle cx="726.7" cy="1007.5" r="2.7"/><circle cx="736.1" cy="1011.0" r="2.7"/><circle cx="745.5" cy="1015.0" r="2.7"/><circle cx="754.9" cy="1023.5" r="2.7"/><circle cx="764.3" cy="1033.3" r="2.7"/><circle cx="773.7" cy="1039.0" r="2.7"/><circle cx="783.1" cy="1048.7" r="2.7"/><circle cx="792.5" cy="1059.0" r="2.7"/><circle cx="801.9" cy="1065.8" r="2.7"/><circle cx="811.3" cy="1082.5" r="2.7"/><circle cx="820.7" cy="1089.8" r="2.7"/><circle cx="830.1" cy="1102.5" r="2.7"/><circle cx="839.5" cy="1120.0" r="2.7"/><circle cx="848.9" cy="1112.8" r="2.7"/><circle cx="858.3" cy="1121.3" r="2.7"/><circle cx="867.7" cy="1133.0" r="2.7"/><circle cx="877.1" cy="1133.6" r="2.7"/><circle cx="886.5" cy="1139.4" r="2.7"/><circle cx="895.9" cy="1144.0" r="2.7"/><circle cx="905.3" cy="1145.8" r="2.7"/><circle cx="914.7" cy="1155.2" r="2.7"/><circle cx="924.1" cy="1150.0" r="2.7"/></g>
<g fill="#00735F"><circle cx="679.7" cy="1000.5" r="2.7"/><circle cx="689.1" cy="1001.0" r="2.7"/><circle cx="698.5" cy="1002.5" r="2.7"/><circle cx="707.9" cy="1002.5" r="2.7"/><circle cx="717.3" cy="1004.0" r="2.7"/><circle cx="726.7" cy="1006.0" r="2.7"/><circle cx="736.1" cy="1009.0" r="2.7"/><circle cx="745.5" cy="1013.5" r="2.7"/><circle cx="754.9" cy="1019.0" r="2.7"/><circle cx="764.3" cy="1022.5" r="2.7"/><circle cx="773.7" cy="1034.0" r="2.7"/><circle cx="783.1" cy="1040.8" r="2.7"/><circle cx="792.5" cy="1047.2" r="2.7"/><circle cx="801.9" cy="1056.8" r="2.7"/><circle cx="811.3" cy="1064.5" r="2.7"/><circle cx="820.7" cy="1078.5" r="2.7"/><circle cx="830.1" cy="1100.5" r="2.7"/><circle cx="839.5" cy="1091.2" r="2.7"/><circle cx="848.9" cy="1101.2" r="2.7"/><circle cx="858.3" cy="1109.5" r="2.7"/><circle cx="867.7" cy="1113.5" r="2.7"/><circle cx="877.1" cy="1120.5" r="2.7"/><circle cx="886.5" cy="1109.0" r="2.7"/><circle cx="895.9" cy="1130.5" r="2.7"/><circle cx="905.3" cy="1141.8" r="2.7"/><circle cx="914.7" cy="1134.2" r="2.7"/></g>
<g fill="#1F4A8E"><circle cx="679.7" cy="1000.0" r="2.7"/><circle cx="689.1" cy="1000.5" r="2.7"/><circle cx="698.5" cy="1001.5" r="2.7"/><circle cx="707.9" cy="1002.0" r="2.7"/><circle cx="717.3" cy="1003.0" r="2.7"/><circle cx="726.7" cy="1003.5" r="2.7"/><circle cx="736.1" cy="1006.0" r="2.7"/><circle cx="745.5" cy="1012.5" r="2.7"/><circle cx="754.9" cy="1015.0" r="2.7"/><circle cx="764.3" cy="1024.0" r="2.7"/><circle cx="773.7" cy="1028.5" r="2.7"/><circle cx="783.1" cy="1033.0" r="2.7"/><circle cx="792.5" cy="1040.3" r="2.7"/><circle cx="801.9" cy="1042.7" r="2.7"/><circle cx="811.3" cy="1057.5" r="2.7"/><circle cx="820.7" cy="1080.5" r="2.7"/><circle cx="830.1" cy="1072.8" r="2.7"/><circle cx="839.5" cy="1075.3" r="2.7"/><circle cx="848.9" cy="1090.1" r="2.7"/><circle cx="858.3" cy="1091.5" r="2.7"/><circle cx="867.7" cy="1107.5" r="2.7"/><circle cx="877.1" cy="1093.7" r="2.7"/><circle cx="886.5" cy="1110.3" r="2.7"/><circle cx="895.9" cy="1124.8" r="2.7"/><circle cx="905.3" cy="1123.2" r="2.7"/></g>
<g fill="#4A4DAA"><circle cx="679.7" cy="999.5" r="2.7"/><circle cx="689.1" cy="1000.0" r="2.7"/><circle cx="698.5" cy="1000.5" r="2.7"/><circle cx="707.9" cy="1001.5" r="2.7"/><circle cx="717.3" cy="1002.0" r="2.7"/><circle cx="726.7" cy="1000.5" r="2.7"/><circle cx="736.1" cy="1007.5" r="2.7"/><circle cx="745.5" cy="1003.5" r="2.7"/><circle cx="754.9" cy="1008.5" r="2.7"/><circle cx="764.3" cy="1010.5" r="2.7"/><circle cx="773.7" cy="1020.0" r="2.7"/><circle cx="783.1" cy="1019.5" r="2.7"/><circle cx="792.5" cy="1022.0" r="2.7"/><circle cx="801.9" cy="1033.5" r="2.7"/><circle cx="811.3" cy="1025.8" r="2.7"/><circle cx="820.7" cy="1043.7" r="2.7"/><circle cx="830.1" cy="1048.2" r="2.7"/><circle cx="839.5" cy="1056.5" r="2.7"/><circle cx="848.9" cy="1057.3" r="2.7"/><circle cx="858.3" cy="1064.5" r="2.7"/></g>
<g fill="#E31E26"><circle cx="679.7" cy="999.7" r="2.7"/><circle cx="689.1" cy="1000.0" r="2.7"/><circle cx="698.5" cy="1000.0" r="2.7"/><circle cx="707.9" cy="1000.8" r="2.7"/><circle cx="717.3" cy="1000.3" r="2.7"/><circle cx="726.7" cy="1001.8" r="2.7"/><circle cx="736.1" cy="1004.0" r="2.7"/><circle cx="745.5" cy="1001.8" r="2.7"/><circle cx="754.9" cy="1005.5" r="2.7"/><circle cx="764.3" cy="1004.2" r="2.7"/><circle cx="773.7" cy="1010.0" r="2.7"/><circle cx="783.1" cy="1016.5" r="2.7"/><circle cx="792.5" cy="1017.2" r="2.7"/><circle cx="801.9" cy="1023.5" r="2.7"/><circle cx="811.3" cy="1034.5" r="2.7"/></g>
</svg></body></html>
